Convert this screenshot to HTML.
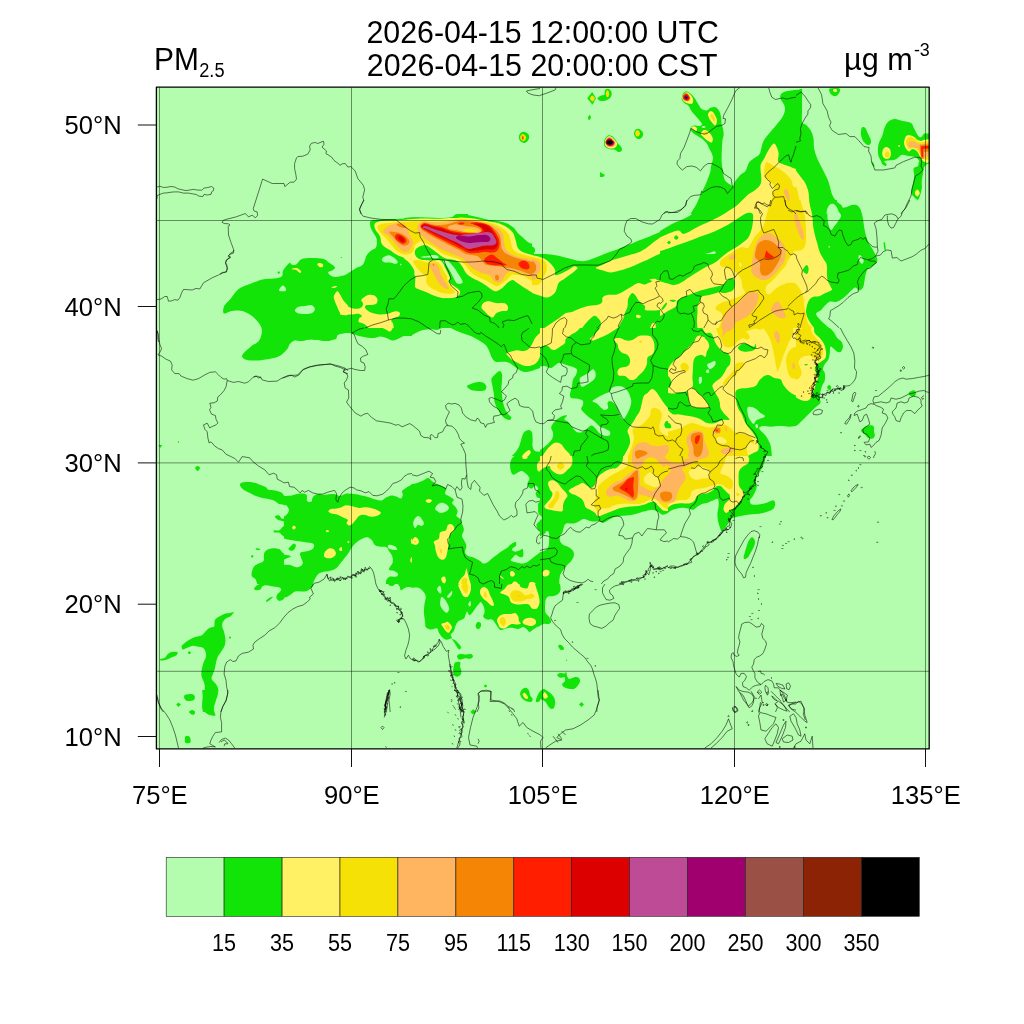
<!DOCTYPE html>
<html lang="en"><head><meta charset="utf-8"><title>PM2.5 2026-04-15 12:00:00 UTC</title>
<style>
html,body{margin:0;padding:0;background:#fff;width:1024px;height:1024px;overflow:hidden}
svg{display:block;position:absolute;left:0;top:0;will-change:transform}
text{font-family:"Liberation Sans",sans-serif;fill:#000}
.t{font-size:30.35px;text-anchor:middle}
.a{font-size:25.6px}
.u{font-size:30.6px}
.p{font-size:29.9px}
.s{font-size:18.2px}
.v{font-size:17.9px}
.c{font-size:21.6px;text-anchor:middle}
.b path{fill:none;stroke:#000;stroke-width:.55;stroke-linejoin:round}
.g line{stroke:#000;stroke-width:.45}
.k line{stroke:#111;stroke-width:1}
</style></head><body>
<svg width="1024" height="1024" viewBox="0 0 1024 1024">
<defs><clipPath id="m"><rect x="156.4" y="87.2" width="772.8" height="661.7"/></clipPath></defs>
<rect x="156.4" y="87.2" width="772.8" height="661.7" fill="#b4fdae"/>
<g clip-path="url(#m)">
<g shape-rendering="auto">
<path fill="#12e408" d="M158.5 444.9L162.2 444.9L160.4 448Z"/>
<path fill="#12e408" d="M177.8 442C177.8 441.8 178.2 441.2 178.5 441.2C178.8 441.2 179.2 441.8 179.2 442C179.2 442.2 178.8 442.8 178.5 442.8C178.2 442.8 177.8 442.2 177.8 442Z"/>
<path fill="#12e408" d="M195.2 467.9C195.2 467 196.7 466 197.5 466C198.3 466 200 467 200 467.9C200 468.7 198.4 471 197.6 471C196.8 471 195.3 468.7 195.2 467.9Z"/>
<path fill="#12e408" d="M240 484.1C240.4 483.3 241.5 482.6 243.5 482.2C245.5 481.9 249.5 481.8 252.2 482.2C255 482.7 257.5 483.9 259.8 484.8C262 485.6 264.5 486.4 266 487.2C267.5 488.1 267 489.2 268.5 489.8C270 490.3 272.7 490 274.8 490.4C276.8 490.8 279.5 491.4 281 492.2C282.5 493.1 283.5 494.9 284 495.4C284.5 495.9 284 495.4 284 495.4L284 504.8C284 504.8 280.7 504.8 279.1 504.1C277.6 503.5 276.5 501.8 274.8 501C273 500.2 270.6 499.6 268.5 499.1C266.4 498.6 264.3 498.4 262.2 497.9C260.2 497.4 258.1 496.8 256 496C253.9 495.2 251.6 493.8 249.8 492.9C247.9 491.9 246.2 491.3 244.8 490.4C243.3 489.4 241.8 488.3 241 487.2C240.2 486.2 239.6 485 240 484.1Z"/>
<path fill="#12e408" d="M274.8 516.6C275 515.9 278 515.1 279.1 515.4C280.3 515.7 280.8 518 281.6 518.5C282.4 519 284 518.5 284 518.5L284 521.6C284 521.6 283.3 521.3 282.2 521C281.2 520.7 279.1 520.5 277.9 519.8C276.6 519 274.5 517.4 274.8 516.6Z"/>
<path fill="#12e408" d="M274.1 530.4C275 530 277.8 530.9 279.1 530.4C280.5 529.9 281.4 528 282.2 527.2C283.1 526.5 284 526 284 526L284 536.6C284 536.6 282.4 535.4 281.6 534.8C280.8 534.1 280.4 532.9 279.1 532.5C277.9 532.1 275 532.9 274.1 532.5C273.3 532.1 273.3 530.7 274.1 530.4Z"/>
<path fill="#12e408" d="M251.6 575.4C251.3 573.4 252.4 569.2 253.5 567.2C254.6 565.3 256.8 564.5 258.5 563.5C260.2 562.5 262.6 562.7 263.5 561C264.4 559.3 263.5 555.4 264.1 553.5C264.8 551.6 265.8 550.6 267.2 549.8C268.7 548.9 270.9 548.4 272.9 548.2C274.9 548.1 277.6 548.5 279.1 549.1C280.7 549.8 281.4 551.5 282.2 552.2C283.1 553 284 553.5 284 553.5L284 584L257.2 584C257.2 584 256.3 580.6 255.4 579.1C254.4 577.7 251.9 577.4 251.6 575.4Z"/>
<path fill="#12e408" d="M256 548.2C256.6 548.1 259.1 548.5 259.8 548.8C260.4 549 260.3 549.8 259.8 550C259.2 550.2 256.9 550 256.2 549.8C255.6 549.5 255.4 548.4 256 548.2Z"/>
<path fill="#12e408" d="M251 556.4C251 556 251.8 555.1 252.2 555.1C252.7 555.1 253.5 556 253.5 556.4C253.5 556.8 252.7 557.6 252.2 557.6C251.8 557.6 251 556.8 251 556.4Z"/>
<path fill="#12e408" d="M254.1 589C254.1 588.3 255.1 586.7 256 585.9C256.9 585 259.8 584 259.8 584L284 584L284 599C284 599 281 601 279.8 600.9C278.5 600.8 277 599.4 276.6 598.4C276.2 597.3 276.5 596 277.2 594.6C278 593.3 280.6 591.4 281 590.2C281.4 589.1 281 588.4 279.8 587.8C278.5 587.1 275.8 586.9 273.5 586.5C271.2 586.1 267.9 585.2 266 585.2C264.1 585.2 263.2 585.8 262.2 586.5C261.3 587.2 261.4 589 260.4 589.6C259.3 590.2 257 590.4 256 590.2C255 590.1 254.1 589.7 254.1 589Z"/>
<path fill="#12e408" d="M266 600.9C266.3 600.2 268 598.7 269.1 598C270.3 597.3 272.7 596.5 272.9 596.8C273.1 597 271.3 598.8 270.4 599.6C269.4 600.5 268 601.5 267.2 601.8C266.5 602 265.7 601.5 266 600.9Z"/>
<path fill="#12e408" d="M181.6 646.5C181.6 645.7 181.7 645.7 182.9 644.6C184 643.6 186.5 641.5 188.5 640.2C190.5 639 192.6 638 194.8 637.1C196.9 636.3 199.8 636.3 201.6 635.2C203.5 634.2 204.6 632.1 206 630.9C207.4 629.6 208.4 628.5 209.8 627.8C211.1 627 213.3 627.8 214.1 626.5C215 625.2 214 621.8 214.8 620.2C215.5 618.7 216.9 618.2 218.5 617.1C220.1 616.1 222.2 614.7 224.1 614C226 613.3 228.1 613.3 229.8 613C231.4 612.7 233.5 611.6 233.8 612.1C234 612.6 232.3 614.8 231 615.9C229.7 616.9 227.4 617.3 226 618.4C224.6 619.4 223.5 620.8 222.9 622.1C222.2 623.5 222 624.8 222.2 626.5C222.5 628.2 223.6 630 224.1 632.1C224.6 634.2 225.3 636.8 225.4 639C225.5 641.2 225.4 643.3 224.8 645.2C224.1 647.2 222.8 649 221.6 650.9C220.5 652.8 218.8 654.5 217.9 656.5C216.9 658.5 216.5 660.7 216 662.8C215.5 664.8 215.3 667.1 214.8 669C214.2 670.9 213.4 672.3 212.9 674C212.4 675.7 211.3 677.5 211.6 679C211.9 680.5 213.7 681.3 214.8 682.8C215.8 684.2 217.4 685.9 217.9 687.8C218.4 689.6 218.2 691.9 217.9 694C217.6 696.1 216.6 698.2 216 700.2C215.4 702.3 214.5 704.5 214.1 706.5C213.7 708.5 213.5 712 213.5 712L202.9 712C202.9 712 202.2 706.6 202.2 704C202.2 701.4 202.5 699 202.9 696.5C203.3 694 204.5 691.3 204.8 689C205 686.7 204.6 684.8 204.1 682.8C203.6 680.7 202 678.6 201.6 676.5C201.2 674.4 201.3 672.5 201.6 670.2C201.9 668 202.8 665 203.5 662.8C204.2 660.5 205.7 658.4 206 656.5C206.3 654.6 205.9 653 205.4 651.5C204.9 650 204.2 648.6 202.9 647.8C201.5 646.9 199 646.8 197.2 646.5C195.5 646.2 193.9 645.7 192.2 645.9C190.6 646.1 188.8 647.1 187.2 647.8C185.7 648.4 183.8 649.8 182.9 649.6C181.9 649.4 181.6 647.3 181.6 646.5Z"/>
<path fill="#12e408" d="M160.4 659C161.1 658.5 163.5 658.6 164.8 657.8C166 656.9 166.7 654.9 167.9 654C169 653.1 170.1 652.4 171.6 652.1C173.2 651.8 176.4 651.6 177.2 652.1C178.1 652.6 177.5 654.4 176.6 655.2C175.8 656.1 173.6 656.5 172.2 657.1C170.9 657.8 169.9 658.5 168.5 659C167.1 659.5 165.5 660 164.1 660.2C162.8 660.5 161 660.7 160.4 660.5C159.8 660.3 159.6 659.5 160.4 659Z"/>
<path fill="#12e408" d="M187.9 652.8C187.9 652.2 188.9 651.2 189.4 651.2C189.9 651.2 190.9 652.2 190.9 652.8C190.9 653.2 189.9 654.2 189.4 654.2C188.9 654.2 187.9 653.2 187.9 652.8Z"/>
<path fill="#12e408" d="M228.9 637.5C228.9 637.1 229.6 636.4 230 636.4C230.4 636.4 231.1 637.1 231.1 637.5C231.1 637.9 230.4 638.6 230 638.6C229.6 638.6 228.9 637.9 228.9 637.5Z"/>
<path fill="#12e408" d="M184.1 696.5C184.3 695.8 184.6 695 186 694.6C187.4 694.2 190.8 693.7 192.2 694C193.7 694.3 194.5 695.5 194.8 696.5C195 697.5 194.8 699.5 193.5 700.2C192.2 701 188.7 701.1 187.2 700.9C185.8 700.7 185.3 699.7 184.8 699C184.2 698.3 183.9 697.2 184.1 696.5Z"/>
<path fill="#12e408" d="M176.2 704.6L178.5 702.4L180.8 704.6L178.5 706.9Z"/>
<path fill="#12e408" d="M189.1 712C189.1 712 191.3 710.2 192.2 710.2C193.2 710.2 194.8 712 194.8 712L189.1 712Z"/>
<path fill="#12e408" d="M202.2 690C202.2 690 202.9 697.1 202.9 700C202.9 702.9 201.9 705.5 202.2 707.5C202.6 709.5 203.5 710.6 204.8 711.9C206 713.1 208 714.4 209.8 715C211.5 715.6 214.6 716.2 215.4 715.6C216.1 715 214.4 713 214.1 711.2C213.8 709.5 213.2 707.3 213.5 705C213.8 702.7 215.2 700 216 697.5C216.8 695 218.5 690 218.5 690L202.2 690Z"/>
<path fill="#12e408" d="M189.1 711.9C189.2 711.1 191.3 710 192.2 710C193.2 710 194.7 711.1 195 711.9C195.3 712.6 194.7 714 194.1 714.4C193.6 714.8 192.5 714.8 191.6 714.4C190.8 714 189 712.6 189.1 711.9Z"/>
<path fill="#12e408" d="M185 737.5C185.2 736.4 185.8 736.1 186.6 736C187.4 735.9 189.1 735.8 189.8 736.9C190.4 738 191.1 741.5 190.4 742.5C189.6 743.5 186.3 743.6 185.4 742.8C184.5 741.9 184.8 738.6 185 737.5Z"/>
<path fill="#12e408" d="M223.1 311.9C223 310.6 223.2 307.7 224.4 305.6C225.5 303.5 227.8 302 230 299.4C232.2 296.8 235.2 292.2 237.5 290C239.8 287.8 241.5 287.3 243.8 286.2C246 285.2 248.1 284.6 251.2 283.5C254.4 282.4 258.8 280.2 262.5 279.4C266.2 278.5 270.5 279 273.8 278.5C277 278 280.3 277.6 281.9 276.2C283.4 274.9 281.9 272.8 283.1 270.6C284.4 268.4 287.9 264.1 289.4 263.1C290.8 262.1 290.7 264.5 291.9 264.8C293 265 294.6 265.3 296.2 264.4C297.9 263.4 299.2 260 301.9 259C304.6 258 308.9 258.1 312.5 258.1C316.1 258.1 321 258.3 323.8 259C326.5 259.7 326.9 261.2 328.8 262.5C330.6 263.8 334 265.6 334.8 266.9C335.5 268.1 334.2 269.1 333.1 270C332 270.9 328.2 271.4 328.1 272.5C328 273.6 330.5 275.8 332.5 276.5C334.5 277.2 337.4 276.8 340 276.5C342.6 276.2 348 275 348 275L348 332.5C348 332.5 343.6 333.1 341.9 333.5C340.1 333.9 338.4 334.1 337.5 335C336.6 335.9 337.1 338 336.2 338.8C335.4 339.5 334.2 339.4 332.5 339.8C330.8 340.1 328.5 341 326.2 341C324 341 321.5 340.3 318.8 340C316 339.7 312.9 339.2 310 339.4C307.1 339.5 303.8 340.9 301.2 341C298.8 341.1 296.9 339.8 295 340.2C293.1 340.7 291.2 342.3 290 343.8C288.8 345.2 289 346.9 287.5 348.8C286 350.6 283.5 353.4 281.2 355C279 356.6 276.9 357.3 273.8 358.1C270.6 359 265.6 359.6 262.5 360C259.4 360.4 257.7 360.7 255 360.6C252.3 360.6 248.4 360.4 246.2 359.8C244.1 359.1 242.7 358 242.2 356.9C241.8 355.8 242.2 354.9 243.8 353.1C245.2 351.4 249 348.1 251.2 346.2C253.5 344.4 255.9 343.7 257.5 342.2C259.1 340.8 259.9 339.5 260.6 337.5C261.4 335.5 262.1 332.3 261.9 330C261.7 327.7 260.7 325.8 259.4 323.8C258 321.7 255.9 319.4 253.8 317.5C251.6 315.6 248.8 313.6 246.2 312.5C243.8 311.4 241.5 310.8 238.8 310.6C236 310.5 232.3 311 230 311.5C227.7 312 226.1 313.4 225 313.5C223.9 313.6 223.2 313.2 223.1 311.9Z"/>
<path fill="#12e408" d="M277.5 272.5C277.5 272.1 278.3 271.2 278.8 271.2C279.2 271.2 280 272.1 280 272.5C280 272.9 279.2 273.8 278.8 273.8C278.3 273.8 277.5 272.9 277.5 272.5Z"/>
<path fill="#12e408" d="M340.6 257.5C340.6 257.3 341 256.9 341.2 256.9C341.5 256.9 341.9 257.3 341.9 257.5C341.9 257.7 341.5 258.1 341.2 258.1C341 258.1 340.6 257.7 340.6 257.5Z"/>
<path fill="#12e408" d="M284 351.8C284 351.8 286.1 348.3 287.1 346.8C288.2 345.2 288.9 343.5 290.2 342.4C291.6 341.3 293.4 340.5 295.2 340.2C297.1 340 299.2 341.2 301.5 341.1C303.8 341 306.3 339.7 309 339.5C311.7 339.3 314.8 339.6 317.8 339.9C320.7 340.1 323.8 341.2 326.5 341.1C329.2 341 332.1 340.3 334 339.2C335.9 338.2 336.1 335.9 337.8 334.9C339.4 333.9 341.7 333.5 344 333.2C346.3 333 349 333.1 351.5 333.6C354 334.1 356.5 335.5 359 336.1C361.5 336.8 364 337.1 366.5 337.4C369 337.7 371.7 338.1 374 338C376.3 337.9 378.2 336.5 380.2 336.5C382.3 336.5 384.4 337.3 386.5 338C388.6 338.7 390.7 340.4 392.8 340.5C394.8 340.6 397.1 339.4 399 338.6C400.9 337.9 401.8 336.5 404 336.1C406.2 335.7 410.7 336.1 412 336.1C413.3 336.1 412 336.1 412 336.1L412 328L284 328L284 351.8Z"/>
<path fill="#12e408" d="M284 496C284 496 288.8 495.8 291.5 495.4C294.2 495 297.8 493.6 300.2 493.5C302.8 493.4 305.4 493.5 306.5 494.8C307.6 496 306.3 499.9 307.1 501C308 502.1 310.6 502.2 311.5 501.6C312.4 501 311.7 498.5 312.8 497.2C313.8 496 315.7 494.5 317.8 494.1C319.8 493.7 322.5 494.8 325.2 494.8C328 494.8 331.5 493.9 334 494.1C336.5 494.3 338.2 496.1 340.2 496C342.3 495.9 344.2 493.8 346.5 493.5C348.8 493.2 351.5 493.8 354 494.1C356.5 494.4 359 494.9 361.5 495.4C364 495.9 366.5 496.5 369 497.2C371.5 498 374.4 499.2 376.5 499.8C378.6 500.3 379.8 500.8 381.5 500.4C383.2 500 384.8 498.1 386.5 497.2C388.2 496.4 389.8 495.5 391.5 495.4C393.2 495.3 394.9 496.1 396.5 496.6C398.1 497.1 399.8 498.8 400.9 498.5C401.9 498.2 402.5 496 402.8 494.8C403 493.5 401.6 492.1 402.1 491C402.6 489.9 404.5 488.8 405.9 487.9C407.2 486.9 409.2 486 410.2 485.4C411.3 484.8 412 484.1 412 484.1L412 584L284 584L284 496Z"/>
<path fill="#12e408" d="M284 584L314 584C314 584 312.6 586.6 311.5 587.8C310.4 588.9 308.8 590.2 307.1 590.9C305.5 591.5 303.5 591.4 301.5 591.5C299.5 591.6 296.9 591.1 295.2 591.5C293.6 591.9 292.8 593.2 291.5 594C290.2 594.8 289 595.9 287.8 596.5C286.5 597.1 284 597.8 284 597.8L284 584Z"/>
<path fill="#12e408" d="M388.4 584C388.4 584 388.3 584.9 389 585.2C389.7 585.6 391.7 586.1 392.8 585.9C393.8 585.7 395.2 584 395.2 584L388.4 584Z"/>
<path fill="#12e408" d="M397.8 584C397.8 584 399.1 585.5 399.6 586.5C400.1 587.5 400.1 589.9 400.9 590.2C401.6 590.6 402.9 588.9 404 588.4C405.1 587.9 406.4 587.2 407.8 587.1C409.1 587 412 587.8 412 587.8L412 584L397.8 584Z"/>
<path fill="#12e408" d="M340 276.2C340 276.2 343.3 275.7 345 275C346.7 274.3 348.1 273 350 271.9C351.9 270.7 354.2 269.3 356.2 268.1C358.3 267 361 266.4 362.5 265C364 263.6 364.3 261.7 365 260C365.7 258.3 365.8 256.6 366.9 255C367.9 253.4 369.8 251.8 371.2 250.6C372.7 249.5 374.7 249.5 375.6 248.1C376.6 246.8 376.8 244.3 376.9 242.5C377 240.7 376.9 239.2 376.2 237.5C375.6 235.8 374.1 234.2 373.1 232.5C372.2 230.8 371.1 229.2 370.6 227.5C370.1 225.8 369.8 223.6 370 222.5C370.2 221.4 370.6 221.1 371.9 220.6C373.1 220.2 374.5 220 377.5 219.8C380.5 219.5 385.8 219.2 390 219C394.2 218.8 398.3 219 402.5 218.8C406.7 218.5 410.8 217.7 415 217.5C419.2 217.3 423.3 217.4 427.5 217.5C431.7 217.6 435.8 218.2 440 218.1C444.2 218 449.8 217.5 452.5 216.9C455.2 216.2 453.7 214.9 456.2 214.4C458.8 213.9 466 214.1 468 214C470 213.9 468 214 468 214L468 328L340 328L340 276.2Z"/>
<path fill="#12e408" d="M341 257.5C341 257.3 341.3 257 341.5 257C341.7 257 342 257.3 342 257.5C342 257.7 341.7 258 341.5 258C341.3 258 341 257.7 341 257.5Z"/>
<path fill="#12e408" d="M470.5 712L473 709.5L476 712L473 714.5Z"/>
<path fill="#12e408" d="M404 218.1C404 218.1 409.8 217.2 414 217.2C418.2 217.2 424.4 217.9 429 218.1C433.6 218.4 437.8 218.9 441.5 218.8C445.2 218.6 449.2 218.2 451.5 217.5C453.8 216.8 453.8 215.3 455.2 214.8C456.7 214.2 458 213.9 460.2 214C462.5 214.1 465.9 214.7 469 215.2C472.1 215.8 475.7 216.7 479 217.5C482.3 218.3 485.7 219.4 489 220C492.3 220.6 495.9 220.6 499 221.2C502.1 221.9 505.2 222.6 507.8 223.8C510.2 224.9 512.3 226.6 514 228.1C515.7 229.7 516.3 231.6 517.8 233.1C519.2 234.7 521.1 236 522.8 237.5C524.4 239 526.2 240.8 527.8 241.9C529.3 242.9 531.3 243.4 532 243.8C532.7 244.1 532 243.8 532 243.8L532 328L404 328L404 218.1Z"/>
<path fill="#12e408" d="M518.9 137.2C518.8 135.9 519.6 134.1 520.5 133.2C521.4 132.4 523.2 131.7 524.5 131.9C525.8 132 527.5 133.2 528.2 134.1C529 135.1 529.4 136.4 529.2 137.5C529.1 138.6 528.4 140.1 527.6 141C526.8 141.9 525.6 142.9 524.5 143C523.4 143.1 521.7 142.6 520.8 141.6C519.8 140.7 518.9 138.6 518.9 137.2Z"/>
<path fill="#12e408" d="M412 334.9C412 334.9 415.1 333.2 417 332.4C418.9 331.5 421 330.4 423.2 329.9C425.5 329.4 428.5 329.2 430.8 329.2C433 329.2 435.1 330.1 437 329.9C438.9 329.7 442 328 442 328L412 328L412 334.9Z"/>
<path fill="#12e408" d="M450.8 328C450.8 328 453.9 329.7 455.8 330.5C457.6 331.3 459.7 332.2 462 333C464.3 333.8 467 334.5 469.5 335.5C472 336.5 474.7 338 477 339.2C479.3 340.5 481.6 341.8 483.2 343C484.9 344.2 486 345.3 487 346.8C488 348.2 488.7 349.9 489.5 351.8C490.3 353.6 491 356.3 492 358C493 359.7 494.1 361.1 495.8 361.8C497.4 362.4 499.9 361.6 502 361.8C504.1 361.9 506.4 361.8 508.2 362.4C510.1 363 511.6 364.4 513.2 365.5C514.9 366.6 516.6 368.2 518.2 369.2C519.9 370.3 521.6 371.3 523.2 371.8C524.9 372.2 526.4 372.1 528.2 371.8C530.1 371.4 532.5 370.5 534.5 369.9C536.5 369.2 540 368 540 368L540 328L450.8 328Z"/>
<path fill="#12e408" d="M467 386.5C467 385.4 470.1 384.4 472 383.6C473.9 382.9 476.3 382.1 478.2 382C480.2 381.9 482.5 382.2 483.9 383C485.2 383.8 486.3 385.5 486.4 386.8C486.5 388 485.9 389.8 484.5 390.5C483.1 391.2 480.3 390.9 478.2 390.9C476.2 390.8 473.9 391 472 390.2C470.1 389.5 467 387.6 467 386.5Z"/>
<path fill="#12e408" d="M491.4 379.2C491.7 377.3 493.1 376.2 494.5 374.9C495.9 373.5 498.2 371.2 499.5 371.1C500.8 371 501.6 372.7 502 374.2C502.4 375.8 502.1 378.2 502 380.5C501.9 382.8 501.4 385.5 501.4 388C501.4 390.5 501.7 393 502 395.5C502.3 398 502.7 400.7 503.2 403C503.8 405.3 504.3 407.4 505.1 409.2C506 411.1 507.2 412.9 508.2 414.2C509.3 415.6 511.2 416.4 511.4 417.4C511.6 418.3 510.5 419.7 509.5 419.9C508.5 420.1 506.6 419.6 505.1 418.6C503.7 417.7 502.1 416 500.8 414.2C499.4 412.5 498 410.1 497 408C496 405.9 495 404 494.5 401.8C494 399.5 494.2 396.8 493.9 394.2C493.6 391.8 493 389.2 492.6 386.8C492.2 384.2 491.1 381.2 491.4 379.2Z"/>
<path fill="#12e408" d="M512 456C512 456 514.5 453.5 515.8 451.8C517 450 518.5 448 519.5 445.5C520.5 443 521.2 439 522 436.8C522.8 434.5 523.4 432.9 524.5 431.8C525.6 430.6 527.6 429.8 528.9 429.9C530.1 430 531.4 430.8 532 432.4C532.6 433.9 532.5 436.9 532.6 439.2C532.7 441.6 532.2 444.8 532.6 446.8C533 448.7 533.9 450.3 535.1 451.1C536.4 452 539.2 451.6 540 451.8C540.8 451.9 540 451.8 540 451.8L540 456L512 456Z"/>
<path fill="#12e408" d="M412 484.1C412 484.1 415.1 483.5 417 482.9C418.9 482.2 421.4 481.2 423.2 480.4C425.1 479.5 426.7 477.7 428.2 477.9C429.8 478.1 431.2 480.6 432.6 481.6C434.1 482.7 435 483.2 437 484.1C439 485.1 442.9 486.4 444.5 487.2C446.1 488.1 446.3 488.1 446.4 489.1C446.5 490.2 444.6 492.2 445.1 493.5C445.6 494.8 448 495.6 449.5 496.6C451 497.7 453.5 498.7 453.9 499.8C454.3 500.8 451.7 501.6 452 502.9C452.3 504.1 454.8 505.8 455.8 507.2C456.7 508.7 457.5 510.2 457.6 511.6C457.7 513.1 456 514.8 456.4 516C456.8 517.2 459.2 517.9 460.1 519.1C461.1 520.4 461.4 521.7 462 523.5C462.6 525.3 463.9 527.7 463.9 529.8C463.9 531.8 461.9 534.1 462 536C462.1 537.9 463.8 539.3 464.5 541C465.2 542.7 466.3 544.1 466.4 546C466.5 547.9 464.8 550.6 465.1 552.2C465.4 553.9 466.7 555.1 468.2 556C469.8 556.9 472.5 557 474.5 557.9C476.5 558.7 478.7 560.1 480.1 561C481.6 561.9 482 563.3 483.2 563.5C484.5 563.7 486.2 563.1 487.6 562.2C489.1 561.4 490.4 559.8 492 558.5C493.6 557.2 495.3 556 497 554.8C498.7 553.5 500.3 552.1 502 551C503.7 549.9 505.3 549.1 507 547.9C508.7 546.6 510.5 544.4 512 543.5C513.5 542.6 515.1 541.8 515.8 542.2C516.4 542.7 516.4 544.9 515.8 546C515.1 547.1 512.2 548.2 512 549.1C511.8 550.1 513.2 551.4 514.5 551.6C515.8 551.8 518.1 550.8 519.5 550.4C520.9 550 522 548.2 522.6 549.1C523.2 550.1 523.7 554.6 523.2 556C522.8 557.4 521.4 557.5 520.1 557.2C518.9 557 516.9 554.8 515.8 554.8C514.6 554.8 514.1 556.3 513.2 557.2C512.4 558.2 510.3 559.5 510.8 560.4C511.2 561.2 513.9 561.7 515.8 562.2C517.6 562.8 520.1 563.5 522 563.5C523.9 563.5 525.3 563.1 527 562.2C528.7 561.4 530.3 559.8 532 558.5C533.7 557.2 535.7 555.8 537 554.8C538.3 553.7 540 552.2 540 552.2L540 584L412 584L412 484.1Z"/>
<path fill="#12e408" d="M510.1 463.5C510.3 461.4 511.3 459.8 512 458.5C512.7 457.2 514.5 456 514.5 456L540 456L540 497.9C540 497.9 537.7 498.1 537 497.2C536.3 496.4 535.5 494.3 535.8 492.9C536 491.4 538.4 489.8 538.2 488.5C538.1 487.2 536.2 485.4 535.1 485.4C534.1 485.4 533 488.2 532 488.5C531 488.8 529.6 488.2 528.9 487.2C528.1 486.3 527.5 484.3 527.6 482.9C527.7 481.4 529.7 480 529.5 478.5C529.3 477 527.6 475.4 526.4 474.1C525.1 472.9 523.4 471.3 522 471C520.6 470.7 519.7 471.6 518.2 472.2C516.8 472.9 514.5 475 513.2 474.8C512 474.5 511.3 472.9 510.8 471C510.2 469.1 509.9 465.6 510.1 463.5Z"/>
<path fill="#12e408" d="M538.2 503.5C538.5 501.8 540 502.2 540 502.2L540 514.8C540 514.8 538.5 514.1 538.2 512.2C538 510.4 538 505.2 538.2 503.5Z"/>
<path fill="#12e408" d="M536.4 524.8C536.7 523.3 540 521 540 521L540 531C540 531 538.9 530.8 538.2 529.8C537.6 528.7 536.1 526.2 536.4 524.8Z"/>
<path fill="#12e408" d="M412 587.8C412 587.8 416.4 587.1 418.2 587.8C420.1 588.4 422 590 423.2 591.5C424.5 593 425.5 594.4 425.8 596.5C426 598.6 424.8 601.3 424.5 604C424.2 606.7 423.8 609.8 423.9 612.8C424 615.7 424.8 619.1 425.1 621.5C425.4 623.9 424.8 625.8 425.8 627.1C426.7 628.5 428.9 629.4 430.8 629.6C432.6 629.8 435.6 627.9 437 628.4C438.4 628.9 438 631.3 438.9 632.8C439.7 634.2 440.9 636 442 637.1C443.1 638.3 444.5 639.3 445.8 639.6C447 639.9 448.5 639.3 449.5 639C450.5 638.7 451.8 638.5 452 637.8C452.2 637 450.4 635.8 450.8 634.6C451.1 633.5 453 632.4 453.9 630.9C454.7 629.3 455 626.8 455.8 625.2C456.5 623.7 457.2 622.4 458.2 621.5C459.3 620.6 461 620.2 462 619.6C463 619 463.7 619.1 464.5 617.8C465.3 616.4 466.2 611.9 467 611.5C467.8 611.1 468.5 615.2 469.5 615.2C470.5 615.2 472.2 612.8 473.2 611.5C474.3 610.2 474.8 609 475.8 607.8C476.7 606.5 478 604.9 478.9 604C479.7 603.1 479.9 601.6 480.8 602.1C481.6 602.6 483.2 605.4 483.9 607.1C484.5 608.9 484.6 611.2 484.5 612.8C484.4 614.3 482.8 615.4 483.2 616.5C483.7 617.6 485.5 619.1 487 619.6C488.5 620.1 490.5 618.9 492 619.6C493.5 620.4 494.7 622.6 495.8 624C496.8 625.4 497.4 626.7 498.2 627.8C499.1 628.8 499.5 630.1 500.8 630.2C502 630.4 503.9 628.8 505.8 628.4C507.6 628 509.9 627.6 512 627.8C514.1 627.9 516.4 629.1 518.2 629C520.1 628.9 521.8 627 523.2 627.1C524.7 627.2 526 628.8 527 629.6C528 630.5 528.5 632.1 529.5 632.1C530.5 632.1 532 630.5 533.2 629.6C534.5 628.8 535.9 627.8 537 627.1C538.1 626.5 540 625.9 540 625.9L540 584L412 584L412 587.8Z"/>
<path fill="#12e408" d="M475.8 625.2C476 624.3 476.8 622.5 477.6 622.1C478.4 621.7 479.9 622.1 480.5 622.8C481.1 623.4 481.3 624.8 481 625.9C480.7 626.9 479.6 628.6 478.9 629C478.1 629.4 476.9 628.6 476.4 628C475.9 627.4 475.5 626.2 475.8 625.2Z"/>
<path fill="#12e408" d="M452 639C452.1 638.6 454 639.4 455.1 640.2C456.3 641.1 457.9 642.9 458.9 644C459.9 645.1 460.9 646.2 461 647.1C461.1 648.1 460.2 649.6 459.5 649.6C458.8 649.6 457.8 648.3 457 647.1C456.2 646 455.3 644.1 454.5 642.8C453.7 641.4 451.9 639.4 452 639Z"/>
<path fill="#12e408" d="M457 656.2C457.1 655.3 458.7 654.3 460.1 654C461.6 653.7 464 654.6 465.8 654.6C467.5 654.6 469.5 653.7 470.8 654C472 654.3 473.1 655.5 473 656.2C472.9 657 471.5 658.4 470.1 658.8C468.7 659.1 466.3 658.2 464.5 658.4C462.7 658.5 460.8 660 459.5 659.6C458.2 659.3 456.9 657.2 457 656.2Z"/>
<path fill="#12e408" d="M453.2 670.2C453.2 668.7 453.5 666.6 453.9 665.2C454.3 663.9 454.7 662.6 455.8 662.1C456.8 661.6 459.4 661.4 460.1 662.1C460.9 662.9 459.9 664.9 460.1 666.5C460.3 668.1 461.4 670 461.4 671.5C461.4 673 461 674.4 460.1 675.2C459.3 676.1 457.4 676.9 456.4 676.8C455.3 676.6 454.4 675.7 453.9 674.6C453.4 673.5 453.2 671.8 453.2 670.2Z"/>
<path fill="#12e408" d="M484 685.9C484 685.4 485 684.4 485.5 684.4C486 684.4 487 685.4 487 685.9C487 686.4 486 687.4 485.5 687.4C485 687.4 484 686.4 484 685.9Z"/>
<path fill="#12e408" d="M520.1 694C520 692.4 521.1 690.7 522 689.6C522.9 688.6 524.6 687.6 525.8 687.8C526.9 687.9 528.1 689 528.9 690.2C529.6 691.5 529.5 693.8 530.1 695.2C530.8 696.7 532.4 697.9 532.6 699C532.8 700.1 532.3 701.3 531.4 701.8C530.4 702.2 528.5 702 527 701.5C525.5 701 523.8 700.2 522.6 699C521.5 697.8 520.2 695.6 520.1 694Z"/>
<path fill="#12e408" d="M535.8 701.5C535.6 700.4 536.9 696.9 537.6 695.2C538.3 693.6 540 691.5 540 691.5L540 700.9C540 700.9 539 701.6 538.2 701.8C537.5 701.9 535.9 702.6 535.8 701.5Z"/>
<path fill="#12e408" d="M471.4 712C471.4 712 472.4 709.6 473.2 709.6C474.1 709.6 476.4 712 476.4 712L471.4 712Z"/>
<path fill="#12e408" d="M532 246.2C532 246.2 534 247.3 534.5 248.1C535 249 535.2 250.3 535.1 251.2C535 252.2 533.1 253.3 533.9 253.8C534.6 254.2 536.7 253.9 539.5 254C542.3 254.1 546.8 253.9 550.8 254.4C554.7 254.9 559.5 256 563.2 256.9C567 257.7 570.5 258.7 573.2 259.4C576 260.1 577.2 260.8 579.5 261C581.8 261.2 584.1 261.3 587 260.6C589.9 259.9 593.7 258.1 597 256.9C600.3 255.6 603.7 254.4 607 253.1C610.3 251.9 613.7 250.6 617 249.4C620.3 248.1 623.7 247 627 245.6C630.3 244.3 633.7 242.6 637 241.2C640.3 239.9 643.2 239.1 647 237.5C650.8 235.9 657.8 232.8 660 231.9C662.2 230.9 660 231.9 660 231.9L660 328L532 328L532 246.2Z"/>
<path fill="#12e408" d="M587.2 98.2L592.2 92L596 98.2L592.5 104.8Z"/>
<path fill="#12e408" d="M597.5 98.2C597.7 97.4 600.1 96 601.2 95.4C602.4 94.8 603.8 95.6 604.4 94.8C605 93.9 604.4 91.4 605 90.4C605.6 89.4 607.1 88.5 608.1 88.8C609.2 89 610.7 90.5 611.2 91.6C611.8 92.7 611.9 94.1 611.5 95.4C611.1 96.6 609.8 98.2 608.8 99.1C607.7 100 606.5 100.5 605 100.8C603.5 101 601.2 101.2 600 100.8C598.8 100.3 597.3 99.1 597.5 98.2Z"/>
<path fill="#12e408" d="M588.1 117.2C588.3 116.5 589.2 115 589.6 115C590.1 115 590.9 116.5 590.9 117.2C590.9 118 590.2 119.4 589.8 119.8C589.3 120.1 588.6 119.9 588.4 119.5C588.1 119.1 587.9 118 588.1 117.2Z"/>
<path fill="#12e408" d="M604 143.5C604 142.1 604.3 139.9 605 138.5C605.7 137.1 607 135.8 608.1 135.4C609.3 135 610.7 135.4 611.9 136C613 136.6 614.1 138 615 139.1C615.9 140.3 616.7 141.8 617.5 142.9C618.3 143.9 619.3 144.4 620 145.4C620.7 146.3 621.7 147.5 621.9 148.5C622.1 149.5 621.9 150.7 621.2 151.2C620.6 151.8 619.2 152.1 618.1 151.9C617.1 151.6 616.1 150.1 615 149.8C613.9 149.4 612.5 149.7 611.2 149.5C610 149.3 608.6 149 607.5 148.5C606.4 148 605.3 147.5 604.8 146.6C604.2 145.8 604 144.9 604 143.5Z"/>
<path fill="#12e408" d="M634 133.5C634 132.2 634.8 130.5 635.6 129.8C636.4 129 637.7 128.7 638.8 128.9C639.8 129.1 641.1 130.1 641.9 131C642.6 131.9 643.1 133 643.1 134.1C643.1 135.2 642.6 136.7 641.9 137.5C641.1 138.3 639.8 139.2 638.8 139.1C637.7 139.1 636.4 138.2 635.6 137.2C634.8 136.3 634 134.8 634 133.5Z"/>
<path fill="#12e408" d="M600 172L605 175L603.1 177L600 177Z"/>
<path fill="#12e408" d="M540 328L668 328L668 456L540 456L540 328Z"/>
<path fill="#12e408" d="M540 456L668 456L668 584L540 584L540 456Z"/>
<path fill="#12e408" d="M540 584L560 584C560 584 560.8 587.4 560.6 589C560.4 590.6 559.9 592.2 558.8 593.4C557.6 594.5 555.5 595.4 553.8 595.9C552 596.4 549.5 595.8 548.1 596.5C546.8 597.2 546.1 598.6 545.6 600.2C545.1 601.9 545 604.4 545 606.5C545 608.6 545 611.1 545.6 612.8C546.2 614.4 547.8 615 548.8 616.5C549.7 618 551.2 620.2 551.2 621.5C551.2 622.8 550 623.6 548.8 624C547.5 624.4 545.2 623.4 543.8 623.8C542.3 624.1 540 625.9 540 625.9L540 584Z"/>
<path fill="#12e408" d="M558.1 645.5C558.3 644.8 560.3 644.5 561.2 644.9C562.2 645.2 563.4 646.9 563.8 647.8C564.1 648.6 563.8 649.8 563.1 650C562.5 650.2 560.8 650 560 649.2C559.2 648.5 557.9 646.2 558.1 645.5Z"/>
<path fill="#12e408" d="M565.9 660.2C565.9 660 566.3 659.6 566.5 659.6C566.7 659.6 567.1 660 567.1 660.2C567.1 660.5 566.7 660.9 566.5 660.9C566.3 660.9 565.9 660.5 565.9 660.2Z"/>
<path fill="#12e408" d="M557.2 675.2C557.1 674.5 558.8 673.3 560 673C561.2 672.7 563.3 673.5 564.4 673.4C565.4 673.2 565.8 671.6 566.2 672.1C566.7 672.6 566.7 675.4 567.2 676.5C567.8 677.6 568.1 678.9 569.4 679C570.7 679.1 573.4 677.3 575 677.1C576.6 676.9 577.9 677 578.8 677.8C579.6 678.5 580.2 680.1 580 681.5C579.8 682.9 578.5 684.6 577.5 685.9C576.5 687.1 575.2 688.5 573.8 689C572.3 689.5 570.4 689.1 568.8 688.8C567.1 688.4 564.8 687.9 563.8 687.1C562.7 686.3 562 685 562.2 684C562.5 683 564.6 682 565 680.9C565.4 679.7 565.1 677.6 564.4 677.1C563.6 676.6 561.8 678.1 560.6 677.8C559.4 677.4 557.4 676 557.2 675.2Z"/>
<path fill="#12e408" d="M540 691.5C540 691.5 542.4 689 543.8 689C545.1 689 546.7 690.5 548.1 691.5C549.6 692.5 551.4 693.8 552.5 695.2C553.6 696.7 554.7 698.3 555 700.2C555.3 702.2 554.9 705.7 554.4 707.1C553.9 708.6 552.8 709 551.9 709C550.9 709 549.8 708.3 548.8 707.1C547.7 706 546.8 703.4 545.6 702.1C544.5 700.9 542.8 700 541.9 699.6C540.9 699.2 540 699.6 540 699.6L540 691.5Z"/>
<path fill="#12e408" d="M579 704.6L581.5 702.1L584 704.6L581.5 707.1Z"/>
<path fill="#12e408" d="M660 231.2C660 231.2 662.9 229.4 665 228.1C667.1 226.9 669.8 225.1 672.5 223.8C675.2 222.4 678.5 221.2 681.2 220C684 218.8 686.5 217.7 688.8 216.2C691 214.8 693.5 213.1 695 211.2C696.5 209.4 696.8 206.9 697.5 205C698.2 203.1 699.4 200 699.4 200L788 200L788 328L660 328L660 231.2Z"/>
<path fill="#12e408" d="M681.8 97.9C682 96.8 682.3 94.6 683 93.5C683.7 92.4 684.9 91.2 686.1 91.2C687.4 91.2 689 92.3 690.5 93.5C692 94.7 693.5 96.6 694.9 98.5C696.2 100.4 697.5 103 698.6 104.8C699.8 106.5 700.4 108.2 701.8 109.1C703.1 110.1 705.2 110.6 706.8 110.4C708.3 110.1 709.7 108 711.1 107.5C712.6 107 714.1 106.7 715.5 107.2C716.9 107.8 718.3 109.3 719.2 111C720.2 112.7 720.8 115.2 721.1 117.2C721.5 119.3 721.2 121.6 721.5 123.5C721.8 125.4 722.6 126.6 723 128.5C723.4 130.4 723.7 132.7 723.6 134.8C723.5 136.8 722.7 138.3 722.4 141C722.1 143.7 721.9 147.2 721.8 151C721.6 154.8 721.5 160.2 721.8 163.5C722 166.8 722.6 168.5 723 171C723.4 173.5 723.6 176.6 724.2 178.5C724.9 180.4 725.7 181.2 726.8 182.2C727.8 183.3 729.5 184.1 730.5 184.8C731.5 185.4 732.3 186.4 733 186C733.7 185.6 733.2 184.1 734.5 182.2C735.8 180.4 738.7 176.6 740.5 174.8C742.3 172.9 744 173.1 745.5 171C747 168.9 747.6 164.5 749.2 162.2C750.9 160 753.7 158.7 755.5 157.2C757.3 155.8 758.6 156 759.9 153.5C761.1 151 761.6 145.4 763 142.2C764.4 139.1 765.9 137.5 768 134.8C770.1 132 773 129.1 775.5 126C778 122.9 781.4 119.1 783 116C784.6 112.9 785.3 110.2 784.9 107.2C784.5 104.3 781.1 100.7 780.5 98.5C779.9 96.3 780.3 95.3 781.1 94.1C782 93 783 92.4 785.5 91.6C788 90.9 794.2 90.1 796 89.8C797.8 89.4 796 89.8 796 89.8L796 214L690.5 214C690.5 214 692 211.5 693 209.8C694 208 695.5 206 696.8 203.5C698 201 699.5 197 700.5 194.8C701.5 192.5 702.2 191.4 703 189.8C703.8 188.1 704.7 186.6 705.5 184.8C706.3 182.9 707.2 180.8 708 178.5C708.8 176.2 710 173.1 710.5 171C711 168.9 710.7 168.1 711.1 166C711.5 163.9 712.9 160.6 713 158.5C713.1 156.4 712.4 155.2 711.8 153.5C711.1 151.8 710.1 150.2 709.2 148.5C708.4 146.8 708 145.2 706.8 143.5C705.5 141.8 703.4 139.9 701.8 138.5C700.1 137.1 698.3 136.4 696.8 135.4C695.2 134.4 693.4 133.5 692.4 132.5C691.3 131.5 690.6 130.2 690.5 129.1C690.4 128.1 691 126.9 691.8 126.2C692.5 125.6 693.8 125.4 694.9 125.4C695.9 125.3 697 125.9 698 126C699 126.1 700.1 126.1 700.8 125.8C701.4 125.4 702.1 124.9 702 124.1C701.9 123.3 700.9 122.2 699.9 121C698.9 119.8 697.5 118.2 696.1 116.6C694.8 115.1 693 113.4 691.8 111.6C690.5 109.9 689.9 107.5 688.6 106C687.4 104.5 685.4 103.9 684.2 102.9C683.1 101.8 682.2 100.6 681.8 99.8C681.3 98.9 681.5 98.9 681.8 97.9Z"/>
<path fill="#12e408" d="M668 328L796 328L796 456L668 456L668 328Z"/>
<path fill="#12e408" d="M668 512.9C668 512.9 670.9 510.6 673 509.8C675.1 508.9 678 508.1 680.5 507.9C683 507.7 685.9 508.2 688 508.5C690.1 508.8 691.5 510 693 509.8C694.5 509.5 695.3 508.2 696.8 507.2C698.2 506.3 700.1 504.9 701.8 504.1C703.4 503.4 704.9 503.5 706.8 502.9C708.6 502.2 711.1 501 713 500.4C714.9 499.8 717.1 498.2 718 499.1C718.9 500.1 718.7 503.6 718.6 506C718.5 508.4 717.5 511 717.4 513.5C717.3 516 717.6 518.7 718 521C718.4 523.3 719.2 525.6 719.9 527.2C720.5 528.9 720.8 531 721.8 531C722.7 531 724.2 528.7 725.5 527.2C726.8 525.8 728.2 523.7 729.2 522.2C730.3 520.8 730.7 519.3 731.8 518.5C732.8 517.7 734 517.7 735.5 517.2C737 516.8 738.4 516.4 740.5 516C742.6 515.6 745.5 515.1 748 514.8C750.5 514.4 753 514.4 755.5 514.1C758 513.8 760.7 513.4 763 512.9C765.3 512.4 767.5 511.7 769.2 511C771 510.3 772.6 509.6 773.6 508.5C774.6 507.4 775.2 505.5 775.2 504.1C775.2 502.8 774.8 500.7 773.6 500.4C772.4 500.1 770 501.6 768 502.2C766 502.9 763.8 503.7 761.8 504.1C759.7 504.5 757.3 504.8 755.5 504.8C753.7 504.8 752.1 504.9 751.1 504.1C750.2 503.4 749.6 501.7 749.9 500.4C750.2 499 752.1 497.6 753 496C753.9 494.4 754.9 492.7 755.5 491C756.1 489.3 756.8 487.7 756.8 486C756.8 484.3 755.4 482.7 755.5 481C755.6 479.3 756.5 477.7 757.4 476C758.2 474.3 759.6 472.7 760.5 471C761.4 469.3 762.3 467.7 763 466C763.7 464.3 764.5 462.7 764.9 461C765.3 459.3 765.5 456 765.5 456L668 456L668 512.9Z"/>
<path fill="#12e408" d="M743.6 557.2C743.6 556.1 744.4 554.1 744.9 552.2C745.4 550.4 746.1 547.9 746.8 546C747.4 544.1 747.8 542.5 748.6 541C749.5 539.5 750.8 537.6 751.8 537.2C752.7 536.9 753.7 538.1 754.2 539.1C754.8 540.2 755.1 541.9 754.9 543.5C754.7 545.1 753.7 546.9 753 548.5C752.3 550.1 751.3 551.4 750.5 552.9C749.7 554.3 748.9 556.2 748 557.2C747.1 558.3 745.6 559.1 744.9 559.1C744.1 559.1 743.6 558.4 743.6 557.2Z"/>
<path fill="#12e408" d="M836.8 200C836.8 200 837.2 202.5 838 203.8C838.8 205 840.3 207 841.8 207.5C843.2 208 844.9 207.3 846.8 206.9C848.6 206.5 851.1 205.1 853 205C854.9 204.9 856.6 205.2 858 206.2C859.4 207.3 860.3 209.2 861.1 211.2C862 213.3 862.5 216 863 218.8C863.5 221.5 863.7 224.6 864.2 227.5C864.8 230.4 865.3 233.5 866.1 236.2C867 239 868.1 241.5 869.2 243.8C870.4 246 872 248.1 873 250C874 251.9 874.8 253.3 875.5 255C876.2 256.7 877.4 258.5 877.4 260C877.4 261.5 876.2 262.7 875.5 263.8C874.8 264.8 874.2 265.4 873 266.2C871.8 267.1 869.2 267.3 868 268.8C866.8 270.2 866.1 272.7 865.5 275C864.9 277.3 864.7 280.4 864.2 282.5C863.8 284.6 863.8 286.1 863 287.5C862.2 288.9 860.5 290.6 859.2 290.6C858 290.6 856.8 287.6 855.5 287.5C854.2 287.4 853.2 288.8 851.8 290C850.3 291.2 848.6 293.3 846.8 295C844.9 296.7 842.4 298.9 840.5 300C838.6 301.1 837.4 301.6 835.5 301.9C833.6 302.2 831.1 301.1 829.2 301.9C827.4 302.6 825.7 304.8 824.2 306.2C822.8 307.7 821.9 309.4 820.5 310.6C819.1 311.9 816.3 312.4 816.1 313.8C815.9 315.1 817.9 317.1 819.2 318.8C820.6 320.4 822.6 322.2 824.2 323.8C825.9 325.3 829.2 328 829.2 328L788 328L788 200L836.8 200Z"/>
<path fill="#12e408" d="M883.6 243.1C883.7 241.9 884.5 241.5 884.9 242.5C885.2 243.5 885.8 248.1 885.8 249.4C885.7 250.6 884.9 251 884.5 250C884.1 249 883.6 244.4 883.6 243.1Z"/>
<path fill="#12e408" d="M796 89.8C796 89.8 797.6 89.9 798.5 89.8C799.4 89.6 801 88.3 801.6 88.8C802.2 89.2 802.2 90.2 802.2 92.2C802.3 94.3 802 97.9 802 101C802 104.1 802 107.5 802 111C802 114.5 801.6 120 802.2 122.2C802.9 124.5 804.5 123.3 806 124.8C807.5 126.2 809.8 128.7 811 131C812.2 133.3 813 135.6 813.5 138.5C814 141.4 813.5 145.2 814.1 148.5C814.8 151.8 815.9 155.2 817.2 158.5C818.6 161.8 820.6 165.2 822.2 168.5C823.9 171.8 826 175.6 827.2 178.5C828.5 181.4 828.9 183.3 829.8 186C830.6 188.7 831.2 192.2 832.2 194.8C833.3 197.2 834.5 199.3 836 201C837.5 202.7 839.9 203.6 841 204.8C842.1 205.9 842.2 207 842.9 207.9C843.5 208.7 843.8 210 844.8 209.8C845.7 209.5 847 207.5 848.5 206.6C850 205.8 851.9 204.9 853.5 204.8C855.1 204.6 856.7 205.2 857.9 206C859 206.8 859.9 208.4 860.4 209.8C860.9 211.1 861 214 861 214L796 214L796 89.8Z"/>
<path fill="#12e408" d="M829.1 89.8C829.2 88.9 829.3 88.5 831 88.2C832.7 88 837.7 87.7 839.1 88.2C840.6 88.8 840.1 90.4 839.8 91.6C839.4 92.8 838.3 94.6 837.2 95.4C836.2 96.1 834.6 96.3 833.5 96C832.4 95.7 831.1 94.5 830.4 93.5C829.6 92.5 829 90.6 829.1 89.8Z"/>
<path fill="#12e408" d="M861 131C861.2 129.5 861.5 127.8 862.2 127.2C863 126.7 864.4 126.8 865.4 127.9C866.3 128.9 867 131.5 867.9 133.5C868.8 135.5 870.3 138 870.8 139.8C871.2 141.5 871 143.3 870.4 144.1C869.8 145 868.4 145.2 867.2 144.8C866.1 144.3 864.5 143.1 863.5 141.6C862.5 140.2 861.7 137.8 861.2 136C860.8 134.2 860.8 132.5 861 131Z"/>
<path fill="#12e408" d="M877.9 148.5C878 146.2 878.4 144.3 879.1 142.2C879.9 140.2 881.3 138.5 882.2 136C883.2 133.5 883.7 129.6 884.8 127.2C885.8 124.9 886.8 123 888.5 121.6C890.2 120.3 892.5 119.2 894.8 119.1C897 119 899.5 120.4 902.2 121C905 121.6 909 121.6 911 122.9C913 124.1 913 126.4 914.1 128.5C915.3 130.6 916.7 133.9 917.9 135.4C919 136.8 920.1 137.4 921 137.2C921.9 137.1 922.5 135.4 923 134.8C923.5 134.1 924 133.5 924 133.5L931 133.5L931 164.1L927.2 163.8C927.2 163.8 922.5 162.9 921 162.2C919.5 161.6 919.3 160.6 918.5 159.8C917.7 158.9 917.7 157.9 916 157.2C914.3 156.6 910.8 156.4 908.5 156C906.2 155.6 903.9 154.5 902.2 154.8C900.6 155 899.8 156.4 898.5 157.2C897.2 158.1 896.4 159.2 894.8 159.8C893.1 160.3 890.3 160.1 888.5 160.4C886.7 160.6 884.4 160.6 884.1 161.2C883.8 161.9 886.4 163.3 886.6 164.1C886.8 164.9 886.1 166 885.4 166C884.6 166 883 165 882.2 164.1C881.5 163.3 881.6 162.4 881 161C880.4 159.6 879 158.1 878.5 156C878 153.9 877.8 150.8 877.9 148.5Z"/>
<path fill="#12e408" d="M928.5 162.2L924 167.2C924 167.2 923.4 171.2 923 173.5C922.6 175.8 922 178.5 921.8 181C921.5 183.5 922.1 186 921.8 188.5C921.4 191 920.5 194.1 919.9 196C919.2 197.9 918.9 199.5 918 199.8C917.1 200 915.4 198.5 914.2 197.2C913.1 196 911.3 194.5 911.1 192.2C910.9 190 912.5 186.2 913 183.5C913.5 180.8 914.1 178.5 914.2 176C914.4 173.5 913 170.2 913.6 168.5C914.2 166.8 917 167.2 918 166C919 164.8 918 161.6 919.8 161C921.5 160.4 928.5 162.2 928.5 162.2Z"/>
<path fill="#12e408" d="M871.6 162.9C871.6 162.1 872.4 161.5 872.9 162C873.4 162.5 874.4 165.2 874.5 166C874.6 166.8 873.7 167.1 873.2 166.6C872.8 166.1 871.7 163.6 871.6 162.9Z"/>
<path fill="#12e408" d="M814.1 328L829.8 328C829.8 328 832.2 330.1 833.5 331.8C834.8 333.4 835.9 336.3 837.2 338C838.6 339.7 840.7 340.3 841.6 341.8C842.6 343.2 843 345.1 842.9 346.8C842.8 348.4 841.9 350.9 841 351.8C840.1 352.6 838.5 352.3 837.2 351.8C836 351.2 834.6 349.5 833.5 348.6C832.4 347.8 831 346 830.4 346.8C829.8 347.5 830.1 350.9 829.8 353C829.4 355.1 829.3 357.4 828.5 359.2C827.7 361.1 825.7 362.6 824.8 364.2C823.8 365.9 822.9 367.8 822.9 369.2C822.9 370.7 824.4 371.1 824.8 373C825.1 374.9 825.2 378.4 824.8 380.5C824.3 382.6 823 383.6 822.2 385.5C821.5 387.4 820.8 389.7 820.4 391.8C820 393.8 819.8 396.1 819.8 398C819.8 399.9 821.2 401.3 820.4 403C819.5 404.7 816.5 406.3 814.8 408C813 409.7 811.4 411.3 809.8 413C808.1 414.7 806.4 416.3 804.8 418C803.1 419.7 801.2 421.6 799.8 423C798.3 424.4 796.6 425.6 796 426.1C795.4 426.6 796 426.1 796 426.1L796 328L814.1 328Z"/>
<path fill="#12e408" d="M827.2 386.8C827.5 386 828.5 384.9 829.1 384.9C829.8 384.9 831 385.9 831.2 386.8C831.5 387.6 830.9 389.5 830.4 389.9C829.8 390.3 828.4 389.8 827.9 389.2C827.4 388.7 827 387.5 827.2 386.8Z"/>
<path fill="#12e408" d="M908.5 393.6C908.4 392.7 910.1 391.7 911 391.1C911.9 390.6 913.3 389.9 914.1 390.2C915 390.6 915.9 392 916 393C916.1 394 915.5 395.5 914.8 396.1C914 396.7 912.7 396.9 911.6 396.5C910.6 396.1 908.6 394.5 908.5 393.6Z"/>
<path fill="#12e408" d="M861 430.5C861.2 429.6 862.9 428.2 864.1 427.4C865.4 426.5 866.9 425.7 868.5 425.5C870.1 425.3 872.6 425.1 873.5 426.1C874.4 427.2 873.9 430.2 874.1 431.8C874.3 433.3 875 434.4 874.8 435.5C874.5 436.6 873.9 438.2 872.9 438.6C871.8 439 869.8 438.6 868.5 438C867.2 437.4 866.3 435.7 865.4 434.9C864.4 434 863.6 433.7 862.9 433C862.1 432.3 860.8 431.4 861 430.5Z"/>
<path fill="#b4fdae" d="M282.5 285.6C283.6 285.3 285.1 287.2 285.6 288.1C286.1 289 286.4 290.5 285.6 291C284.9 291.5 282.4 291.4 281.2 291.2C280.1 291.1 278.8 291.2 279 290.2C279.2 289.3 281.4 286 282.5 285.6Z"/>
<path fill="#b4fdae" d="M295 310C295.3 309.1 296.5 307.5 298.1 306.9C299.8 306.2 302.8 306.3 305 306C307.2 305.7 309.6 304.6 311.2 305C312.9 305.4 314.4 307.3 314.8 308.5C315.1 309.7 314.3 311.3 313.1 312.2C311.9 313.2 309.7 313.8 307.5 314C305.3 314.2 301.9 314 300 313.8C298.1 313.5 297.1 312.9 296.2 312.2C295.4 311.6 294.7 310.9 295 310Z"/>
<path fill="#b4fdae" d="M284 505.4C284 505.4 285.7 504.6 286.5 505.4C287.3 506.1 288.9 508.3 289 509.8C289.1 511.2 288 513 287.1 514.1C286.3 515.3 284 516.6 284 516.6L284 505.4Z"/>
<path fill="#b4fdae" d="M284 538.5C284 538.5 286.9 539.3 289 539.8C291.1 540.2 293.8 540.6 296.5 541C299.2 541.4 302.5 541.8 305.2 542.2C308 542.7 311.3 542.8 312.8 543.5C314.2 544.2 314.2 545.6 314 546.6C313.8 547.7 313 548.9 311.5 549.8C310 550.6 307.1 551.1 305.2 551.6C303.4 552.1 301 551.9 300.2 552.9C299.5 553.8 300.5 555.7 300.9 557.2C301.3 558.8 302.6 560.9 302.8 562.2C302.9 563.6 302.5 564.5 301.5 565.4C300.5 566.2 298.2 567.2 296.5 567.2C294.8 567.2 293.2 565.8 291.5 565.4C289.8 565 287.8 564.9 286.5 564.8C285.2 564.6 284 564.8 284 564.8L284 538.5Z"/>
<path fill="#b4fdae" d="M351.5 547.9C352.5 546.4 353.6 545 355.2 543.5C356.9 542 359.5 540.2 361.5 539.1C363.5 538.1 365.5 537.1 367.1 537.2C368.8 537.4 370.2 538.5 371.5 539.8C372.8 541 373.4 543.6 374.6 544.8C375.9 545.9 377 546.2 379 546.6C381 547 384.8 546.5 386.5 547.2C388.2 548 388.1 549.5 389 551C389.9 552.5 391.5 554.1 392.1 556C392.8 557.9 393.1 560.5 392.8 562.2C392.4 564 390.9 565.4 390.2 566.6C389.6 567.9 388.4 569 389 569.8C389.6 570.5 392.5 570.4 394 571C395.5 571.6 397.3 572.6 397.8 573.5C398.2 574.4 397.8 576.1 396.5 576.6C395.2 577.1 391.9 576.1 390.2 576.6C388.6 577.1 387.2 578.5 386.5 579.8C385.8 581 385.9 584 385.9 584L312.8 584C312.8 584 314.2 580.2 315.2 578.5C316.3 576.8 317.3 574.6 319 573.5C320.7 572.4 323.2 572.1 325.2 571.6C327.3 571.1 329.6 571 331.5 570.4C333.4 569.8 335 569 336.5 567.9C338 566.7 338.8 565.3 340.2 563.5C341.7 561.7 343.8 559.1 345.2 557.2C346.7 555.4 348 553.8 349 552.2C350 550.7 350.5 549.3 351.5 547.9Z"/>
<path fill="#b4fdae" d="M387.8 546C388 545.4 389 544.6 390.2 544.8C391.5 544.9 394.1 545.8 395.2 546.6C396.4 547.5 397.5 549.2 397.1 549.8C396.7 550.3 394.1 550 392.8 549.8C391.4 549.5 389.8 549.1 389 548.5C388.2 547.9 387.5 546.6 387.8 546Z"/>
<path fill="#b4fdae" d="M381.9 260C381.8 259.1 382.5 257.7 383.8 256.9C385 256.1 387.6 255 389.4 255.2C391.1 255.5 393 257 394.4 258.1C395.8 259.2 397.5 260.9 397.8 261.9C398 262.8 396.9 263.6 395.6 263.8C394.3 263.9 391.9 262.8 390 262.5C388.1 262.2 385.7 262.7 384.4 262.2C383 261.8 382 260.9 381.9 260Z"/>
<path fill="#b4fdae" d="M399.8 264.6C399.8 264.3 400.3 263.8 400.6 263.8C400.9 263.8 401.5 264.3 401.5 264.6C401.5 264.9 400.9 265.5 400.6 265.5C400.3 265.5 399.8 264.9 399.8 264.6Z"/>
<path fill="#b4fdae" d="M421.9 256.5C422.7 256.2 425.3 256.1 427.5 255.9C429.7 255.6 433.1 254.8 435 255C436.9 255.2 438.5 256.3 438.8 256.9C439 257.4 437.7 258.1 436.2 258.2C434.8 258.4 432.3 257.6 430 257.5C427.7 257.4 423.9 257.8 422.5 257.6C421.1 257.5 421 256.8 421.9 256.5Z"/>
<path fill="#b4fdae" d="M443.8 260C444.5 259.8 446.7 260 448.4 261.2C450.1 262.5 452.2 265.2 454 267.5C455.8 269.8 457.6 272.7 459 275C460.4 277.3 462.1 279.8 462.5 281.2C462.9 282.7 462.4 283.1 461.5 283.5C460.6 283.9 458.4 284.3 457.1 283.5C455.9 282.7 455 280.6 454 278.8C453 276.9 452 274.6 450.9 272.5C449.7 270.4 448.3 267.9 447.1 266.2C446 264.6 444.6 263.5 444 262.5C443.4 261.5 443 260.2 443.8 260Z"/>
<path fill="#b4fdae" d="M435.1 508.5C435.3 507.4 436.9 505.1 438.2 504.1C439.6 503.2 441.7 502.7 443.2 502.9C444.8 503.1 446.7 504.4 447.6 505.4C448.6 506.3 449.2 507.5 448.9 508.5C448.6 509.5 447.1 510.9 445.8 511.6C444.4 512.4 442.2 513 440.8 512.9C439.3 512.8 437.9 511.7 437 511C436.1 510.3 434.9 509.6 435.1 508.5Z"/>
<path fill="#b4fdae" d="M413.2 524.1C413.1 522.7 413.7 520.5 414.5 519.1C415.3 517.8 417.1 516.1 418.2 516C419.4 515.9 420.4 517.2 421.4 518.5C422.3 519.8 423.9 522.2 423.9 523.5C423.9 524.8 422.3 525.8 421.4 526C420.4 526.2 419.3 524.4 418.2 524.8C417.2 525.1 416 528 415.1 527.9C414.3 527.8 413.4 525.6 413.2 524.1Z"/>
<path fill="#b4fdae" d="M437 589C437 587.8 439.4 585.5 440.1 585.9C440.9 586.3 441.4 590.2 441.4 591.5C441.4 592.8 440.9 593.8 440.1 593.4C439.4 593 437 590.2 437 589Z"/>
<path fill="#b4fdae" d="M447 596.5C447.1 595.8 448.7 594.3 449.5 593.4C450.3 592.4 451.6 590.7 452 590.9C452.4 591.1 452.3 593.5 451.8 594.6C451.2 595.8 449.7 597.4 448.9 597.8C448.1 598.1 446.9 597.2 447 596.5Z"/>
<path fill="#b4fdae" d="M440.1 604C440.1 602.2 440.6 598 441.4 597.1C442.1 596.3 443.5 597.9 444.5 599C445.5 600.1 446.8 602.3 447.6 604C448.4 605.7 449.4 607.5 449.2 609C449.1 610.5 447.9 612.4 447 612.8C446.1 613.1 444.8 611.7 443.9 610.9C442.9 610 442 608.9 441.4 607.8C440.8 606.6 440.1 605.8 440.1 604Z"/>
<path fill="#b4fdae" d="M468.2 604.6C468.3 603.7 469.7 600.9 470.1 600.9C470.6 600.9 471.1 603.7 471 604.6C470.9 605.6 470.2 606.5 469.8 606.5C469.3 606.5 468.2 605.6 468.2 604.6Z"/>
<path fill="#b4fdae" d="M540 366.8C540 366.8 543.1 365.9 545 366.1C546.9 366.3 549 368.5 551.2 368C553.5 367.5 556.2 363.5 558.8 363C561.2 362.5 563.3 363.9 566.2 364.9C569.2 365.8 574.6 367.1 576.2 368.6C577.9 370.2 576.8 372.5 576.2 374.2C575.7 376 573.9 377.2 573.1 379.2C572.4 381.3 572.4 384.2 571.9 386.8C571.4 389.2 570.1 392.4 570 394.2C569.9 396.1 570.2 397.3 571.2 398C572.3 398.7 574.4 398.2 576.2 398.6C578.1 399 581.4 399.6 582.5 400.5C583.6 401.4 583.3 402.8 583.1 404.2C582.9 405.7 580.8 407.6 581.2 409.2C581.7 410.9 584.2 412.8 585.6 414.2C587.1 415.7 588.4 416.8 590 418C591.6 419.2 593.3 420.3 595 421.8C596.7 423.2 598.1 425.5 600 426.8C601.9 428 604.6 428.4 606.2 429.2C607.9 430.1 609.5 430.7 610 431.8C610.5 432.8 610.4 434.9 609.4 435.5C608.3 436.1 605.5 436 603.8 435.5C602 435 600.2 433.6 598.8 432.4C597.3 431.1 596.2 429.1 595 428C593.8 426.9 592.7 425.3 591.2 425.5C589.8 425.7 587.9 428.1 586.2 429.2C584.6 430.4 582.9 432 581.2 432.4C579.6 432.8 577.8 432.7 576.2 431.8C574.7 430.8 573.2 428.4 571.9 426.8C570.5 425.1 569.4 423 568.1 421.8C566.9 420.5 564.6 420.3 564.4 419.2C564.2 418.2 567.2 416 566.9 415.5C566.6 415 564.3 415.4 562.5 416.1C560.7 416.9 557.9 418.5 556.2 419.9C554.6 421.2 553.3 422.9 552.5 424.2C551.7 425.6 551.1 426.5 551.2 428C551.4 429.5 552.9 431.3 553.1 433C553.3 434.7 553.2 436.3 552.5 438C551.8 439.7 550.2 441.4 548.8 443C547.3 444.6 545.2 446.2 543.8 447.4C542.3 448.5 540 449.9 540 449.9L540 366.8Z"/>
<path fill="#b4fdae" d="M580 378C580.6 376.8 582.3 376.4 583.8 375.5C585.2 374.6 587.2 373.4 588.8 372.4C590.3 371.3 592 369.1 593.1 369.2C594.3 369.4 595.3 371.5 595.6 373C595.9 374.5 595.7 376.5 595 378C594.3 379.5 592.7 380.6 591.2 381.8C589.8 382.9 587.8 384 586.2 384.9C584.7 385.7 582.9 387.1 581.9 386.8C580.8 386.4 580.3 384.5 580 383C579.7 381.5 579.4 379.2 580 378Z"/>
<path fill="#b4fdae" d="M592.5 401.1C592.6 400.1 595.6 398.5 597.5 397.4C599.4 396.2 601.8 395.2 603.8 394.2C605.7 393.3 608 392.8 609.4 391.8C610.7 390.7 610.5 388.9 611.9 388C613.2 387.1 615.5 386.2 617.5 386.1C619.5 386 622 386.4 623.8 387.4C625.5 388.3 627 390 628.1 391.8C629.3 393.5 630.1 396.1 630.6 398C631.1 399.9 631.5 401.1 631.2 403C631 404.9 630.2 407.2 629.4 409.2C628.5 411.3 627.3 413.8 626.2 415.5C625.2 417.2 624.2 419.5 623.1 419.2C622.1 419 620.9 416.1 620 414.2C619.1 412.4 618.5 409.9 617.5 408C616.5 406.1 615 404.1 613.8 403C612.5 401.9 611 401.1 610 401.1C609 401.1 607.8 401.9 607.5 403C607.2 404.1 608.6 406.9 608.1 408C607.6 409.1 605.7 410.1 604.4 409.9C603 409.7 601.2 407.8 600 406.8C598.8 405.7 598.1 404.6 596.9 403.6C595.6 402.7 592.4 402.2 592.5 401.1Z"/>
<path fill="#b4fdae" d="M668 512.9C668 512.9 664.2 515 662.5 514.8C660.8 514.5 659.2 512.5 657.5 511.6C655.8 510.8 654.4 509.9 652.5 509.8C650.6 509.6 648.5 510.5 646.2 511C644 511.5 641 512.2 638.8 512.9C636.5 513.5 634.6 514.3 632.5 514.8C630.4 515.2 628.3 515.2 626.2 515.4C624.2 515.6 622.1 515.7 620 516C617.9 516.3 615.4 516.7 613.8 517.2C612.1 517.8 611.2 518.4 610 519.1C608.8 519.9 607.5 521 606.2 521.6C605 522.2 603.8 523.1 602.5 522.9C601.2 522.7 600 520.6 598.8 520.4C597.5 520.2 596.5 521.5 595 521.6C593.5 521.7 591.9 521.4 590 521C588.1 520.6 585.6 519 583.8 519.1C581.9 519.2 580.4 520.9 578.8 521.6C577.1 522.4 575.8 523.2 573.8 523.5C571.7 523.8 567.9 522.9 566.2 523.5C564.6 524.1 564.4 525.8 563.8 527.2C563.1 528.7 563.1 530.8 562.5 532.2C561.9 533.7 560.4 534.5 560 536C559.6 537.5 559.5 539.5 560 541C560.5 542.5 561.7 543.7 563.1 544.8C564.6 545.8 567.1 546.2 568.8 547.2C570.4 548.3 572.3 549.5 573.1 551C574 552.5 574.1 554.3 573.8 556C573.4 557.7 572.3 559.5 571.2 561C570.2 562.5 568.6 563.5 567.5 564.8C566.4 566 565.5 566.9 564.4 568.5C563.2 570.1 561.5 572.2 560.6 574.1C559.8 576 559.6 578.1 559.4 579.8C559.2 581.4 559.4 584 559.4 584L668 584L668 512.9Z"/>
<path fill="#b4fdae" d="M540 515.4C540 515.4 540.9 515.4 541.2 516C541.6 516.6 542.1 518.5 541.9 519.1C541.7 519.8 540 519.8 540 519.8L540 515.4Z"/>
<path fill="#b4fdae" d="M540 536C540 536 542.6 535.6 543.8 534.8C544.9 533.9 546 531.2 546.9 531C547.8 530.8 548.6 531.4 549 533.5C549.4 535.6 549.2 541 549 543.5C548.8 546 548.4 547.2 547.5 548.5C546.6 549.8 545 550.4 543.8 551C542.5 551.6 540 552.2 540 552.2L540 536Z"/>
<path fill="#b4fdae" d="M701.5 127C701.5 126.7 702.9 126 703.6 126C704.3 126 705.8 126.7 705.8 127C705.8 127.3 704.3 128 703.6 128C702.9 128 701.5 127.3 701.5 127Z"/>
<path fill="#b4fdae" d="M827.4 216.2C827.3 213.5 827.5 210.7 828 208.8C828.5 206.8 829.5 205 830.5 204.4C831.5 203.8 833.1 204.1 834.2 205C835.4 205.9 836.2 208.2 837.4 210C838.5 211.8 841 213.8 841.1 215.6C841.2 217.5 839.1 219.5 838 221.2C836.9 223 835.4 224.8 834.2 226.2C833.1 227.7 832.1 230.2 831.1 230C830.2 229.8 829.2 227.3 828.6 225C828 222.7 827.5 219 827.4 216.2Z"/>
<path fill="#b4fdae" d="M828.5 246.9C828.5 246.6 829 246.1 829.2 246.1C829.5 246.1 830 246.6 830 246.9C830 247.1 829.5 247.6 829.2 247.6C829 247.6 828.5 247.1 828.5 246.9Z"/>
<path fill="#b4fdae" d="M858.6 256.2C858.7 255.3 859.1 254.6 859.9 255C860.6 255.4 862.4 257.6 863 258.8C863.6 259.9 863.8 261 863.6 261.9C863.4 262.7 862.5 264 861.8 263.8C861 263.5 859.8 261.9 859.2 260.6C858.7 259.4 858.5 257.2 858.6 256.2Z"/>
<path fill="#b4fdae" d="M826.6 214C826.6 214 826.7 210.7 827.2 209.1C827.8 207.6 828.7 205.6 829.8 204.8C830.8 203.9 832.2 203.6 833.5 204.1C834.8 204.6 836.3 206.2 837.2 207.9C838.2 209.5 839.1 214 839.1 214L826.6 214Z"/>
<path fill="#12e408" d="M288.4 549.1C288.5 548.2 290.6 546.3 291.5 545.4C292.4 544.4 293.3 543.5 294 543.5C294.7 543.5 295.9 544.3 295.9 545.4C295.9 546.4 294.8 548.9 294 549.8C293.2 550.6 291.8 550.9 290.9 550.8C289.9 550.6 288.3 550 288.4 549.1Z"/>
<path fill="#12e408" d="M284 554.8C284 554.8 287.9 555.1 289 555.4C290.1 555.7 291.3 556.1 290.9 556.6C290.5 557.1 287.6 558 286.5 558.5C285.4 559 284 559.8 284 559.8L284 554.8Z"/>
<path fill="#fff064" d="M292.2 268.5C293 268.3 295.4 267.7 296.9 268.1C298.3 268.6 300.5 270.4 301 271.2C301.5 272.1 300.8 273.3 300 273.1C299.2 272.9 297.5 270.6 296.2 270C295 269.4 293.2 269.6 292.5 269.4C291.8 269.1 291.5 268.7 292.2 268.5Z"/>
<path fill="#fff064" d="M317.2 264C317.4 263.3 319 262.8 320 262.9C321 262.9 322.7 263.7 323.1 264.4C323.5 265 323.1 266.5 322.5 266.9C321.9 267.3 320.2 267.4 319.4 266.9C318.5 266.4 317.1 264.7 317.2 264Z"/>
<path fill="#fff064" d="M331.9 286.9C332.6 286.6 336.2 285.9 336.9 286C337.5 286.1 336.4 287.2 335.6 287.5C334.9 287.8 333.1 288 332.5 287.9C331.9 287.8 331.1 287.2 331.9 286.9Z"/>
<path fill="#fff064" d="M337.2 291.2C338.2 291 339 292.9 340 294.4C341 295.8 341.8 298.1 343.1 300C344.5 301.9 348 305.6 348 305.6L348 315C348 315 343 315.6 341.2 314.4C339.5 313.1 338.6 309.9 337.5 307.5C336.4 305.1 335 302 334.4 300C333.8 298 333.5 297.1 334 295.6C334.5 294.2 336.2 291.5 337.2 291.2Z"/>
<path fill="#fff064" d="M382.8 328L392.8 328C392.8 328 391.3 331.2 390.2 331.5C389.2 331.8 387.8 330.5 386.5 329.9C385.2 329.3 382.8 328 382.8 328Z"/>
<path fill="#fff064" d="M328.4 511.6C328.3 510.9 329.5 509.6 330.9 509.1C332.2 508.6 334.7 508.8 336.5 508.5C338.3 508.2 340 507.8 341.5 507.2C343 506.7 343.6 505.6 345.2 505.4C346.9 505.2 349.2 505.6 351.5 506C353.8 506.4 356.5 507.7 359 507.9C361.5 508.1 364.2 507.1 366.5 507.2C368.8 507.4 370.9 508 372.8 508.5C374.6 509 376.4 509.6 377.8 510.4C379.1 511.1 381.1 511.9 380.9 512.9C380.7 513.8 378.3 515.4 376.5 516C374.7 516.6 372.3 516.8 370.2 516.6C368.2 516.4 365.9 514.9 364 514.8C362.1 514.6 360.4 515.2 359 516C357.6 516.8 357 518.4 355.9 519.8C354.7 521.1 353.3 523.2 352.1 524.1C351 525.1 349.9 525.6 349 525.4C348.1 525.2 346.7 523.8 346.5 522.9C346.3 521.9 348.4 520.7 347.8 519.8C347.1 518.8 344.4 518.1 342.8 517.2C341.1 516.4 339.6 515.4 337.8 514.8C335.9 514.1 333.1 514 331.5 513.5C329.9 513 328.5 512.4 328.4 511.6Z"/>
<path fill="#fff064" d="M324 556C323.8 555 324.4 552.9 325.2 551.6C326.1 550.4 327.6 548.9 329 548.5C330.4 548.1 332.2 548.4 333.4 549.1C334.5 549.9 335.7 551.7 335.9 552.9C336.1 554 335.4 555.2 334.6 556C333.9 556.8 332.9 557.6 331.5 557.9C330.1 558.2 327.8 558.2 326.5 557.9C325.2 557.6 324.2 557 324 556Z"/>
<path fill="#fff064" d="M292.1 527.9C292.1 527.2 293.1 525.4 293.8 525.4C294.4 525.3 295.8 526.8 295.9 527.5C295.9 528.2 294.6 529.4 294 529.5C293.4 529.6 292.2 528.6 292.1 527.9Z"/>
<path fill="#fff064" d="M325.9 531C326 530.6 327.2 529.9 327.8 530C328.3 530.1 329.2 531.2 329 531.6C328.8 532 327.3 532.4 326.8 532.2C326.2 532.1 325.7 531.4 325.9 531Z"/>
<path fill="#fff064" d="M339 549.1C339.2 548.5 341 546.8 341.5 547C342 547.2 342.3 549.7 342.1 550.4C341.9 551 340.8 551.2 340.2 551C339.7 550.8 338.8 549.8 339 549.1Z"/>
<path fill="#fff064" d="M347.1 541.6C347.1 541.2 348.7 540.7 349 541C349.3 541.3 349.3 543.1 349 543.2C348.7 543.4 347.1 542 347.1 541.6Z"/>
<path fill="#fff064" d="M410.9 539.8C411 538.9 412 538.5 412 538.5L412 543.5C412 543.5 411.4 544.1 411.2 543.5C411.1 542.9 410.8 540.6 410.9 539.8Z"/>
<path fill="#fff064" d="M410.2 559.8C410.4 558.9 411.2 557.7 411.5 557.2C411.8 556.8 412 557.2 412 557.2L412 562.2C412 562.2 411.2 562.7 410.9 562.2C410.6 561.8 410.1 560.6 410.2 559.8Z"/>
<path fill="#fff064" d="M374.4 225C374.7 223.6 374.9 222.6 377.5 221.9C380.1 221.1 385.8 220.9 390 220.6C394.2 220.3 398.3 220.3 402.5 220C406.7 219.7 410.8 219 415 218.8C419.2 218.5 423.3 218.5 427.5 218.5C431.7 218.5 435.8 218.8 440 218.8C444.2 218.7 447.8 218.1 452.5 218.1C457.2 218.1 468 218.8 468 218.8L468 262.5C468 262.5 465.5 262.5 463.8 261.9C462 261.2 459.8 259.9 457.5 258.8C455.2 257.6 452.5 256.2 450 255C447.5 253.8 444.6 252.5 442.5 251.2C440.4 250 439.2 248.5 437.5 247.5C435.8 246.5 434.4 245.5 432.5 245C430.6 244.5 428.3 244.2 426.2 244.4C424.2 244.6 421.8 245.4 420 246.2C418.2 247.1 416.6 248.1 415.6 249.4C414.7 250.6 414.3 252.4 414.4 253.8C414.5 255.1 415.1 256.5 416.2 257.5C417.4 258.5 419.4 259.4 421.2 260C423.1 260.6 425.6 261.1 427.5 261.2C429.4 261.4 430.6 260.8 432.5 260.6C434.4 260.4 437.1 259.7 438.8 260C440.4 260.3 441.5 261.2 442.5 262.5C443.5 263.8 444.2 265.8 445 267.5C445.8 269.2 446.7 270.8 447.5 272.5C448.3 274.2 449.8 276 450 277.5C450.2 279 448.3 280 448.8 281.2C449.2 282.5 451.2 284 452.5 285C453.8 286 455 286.5 456.2 287.5C457.5 288.5 459.6 290 460 291.2C460.4 292.5 459.6 294.1 458.8 295C457.9 295.9 457.1 296.4 455 296.9C452.9 297.4 448.8 298 446.2 298.1C443.8 298.2 442.3 298 440 297.5C437.7 297 435 296 432.5 295C430 294 427.5 292.3 425 291.2C422.5 290.2 419.2 289.6 417.5 288.8C415.8 287.9 415.3 287.7 415 286.2C414.7 284.8 415.4 282.3 415.6 280C415.8 277.7 416.4 274.4 416.2 272.5C416.1 270.6 415.8 270.2 415 268.8C414.2 267.3 412.7 265.4 411.2 263.8C409.8 262.1 408.1 260 406.2 258.8C404.4 257.5 401.9 257.1 400 256.2C398.1 255.4 396.7 254.8 395 253.8C393.3 252.7 391.9 251.2 390 250C388.1 248.8 385.2 247.5 383.8 246.2C382.3 245 381.9 244.2 381.2 242.5C380.6 240.8 380.9 238.3 380 236.2C379.1 234.2 376.6 231.9 375.6 230C374.7 228.1 374.1 226.4 374.4 225Z"/>
<path fill="#fff064" d="M340 295C340 295 341 297.3 341.9 298.8C342.7 300.2 343.6 302.3 345 303.8C346.4 305.2 348.1 306.7 350 307.5C351.9 308.3 354.4 308.8 356.2 308.8C358.1 308.8 360.1 308.3 361.2 307.5C362.4 306.7 363.1 305 363.1 303.8C363.1 302.5 361 301.1 361.2 300C361.5 298.9 363 297.8 364.4 296.9C365.7 296 367.7 295 369.4 294.8C371 294.5 373 294.9 374.4 295.6C375.7 296.4 377.2 298 377.5 299.4C377.8 300.7 377.2 302.8 376.2 303.8C375.3 304.7 373.4 304.8 371.9 305C370.3 305.2 368 304.7 366.9 305C365.7 305.3 365 306 365 306.9C365 307.7 365.6 309 366.9 310C368.1 311 370.3 312.4 372.5 313.1C374.7 313.9 377.5 314.3 380 314.4C382.5 314.5 385.4 314.2 387.5 313.8C389.6 313.3 390.9 312.3 392.5 311.9C394.1 311.5 395.6 311 396.9 311.2C398.1 311.5 399.7 312.3 400 313.1C400.3 314 399.8 315.4 398.8 316.2C397.7 317.1 395 317.4 393.8 318.1C392.5 318.9 391.4 319.7 391.2 320.6C391.1 321.6 392.7 322.5 393.1 323.8C393.5 325 393.8 328 393.8 328L368.8 328C368.8 328 365.4 324.8 363.8 323.8C362.1 322.7 359.5 322.8 358.8 321.9C358 320.9 358.9 319.1 359.4 318.1C359.9 317.2 362 317 361.9 316.2C361.8 315.5 360.3 314.1 358.8 313.8C357.2 313.4 354.6 314.3 352.5 314.4C350.4 314.5 348.3 314.4 346.2 314.4C344.2 314.4 340 314.4 340 314.4L340 295Z"/>
<path fill="#fff064" d="M420.2 218.8C420.2 218.8 425.5 219.5 429 219.8C432.5 220 437.3 220.2 441.5 220C445.7 219.8 450.9 218.9 454 218.5C457.1 218.1 457.8 217.6 460.2 217.5C462.8 217.4 465.9 217.8 469 218.1C472.1 218.4 475.7 218.8 479 219.4C482.3 219.9 485.9 220.9 489 221.5C492.1 222.1 494.8 222.2 497.8 223.1C500.7 224 504 225.3 506.5 226.9C509 228.4 511.3 230.5 512.8 232.5C514.2 234.5 514.5 236.5 515.2 238.8C516 241 516.4 244.4 517.1 246.2C517.9 248.1 518.5 249 519.6 250C520.8 251 521.9 251.7 524 252.5C526.1 253.3 530.7 254.6 532 255C533.3 255.4 532 255 532 255L532 292.5C532 292.5 526.6 289.2 524 287.5C521.4 285.8 518.4 283.8 516.5 282.5C514.6 281.2 514.2 280 512.8 280C511.3 280 509.4 281.2 507.8 282.5C506.1 283.8 504.6 286 502.8 287.5C500.9 289 498.4 290.9 496.5 291.2C494.6 291.6 493.4 290.4 491.5 289.4C489.6 288.3 487.3 286.4 485.2 285C483.2 283.6 481.3 282.5 479 281.2C476.7 280 473.6 278.8 471.5 277.5C469.4 276.2 468 275.4 466.5 273.8C465 272.1 464 269.4 462.8 267.5C461.5 265.6 460.5 263.8 459 262.5C457.5 261.2 456.1 260.6 454 260C451.9 259.4 448.6 259.4 446.5 258.8C444.4 258.1 443.2 257.3 441.5 256.2C439.8 255.2 438.2 253.8 436.5 252.5C434.8 251.2 433.2 249.9 431.5 248.8C429.8 247.6 428.4 246.2 426.5 245.6C424.6 245 420.2 245 420.2 245L420.2 218.8Z"/>
<path fill="#fff064" d="M404 250C404 250 409.6 250.3 411.5 250C413.4 249.7 414.7 247.7 415.2 248.1C415.8 248.5 414.4 251 414.6 252.5C414.8 254 415.4 255.7 416.5 256.9C417.6 258.1 419.3 259.2 421.5 259.8C423.7 260.3 429.6 260.2 429.6 260.2L429.6 275C429.6 275 418.5 277.3 415.9 276.5C413.3 275.7 415.1 272.3 414 270C412.9 267.7 410.7 264.4 409 262.5C407.3 260.6 404 258.5 404 258.5L404 250Z"/>
<path fill="#fff064" d="M415.9 276.2C416.7 275.2 418.4 275.3 420.2 275C422.1 274.7 425.7 275.2 427.1 274.4C428.6 273.5 428.7 272 429 270C429.3 268 428.7 264.1 429 262.5C429.3 260.9 429.8 261 430.9 260.6C431.9 260.2 433.7 259.9 435.2 260C436.8 260.1 438.8 260.2 440.2 261.2C441.7 262.3 442.9 264.4 444 266.2C445.1 268.1 446.2 270.4 447.1 272.5C448.1 274.6 449.4 277.3 449.6 278.8C449.8 280.2 447.9 280 448.4 281.2C448.9 282.5 451.4 284.8 452.8 286.2C454.1 287.7 455.4 288.9 456.5 290C457.6 291.1 459.4 292.1 459.6 293.1C459.8 294.2 458.7 295.5 457.8 296.2C456.8 297 455.9 297.2 454 297.5C452.1 297.8 449 298.3 446.5 298.1C444 297.9 441.5 297 439 296.2C436.5 295.5 434 294.6 431.5 293.8C429 292.9 426.3 292.1 424 291.2C421.7 290.4 419.2 289.6 417.8 288.8C416.3 287.9 415.6 287.5 415.2 286.2C414.9 285 415.4 282.9 415.5 281.2C415.6 279.6 415.1 277.3 415.9 276.2Z"/>
<path fill="#fff064" d="M481.5 306.2C481.8 305.2 482.8 303.3 484 302.5C485.2 301.7 486.9 301.1 489 301.2C491.1 301.4 494 302.8 496.5 303.1C499 303.4 502.1 302.6 504 303.1C505.9 303.6 507.2 305 507.8 306.2C508.3 307.5 508.2 309.8 507.1 310.6C506.1 311.5 503.3 310.8 501.5 311.2C499.7 311.7 498 312.1 496.5 313.1C495 314.2 494 317.1 492.8 317.5C491.5 317.9 490.2 316.6 489 315.6C487.8 314.7 486.4 313 485.2 311.9C484.1 310.7 482.8 309.7 482.1 308.8C481.5 307.8 481.2 307.3 481.5 306.2Z"/>
<path fill="#fff064" d="M522 456C522 456 523.4 454 524.5 453C525.6 452 527.8 450 528.9 449.9C529.9 449.8 530.9 451.4 530.8 452.4C530.6 453.4 528.2 456 528.2 456L522 456Z"/>
<path fill="#fff064" d="M506.4 353.6C506.6 352.7 509 352.3 510.8 351.8C512.5 351.2 514.9 350.4 517 350.2C519.1 350.1 521.4 351.3 523.2 351.1C525.1 351 526.8 350.4 528.2 349.2C529.7 348.1 530.9 346.1 532 344.2C533.1 342.4 533.8 339.9 535.1 338C536.5 336.1 539.2 333.8 540 333C540.8 332.2 540 333 540 333L540 356.1C540 356.1 539.2 359.1 538.2 360.5C537.3 361.9 536 363.4 534.5 364.2C533 365.1 531.4 365.7 529.5 365.9C527.6 366.1 525.1 366 523.2 365.5C521.4 365 519.9 363.8 518.2 363C516.6 362.2 514.7 361.4 513.2 360.5C511.8 359.6 510.6 358.5 509.5 357.4C508.4 356.2 506.2 354.6 506.4 353.6Z"/>
<path fill="#fff064" d="M522 456L527.6 456C527.6 456 527.7 458 527 458.5C526.3 459 524.1 459.2 523.2 458.8C522.4 458.3 522 456 522 456Z"/>
<path fill="#fff064" d="M537 464.8C537.2 463.3 538.4 462.2 538.9 461.6C539.4 461 540 461 540 461L540 471.6C540 471.6 538.1 471.5 537.6 470.4C537.1 469.2 536.8 466.2 537 464.8Z"/>
<path fill="#fff064" d="M433.9 541.6C434.5 540.4 437.8 540.1 438.9 538.5C439.9 536.9 439 533.6 440.1 532.2C441.3 530.9 444.5 531.5 445.8 530.4C447 529.2 446.8 526.4 447.6 525.4C448.5 524.3 449.7 523.9 450.8 524.1C451.8 524.3 453.4 525.6 453.9 526.6C454.4 527.7 454.4 529.2 453.9 530.4C453.4 531.5 451.6 532.1 450.8 533.5C449.9 534.9 449.3 536.4 448.9 538.5C448.5 540.6 448.6 543.5 448.2 546C447.9 548.5 447.5 551.4 447 553.5C446.5 555.6 446 557.5 445.1 558.5C444.3 559.5 443.1 560 442 559.8C440.9 559.5 439.3 558.7 438.2 557.2C437.2 555.8 436.3 552.9 435.8 551C435.2 549.1 435.4 547.6 435.1 546C434.8 544.4 433.2 542.9 433.9 541.6Z"/>
<path fill="#fff064" d="M425.8 500.4C426.1 499.8 427.8 498.9 428.9 498.9C429.9 498.9 431.9 499.7 432 500.4C432.1 501 430.4 502.6 429.5 502.9C428.6 503.2 427.4 502.7 426.8 502.2C426.1 501.8 425.4 500.9 425.8 500.4Z"/>
<path fill="#fff064" d="M412 541C412.3 539.9 413.6 537.7 414.5 537.2C415.4 536.8 416.9 537.7 417.6 538.5C418.4 539.3 419.1 541.2 418.9 542.2C418.7 543.3 417.4 544.4 416.4 544.8C415.3 545.1 413.4 544.8 412.6 544.1C411.9 543.5 411.7 542.1 412 541Z"/>
<path fill="#fff064" d="M441.4 577.9C441.8 577 443.7 576.2 444.5 576.6C445.3 577 446 579.2 446 580.4C446 581.5 444.9 583.3 444.2 583.5C443.6 583.7 442.5 582.6 442 581.6C441.5 580.7 441 578.7 441.4 577.9Z"/>
<path fill="#fff064" d="M458.2 584C458.2 584 459.1 581.3 460.1 579.8C461.2 578.2 463.5 576.6 464.5 574.8C465.5 572.9 465.9 568.8 466.4 568.5C466.9 568.2 467.2 571.3 467.6 572.9C468 574.4 468.4 576 468.9 577.9C469.4 579.7 470.8 584 470.8 584L458.2 584Z"/>
<path fill="#fff064" d="M510.1 572.2C510.4 571.4 511.8 570.7 512.6 571C513.5 571.3 515 573.2 515.1 574.1C515.2 575.1 514 576.3 513.2 576.6C512.5 576.9 511.3 576.7 510.8 576C510.2 575.3 509.8 573.1 510.1 572.2Z"/>
<path fill="#fff064" d="M512 584C512 584 513 581.9 513.9 581.6C514.7 581.3 516.3 581.9 517 582.2C517.7 582.6 518.2 584 518.2 584L512 584Z"/>
<path fill="#fff064" d="M528.9 584C528.9 584 529.3 582.5 530.1 582.2C531 582 532.9 582 533.9 582.2C534.8 582.5 535.8 584 535.8 584L528.9 584Z"/>
<path fill="#fff064" d="M500.1 575.4C500.5 575.5 502.6 577.2 503.2 577.9C503.9 578.5 504.3 579.2 503.9 579.1C503.5 579 501.4 577.9 500.8 577.2C500.1 576.6 499.7 575.3 500.1 575.4Z"/>
<path fill="#fff064" d="M522.6 694.6C522.5 693.7 523.8 692.6 524.5 692.8C525.2 692.9 526.4 694.3 527 695.2C527.6 696.2 528.3 697.9 528 698.4C527.7 698.9 526 699 525.1 698.4C524.2 697.8 522.7 695.6 522.6 694.6Z"/>
<path fill="#fff064" d="M458.2 585.2C458.1 584 460.1 584 460.1 584L470.8 584C470.8 584 471.2 587.3 471 589C470.8 590.7 470.2 592.6 469.5 594C468.8 595.4 468 596.8 467 597.1C466 597.4 464.3 596.8 463.2 595.9C462.2 594.9 461.6 593.3 460.8 591.5C459.9 589.7 458.4 586.5 458.2 585.2Z"/>
<path fill="#fff064" d="M480.1 593.4C479.7 591.8 480 590 480.8 589C481.5 588 483.2 586.9 484.5 587.1C485.8 587.3 487.3 588.9 488.2 590.2C489.2 591.6 489.4 593.6 490.1 595.2C490.9 596.9 492 598.6 492.6 600.2C493.2 601.9 494.2 604.4 493.9 605.2C493.6 606.1 491.9 605.9 490.8 605.2C489.6 604.6 488.2 602.6 487 601.5C485.8 600.4 484.4 599.7 483.2 598.4C482.1 597 480.5 594.9 480.1 593.4Z"/>
<path fill="#fff064" d="M500.1 592.8C500.1 591.8 503.2 590.2 504.5 589C505.8 587.8 506.4 586.1 507.6 585.2C508.9 584.4 512 584 512 584L519.5 584C519.5 584 519.5 586.4 520.8 587.1C522 587.9 525.6 588.9 527 588.4C528.4 587.9 528.9 584 528.9 584L535.1 584C535.1 584 536.4 588.2 537 590.2C537.6 592.3 538.5 594.4 538.9 596.5C539.3 598.6 539.8 600.8 539.5 602.8C539.2 604.7 538.2 607.4 537 608.4C535.8 609.3 533.4 609 532 608.4C530.6 607.8 530.1 605.4 528.9 604.6C527.6 603.9 526.1 604 524.5 604C522.9 604 521.2 604.6 519.5 604.6C517.8 604.6 516 604.4 514.5 604C513 603.6 511.7 603.3 510.8 602.1C509.8 601 509.9 598.4 508.9 597.1C507.8 595.9 506 595.4 504.5 594.6C503 593.9 500.1 593.7 500.1 592.8Z"/>
<path fill="#fff064" d="M497 620.2C497.2 618.9 498.2 616.9 499.5 615.9C500.8 614.8 502.6 614.3 504.5 614C506.4 613.7 509 614.2 510.8 614C512.5 613.8 513.9 612.6 515.1 613C516.4 613.4 517.6 615.2 518.2 616.5C518.9 617.8 518.5 619.7 518.9 620.9C519.3 622 521.1 622.8 520.8 623.4C520.4 624 518.5 624.5 517 624.6C515.5 624.7 513.5 623.8 512 624C510.5 624.2 509.5 625.1 508.2 625.9C507 626.6 505.9 628.1 504.5 628.4C503.1 628.7 501.2 628.5 500.1 627.8C499.1 627 498.8 625.2 498.2 624C497.7 622.8 496.8 621.6 497 620.2Z"/>
<path fill="#fff064" d="M522.6 621.5C522.9 620.6 524.4 619 525.8 618.4C527.1 617.8 529.2 617.5 530.8 617.8C532.3 618 534.3 618.7 535.1 619.6C536 620.6 536.3 622.3 535.8 623.4C535.2 624.4 533.5 625.6 532 625.9C530.5 626.2 528.4 625.6 527 625.2C525.6 624.9 524.6 624.6 523.9 624C523.1 623.4 522.3 622.4 522.6 621.5Z"/>
<path fill="#fff064" d="M441.4 624C441.8 623.4 444 623.1 445.1 622.8C446.3 622.4 447.1 621.4 448.2 622.1C449.4 622.9 451.7 625.7 452 627.1C452.3 628.6 450.8 629.9 450.1 630.9C449.5 631.8 449.1 632.9 448.2 632.8C447.4 632.6 446.1 631.3 445.1 630.2C444.2 629.2 443.2 627.5 442.6 626.5C442 625.5 441 624.6 441.4 624Z"/>
<path fill="#fff064" d="M532 255C532 255 537.2 256.1 539.5 256.9C541.8 257.6 543.9 258.2 545.8 259.4C547.6 260.5 549.2 262 550.8 263.8C552.3 265.5 554.4 268.1 555.1 270C555.9 271.9 554.2 274.4 555.1 275C556.1 275.6 558.6 274.6 560.8 273.8C562.9 272.9 566 271.2 568.2 270C570.5 268.8 572.9 266.6 574.5 266.2C576.1 265.9 577.6 267.3 577.6 268.1C577.6 269 575.9 270.1 574.5 271.2C573.1 272.4 571.2 273.8 569.5 275C567.8 276.2 566.3 277.5 564.5 278.8C562.7 280 560.1 281 558.9 282.5C557.6 284 557.6 285.8 557 287.5C556.4 289.2 556.2 291 555.1 292.5C554.1 294 552.3 295.4 550.8 296.2C549.2 297.1 547.6 297.6 545.8 297.5C543.9 297.4 541.8 296.4 539.5 295.6C537.2 294.9 532 293.1 532 293.1L532 255Z"/>
<path fill="#fff064" d="M595.8 268.1C595.5 267.2 599.7 266.1 602 265C604.3 263.9 606.6 262.4 609.5 261.2C612.4 260.1 616.2 259.2 619.5 258.1C622.8 257.1 626.2 256 629.5 255C632.8 254 636.6 253.1 639.5 251.9C642.4 250.6 644.7 249.1 647 247.5C649.3 245.9 651.1 244.2 653.2 242.5C655.4 240.8 658.9 238.3 660 237.5C661.1 236.7 660 237.5 660 237.5L660 253.8C660 253.8 656.7 255.2 654.5 256.2C652.3 257.3 649.7 258.8 647 260C644.3 261.2 641.2 262.5 638.2 263.8C635.3 265 632.6 266.4 629.5 267.5C626.4 268.6 622.6 269.8 619.5 270.6C616.4 271.5 613.5 272.5 610.8 272.5C608 272.5 605.8 271.4 603.2 270.6C600.8 269.9 596 269.1 595.8 268.1Z"/>
<path fill="#fff064" d="M544.5 328C544.5 328 548.5 325.3 550.8 323.8C553 322.2 555.8 320.5 558.2 318.8C560.8 317 563.5 314.3 565.8 313.1C568 312 569.7 312.6 572 311.9C574.3 311.1 577 309.7 579.5 308.8C582 307.8 584.1 306.9 587 306.2C589.9 305.6 594.5 305.6 597 305C599.5 304.4 601.1 303.8 602 302.5C602.9 301.2 601.8 298.8 602.6 297.5C603.5 296.2 604.6 295.5 607 295C609.4 294.5 613.9 295.2 617 294.4C620.1 293.5 623.2 291.4 625.8 290C628.2 288.6 629.9 287.4 632 286.2C634.1 285.1 636.2 283.4 638.2 283.1C640.3 282.8 642.6 284.5 644.5 284.4C646.4 284.3 648.2 283 649.5 282.5C650.8 282 652 281.7 652 281.2C652 280.8 649 280 649.5 279.6C650 279.2 653.9 278.7 655.1 278.8C656.4 278.8 656.2 279.7 657 280C657.8 280.3 660 280.6 660 280.6L660 310C660 310 654.5 310.6 652 310.6C649.5 310.6 646.3 310.7 645.1 310C644 309.3 645.6 307.3 645.1 306.2C644.6 305.2 643.1 304.8 642 303.8C640.9 302.7 639.4 301.5 638.2 300C637.1 298.5 636.2 296.1 635.1 295C634.1 293.9 633.1 292.5 632 293.1C630.9 293.8 629 296.6 628.2 298.8C627.5 300.9 628.1 304 627.6 306.2C627.1 308.5 625.9 310.4 625.1 312.5C624.4 314.6 624.2 316.7 623.2 318.8C622.3 320.8 620.3 323.5 619.5 325C618.7 326.5 618.2 328 618.2 328L544.5 328Z"/>
<path fill="#fff064" d="M636 315.6C636.2 315.1 637.4 314.6 638.2 314.8C639.1 314.9 640.8 315.7 641 316.2C641.2 316.8 640.2 317.9 639.5 318.1C638.8 318.4 637.3 318.2 636.8 317.8C636.2 317.3 635.8 316.1 636 315.6Z"/>
<path fill="#fff064" d="M650.1 328C650.1 328 651.2 324.6 652 323.8C652.8 322.9 654.5 322.4 655.1 323.1C655.8 323.8 655.8 328 655.8 328L650.1 328Z"/>
<path fill="#fff064" d="M604.8 142.9C604.8 141.6 605.3 139.6 606 138.5C606.7 137.4 607.7 136.5 608.8 136.2C609.8 136 611.2 136.6 612.2 137.2C613.3 137.9 614.2 139.3 615 140.4C615.8 141.4 617.1 142.4 617.2 143.5C617.4 144.6 616.5 146.4 615.6 147.2C614.7 148.1 613.1 148.4 611.9 148.5C610.6 148.6 609.2 148.3 608.1 147.9C607.1 147.5 606.2 146.8 605.6 146C605.1 145.2 604.7 144.1 604.8 142.9Z"/>
<path fill="#fff064" d="M540 328L580 328C580 328 577.9 330.5 576.2 331.8C574.6 333 571.8 334.2 570 335.5C568.2 336.8 566.5 338 565.6 339.2C564.8 340.5 565.9 341.8 565 343C564.1 344.2 561.7 345.6 560 346.8C558.3 347.9 556.5 349.5 555 349.9C553.5 350.3 552.3 349.8 551.2 349.2C550.2 348.7 549.8 347.4 548.8 346.8C547.7 346.1 546.5 345.4 545 345.5C543.5 345.6 540 347.4 540 347.4L540 328Z"/>
<path fill="#fff064" d="M590 338.6C590.4 337.8 592.1 337.3 593.8 335.5C595.4 333.7 600 328 600 328L617.5 328C617.5 328 612.5 331.5 610 333C607.5 334.5 605 335.6 602.5 336.8C600 337.9 596.9 339.3 595 339.9C593.1 340.5 592.1 340.5 591.2 340.2C590.4 340 589.6 339.4 590 338.6Z"/>
<path fill="#fff064" d="M613.8 339.2C614.2 338.2 617.9 337.8 620 338C622.1 338.2 624.2 340.2 626.2 340.5C628.3 340.8 630.4 340.6 632.5 339.9C634.6 339.1 636.9 336.9 638.8 336.1C640.6 335.4 641.9 335.5 643.8 335.5C645.6 335.5 648.3 335.1 650 336.1C651.7 337.2 653 339.6 653.8 341.8C654.5 343.9 654.6 347.2 654.4 349.2C654.2 351.3 653.6 352.9 652.5 354.2C651.4 355.6 648.4 355.7 647.5 357.4C646.6 359 647.5 362.1 646.9 364.2C646.2 366.4 645.1 368.6 643.8 370.5C642.4 372.4 640.2 374 638.8 375.5C637.3 377 636.5 378.5 635 379.2C633.5 380 631.7 380.4 630 379.9C628.3 379.4 626.9 376.9 625 376.1C623.1 375.4 620 376.2 618.8 375.5C617.5 374.8 617.3 373 617.5 371.8C617.7 370.5 618.5 368.8 620 368C621.5 367.2 624.7 367.4 626.2 366.8C627.8 366.1 628.8 365.5 629.4 364.2C630 363 630.3 360.8 630 359.2C629.7 357.7 628.8 355.9 627.5 354.9C626.2 353.8 624 353.9 622.5 353C621 352.1 619.6 350.7 618.8 349.2C617.9 347.8 618.3 345.9 617.5 344.2C616.7 342.6 613.3 340.3 613.8 339.2Z"/>
<path fill="#fff064" d="M668 408C668 408 665.3 405.1 663.8 403C662.2 400.9 660.2 397.6 658.8 395.5C657.3 393.4 656.2 391.5 655 390.5C653.8 389.5 652.5 388.8 651.2 389.2C650 389.7 648.8 391.9 647.5 393C646.2 394.1 644.7 394.5 643.8 396.1C642.8 397.8 642.5 400.6 641.9 403C641.2 405.4 640.9 408.2 640 410.5C639.1 412.8 637.5 414.7 636.2 416.8C635 418.8 633.8 421.1 632.5 423C631.2 424.9 629.6 426.5 628.8 428C627.9 429.5 627.4 430.3 627.5 431.8C627.6 433.2 629 434.9 629.4 436.8C629.8 438.6 630.3 440.9 630 443C629.7 445.1 628.5 447.1 627.5 449.2C626.5 451.4 623.8 456 623.8 456L668 456L668 408Z"/>
<path fill="#fff064" d="M542.5 456C542.5 456 544.8 452.4 546.2 450.5C547.7 448.6 549.6 446.2 551.2 444.9C552.9 443.5 554.6 442.5 556.2 442.4C557.9 442.3 559.8 443.1 561.2 444.2C562.7 445.4 563.8 447.8 565 449.2C566.2 450.7 567.8 451.9 568.8 453C569.7 454.1 570.6 456 570.6 456L542.5 456Z"/>
<path fill="#fff064" d="M540 456L571.9 456C571.9 456 572.6 459.3 572.5 461C572.4 462.7 572.1 464.5 571.2 466C570.4 467.5 569 468.4 567.5 469.8C566 471.1 564.4 473.5 562.5 474.1C560.6 474.8 558.1 474.2 556.2 473.5C554.4 472.8 552.4 471 551.2 469.8C550.1 468.5 550.4 466.4 549.4 466C548.3 465.6 546.4 466.6 545 467.2C543.6 467.9 542.1 469.1 541.2 469.8C540.4 470.4 540 471 540 471L540 456Z"/>
<path fill="#fff064" d="M544.4 506C544.7 505 546.5 503.5 547.5 502.2C548.5 501 549.8 500 550.6 498.5C551.5 497 552.6 495 552.5 493.5C552.4 492 550.7 491.3 550 489.8C549.3 488.2 548.2 485.6 548.1 484.1C548 482.7 548.4 481.6 549.4 481C550.3 480.4 552.3 480 553.8 480.4C555.2 480.8 556.8 482.1 558.1 483.5C559.5 484.9 560.6 487 561.9 488.5C563.1 490 564.7 491 565.6 492.2C566.6 493.5 567.6 494.8 567.5 496C567.4 497.2 565.7 498.3 565 499.8C564.3 501.2 563.5 502.9 563.1 504.8C562.7 506.6 563.6 510 562.5 511C561.4 512 558.3 511.2 556.2 511C554.2 510.8 551.8 510.2 550 509.8C548.2 509.3 546.6 509.1 545.6 508.5C544.7 507.9 544.1 507 544.4 506Z"/>
<path fill="#fff064" d="M568.8 490.4C569.2 489.3 571.9 488.3 573.8 487.2C575.6 486.2 578.4 484.9 580 484.1C581.6 483.4 581.9 482.6 583.1 482.9C584.4 483.2 586.1 485.2 587.5 486C588.9 486.8 590 488.1 591.2 487.9C592.5 487.7 594.2 486 595 484.8C595.8 483.5 595.6 481.8 596.2 480.4C596.9 478.9 597.5 477.4 598.8 476C600 474.6 601.9 473.4 603.8 472.2C605.6 471.1 607.9 469.9 610 469.1C612.1 468.4 614.6 468.6 616.2 467.9C617.9 467.1 619 465.9 620 464.8C621 463.6 622 462.5 622.5 461C623 459.5 623.1 456 623.1 456L668 456L668 511C668 511 664.7 511.1 663.1 510.4C661.6 509.6 660.1 508 658.8 506.6C657.4 505.3 656.5 503 655 502.2C653.5 501.5 651.9 501.8 650 502.2C648.1 502.7 645.8 504.1 643.8 504.8C641.7 505.4 639.6 505.7 637.5 506C635.4 506.3 633.3 506.4 631.2 506.6C629.2 506.8 627.1 506.9 625 507.2C622.9 507.6 620.8 507.9 618.8 508.5C616.7 509.1 614.6 510.2 612.5 511C610.4 511.8 608.1 512.8 606.2 513.5C604.4 514.2 602.7 515 601.2 515.4C599.8 515.8 598.5 516.4 597.5 516C596.5 515.6 596.2 513.9 595 512.9C593.8 511.8 591.6 510.7 590 509.8C588.4 508.8 586.7 508.5 585.6 507.2C584.6 506 584.5 503.7 583.8 502.2C583 500.8 582.5 499.6 581.2 498.5C580 497.4 577.9 496.2 576.2 495.4C574.6 494.5 572.5 494.3 571.2 493.5C570 492.7 568.3 491.4 568.8 490.4Z"/>
<path fill="#fff064" d="M542.5 572.2C543 571.3 544.5 570 545.6 569.8C546.8 569.5 548.9 570.2 549.4 571C549.9 571.8 549.4 573.8 548.8 574.8C548.1 575.7 546.6 576.5 545.6 576.6C544.6 576.7 543.3 576.1 542.8 575.4C542.2 574.6 542 573.2 542.5 572.2Z"/>
<path fill="#fff064" d="M543.1 695.9C543 694.8 543.8 692.3 544.4 692.1C545 691.9 546.3 693.8 546.9 694.6C547.4 695.5 548.1 696.4 547.8 697.1C547.4 697.8 545.8 699 545 698.8C544.2 698.5 543.2 697 543.1 695.9Z"/>
<path fill="#fff064" d="M660 237.5C660 237.5 666.9 234.3 670 233.1C673.1 232 676.7 230.5 678.8 230.6C680.8 230.7 681 233.4 682.5 233.8C684 234.1 685 233.6 687.5 232.5C690 231.4 693.8 228.8 697.5 226.9C701.2 225 706.2 223 710 221.2C713.8 219.5 716.7 218.1 720 216.2C723.3 214.4 727.1 211.9 730 210C732.9 208.1 735.4 206.7 737.5 205C739.6 203.3 742.5 200 742.5 200L788 200L788 328L660 328L660 237.5Z"/>
<path fill="#fff064" d="M682.4 98.5C682.3 97.2 682.9 95.2 683.6 94.1C684.4 93.1 685.6 92.1 686.8 92.2C687.9 92.4 689.5 93.6 690.5 94.8C691.5 95.9 692.7 97.7 693 99.1C693.3 100.6 693.2 102.8 692.4 103.5C691.5 104.2 689.4 103.8 688 103.5C686.6 103.2 685.2 102.5 684.2 101.6C683.3 100.8 682.5 99.8 682.4 98.5Z"/>
<path fill="#fff064" d="M708 114.1C708.2 112.9 709.6 111.2 710.5 111C711.4 110.8 712.6 111.5 713.6 112.9C714.7 114.2 716.3 117.4 716.8 119.1C717.2 120.9 716.8 122.5 716.5 123.5C716.2 124.5 715.7 125.6 714.9 125.4C714.1 125.2 712.7 123.4 711.8 122.2C710.8 121.1 709.9 119.9 709.2 118.5C708.6 117.1 707.8 115.4 708 114.1Z"/>
<path fill="#fff064" d="M691.1 127.9C691.1 127.2 692.7 126.2 693.6 126.2C694.6 126.2 696.3 127 696.8 127.9C697.2 128.7 697 130.9 696.5 131.2C696 131.6 694.5 130.6 693.6 130C692.7 129.4 691.1 128.5 691.1 127.9Z"/>
<path fill="#fff064" d="M700.8 134.1C700.6 133 702 131 703 130.4C704 129.8 705.5 129.8 706.8 130.4C708 131 709.5 132.8 710.5 134.1C711.5 135.5 712.5 137.1 712.8 138.5C713 139.9 712.5 142.1 711.8 142.5C711 142.9 709.4 141.9 708 141C706.6 140.1 704.8 138.4 703.6 137.2C702.4 136.1 700.9 135.3 700.8 134.1Z"/>
<path fill="#fff064" d="M726.8 214C726.8 214 730.7 211.1 733 209.1C735.3 207.2 738 204.6 740.5 202.2C743 199.9 745.5 196.8 748 194.8C750.5 192.7 753.3 191.8 755.5 189.8C757.7 187.7 760.3 186.2 761.1 182.2C762 178.3 760 170 760.5 166C761 162 763 161 764.2 158.5C765.5 156 766.4 153.5 768 151C769.6 148.5 772.2 144.1 773.6 143.5C775.1 142.9 775.9 145.6 776.8 147.2C777.6 148.9 778.4 151.2 778.6 153.5C778.8 155.8 777.6 159.3 778 161C778.4 162.7 779.5 162.7 781.1 163.5C782.8 164.3 785.5 165.1 788 166C790.5 166.9 794.7 168.6 796 169.1C797.3 169.6 796 169.1 796 169.1L796 214L726.8 214Z"/>
<path fill="#fff064" d="M668 328L796 328L796 456L668 456L668 328Z"/>
<path fill="#fff064" d="M668 507.5C668 507.5 670.9 505.2 673 504.5C675.1 503.8 677.8 503.4 680.5 503.2C683.2 503.1 687 503.9 689.2 503.5C691.5 503.1 693 502.1 694.2 501C695.5 499.9 695.5 497.8 696.8 496.6C698 495.5 699.9 494.8 701.8 494.1C703.6 493.5 706 493.6 708 492.9C710 492.1 712.3 490.8 713.6 489.8C715 488.7 715 487.2 716.1 486.6C717.3 486 719.2 485.6 720.5 486C721.8 486.4 722.6 488.1 723.6 489.1C724.7 490.2 725.7 491.2 726.8 492.2C727.8 493.3 729.5 494.1 729.9 495.4C730.3 496.6 730.1 498.3 729.2 499.8C728.4 501.2 725.8 502.5 724.9 504.1C723.9 505.8 723.4 508.3 723.6 509.8C723.8 511.2 725.2 512.7 726.1 512.9C727.1 513.1 728.1 511.7 729.2 511C730.4 510.3 731.9 509.3 733 508.5C734.1 507.7 735 507 736.1 506C737.3 505 738.7 503.7 739.9 502.2C741 500.8 742.3 498.7 743 497.2C743.7 495.8 744.5 494.8 744.2 493.5C744 492.2 742.6 491 741.8 489.8C740.9 488.5 739.8 487.9 739.2 486C738.7 484.1 738.6 481 738.6 478.5C738.6 476 738.5 473 739.2 471C740 469 741.5 467.9 743 466.6C744.5 465.4 747 464.8 748 463.5C749 462.2 749.2 460.4 749.2 459.1C749.2 457.9 748 456 748 456L668 456L668 507.5Z"/>
<path fill="#fff064" d="M808.6 200C808.6 200 809.9 204.8 810.5 207.5C811.1 210.2 812 213.3 812.4 216.2C812.8 219.2 812.6 221.9 813 225C813.4 228.1 814.1 231.9 814.9 235C815.6 238.1 816.5 240.8 817.4 243.8C818.2 246.7 818.7 249.8 819.9 252.5C821 255.2 823.1 257.9 824.2 260C825.4 262.1 826.3 262.5 826.8 265C827.2 267.5 826.8 272.3 827 275C827.2 277.7 827.3 279.2 828 281.2C828.7 283.3 830.5 286 831.1 287.5C831.8 289 832.7 289.1 831.8 290C830.8 290.9 827.6 292.1 825.5 293.1C823.4 294.2 821.3 295.6 819.2 296.2C817.2 296.9 814.7 296.2 813 296.9C811.3 297.5 810.3 298.4 809.2 300C808.2 301.6 807.3 304.2 806.8 306.2C806.2 308.3 805.9 310.4 806.1 312.5C806.3 314.6 807.1 316.7 808 318.8C808.9 320.8 810.7 323.5 811.8 325C812.8 326.5 814.2 328 814.2 328L788 328L788 200L808.6 200Z"/>
<path fill="#fff064" d="M796 170.4C796 170.4 796.4 171.1 797.2 172.2C798.1 173.4 799.8 175.6 801 177.2C802.2 178.9 803.6 180.2 804.8 182.2C805.9 184.3 807.1 187 807.9 189.8C808.6 192.5 808.9 194.5 809.1 198.5C809.4 202.5 809.5 214 809.5 214L796 214L796 170.4Z"/>
<path fill="#fff064" d="M832.9 90.4C832.8 89.8 834.3 88.8 835 88.8C835.7 88.8 837.2 89.8 837.2 90.4C837.3 91 836.1 92.2 835.4 92.2C834.6 92.2 832.9 91 832.9 90.4Z"/>
<path fill="#fff064" d="M914.8 192.9C914.8 191.7 916.4 189.4 917.2 189.4C918.1 189.4 919.8 191.7 919.8 192.9C919.8 194 918.1 196.4 917.2 196.4C916.4 196.4 914.8 194 914.8 192.9Z"/>
<path fill="#fff064" d="M882.2 152.9C882.4 151.5 882.8 149.5 883.5 148.5C884.2 147.5 885.6 146.9 886.6 147C887.7 147.1 889 147.9 889.8 149.1C890.5 150.3 891.1 152.6 891 154.1C890.9 155.6 890.1 157.5 889.1 158.2C888.2 159 886.4 159 885.4 158.8C884.3 158.5 883.4 157.6 882.9 156.6C882.4 155.6 882.1 154.2 882.2 152.9Z"/>
<path fill="#fff064" d="M898.1 146C898.1 145.7 898.8 145 899.1 145C899.5 145 900.1 145.7 900.1 146C900.1 146.3 899.5 147 899.1 147C898.8 147 898.1 146.3 898.1 146Z"/>
<path fill="#fff064" d="M904.1 142.2C904.3 140.9 904.6 138.5 905.4 137.2C906.1 136 907.1 135.1 908.5 135C909.9 134.9 912 135.8 913.5 136.6C915 137.4 916 139 917.2 139.8C918.5 140.5 919.9 141 921 141C922.1 141 924 139.8 924 139.8L931 139.1L931 161.6L926.8 162.9C926.8 162.9 924.2 162.1 923 161C921.8 159.9 920.8 157.7 919.8 156C918.7 154.3 917.9 152.1 916.6 151C915.4 149.9 913.5 149 912.2 149.1C911 149.2 910.2 151.7 909.1 151.6C908.1 151.5 906.8 149.5 906 148.5C905.2 147.5 904.8 146.4 904.5 145.4C904.2 144.3 904 143.6 904.1 142.2Z"/>
<path fill="#fff064" d="M796 328L814.1 328C814.1 328 813.8 331.3 814.8 333C815.7 334.7 818.2 336.1 819.8 338C821.3 339.9 823.1 342 824.1 344.2C825.2 346.5 825.8 349.5 826 351.8C826.2 354 826.2 356.3 825.4 358C824.5 359.7 822.4 360.7 821 361.8C819.6 362.8 818.3 363.2 817.2 364.2C816.2 365.3 815 366.5 814.8 368C814.5 369.5 815.5 371.3 816 373C816.5 374.7 817.9 376.3 817.9 378C817.9 379.7 816.5 381.3 816 383C815.5 384.7 815.4 386.1 814.8 388C814.1 389.9 813.1 392.4 812.2 394.2C811.4 396.1 810.8 398.1 809.8 399.2C808.7 400.4 807.5 401 806 401.1C804.5 401.2 802.7 400.5 801 399.9C799.3 399.2 796 397.4 796 397.4L796 328Z"/>
<path fill="#12e408" d="M582 328C582 328 585.1 323.8 587 321.9C588.9 319.9 591.6 317.1 593.2 316.2C594.9 315.4 595.8 315.9 597 316.9C598.2 317.8 600.2 320 600.8 321.9C601.3 323.7 600.1 328 600.1 328L582 328Z"/>
<path fill="#12e408" d="M664.4 424.2C664.5 423.1 665.6 421.6 666.2 421.1C666.9 420.6 668 421.1 668 421.1L668 428C668 428 666.2 428.6 665.6 428C665 427.4 664.3 425.4 664.4 424.2Z"/>
<path fill="#12e408" d="M674 237.5C674 236.8 675.5 235.2 676.2 235.2C677 235.2 678.5 236.8 678.5 237.5C678.5 238.2 677 239.8 676.2 239.8C675.5 239.8 674 238.2 674 237.5Z"/>
<path fill="#12e408" d="M667.2 242.5C667.2 241.9 668.4 240.8 669 240.8C669.6 240.8 670.8 241.9 670.8 242.5C670.8 243.1 669.6 244.2 669 244.2C668.4 244.2 667.2 243.1 667.2 242.5Z"/>
<path fill="#12e408" d="M660 251.2C660 251.2 664.8 249.7 667.5 248.8C670.2 247.8 673.3 246.7 676.2 245.6C679.2 244.6 681.9 243.6 685 242.5C688.1 241.4 691.7 240 695 238.8C698.3 237.5 701.7 236.2 705 235C708.3 233.8 711.7 232.7 715 231.2C718.3 229.8 722.1 227.8 725 226.2C727.9 224.7 730 223.4 732.5 221.9C735 220.3 737.5 218.3 740 216.9C742.5 215.4 745.4 213.6 747.5 213.1C749.6 212.6 751.6 212.8 752.5 213.8C753.4 214.7 753.1 216.9 753.1 218.8C753.1 220.6 752.9 222.7 752.5 225C752.1 227.3 751.5 230.2 750.6 232.5C749.8 234.8 749.1 236.9 747.5 238.8C745.9 240.6 743.3 242.2 741.2 243.8C739.2 245.3 737.3 246.7 735 248.1C732.7 249.6 729.8 250.9 727.5 252.5C725.2 254.1 723.3 255.8 721.2 257.5C719.2 259.2 716.9 261.2 715 262.5C713.1 263.8 711.7 264.2 710 265C708.3 265.8 707.1 266.4 705 267.5C702.9 268.6 700.2 270.2 697.5 271.9C694.8 273.5 691.5 275.7 688.8 277.5C686 279.3 683.8 281.2 681.2 282.5C678.8 283.8 676.2 284.9 673.8 285C671.2 285.1 668.5 283.8 666.2 283.1C664 282.5 660 281.2 660 281.2L660 251.2Z"/>
<path fill="#12e408" d="M660 316.2C660 316.2 664.8 312.9 667.5 311.2C670.2 309.6 674.7 307.9 676.2 306.2C677.8 304.6 676 302.6 676.9 301.2C677.7 299.9 679.3 299.2 681.2 298.1C683.2 297.1 686.5 295.9 688.8 295C691 294.1 692.7 293.3 695 292.5C697.3 291.7 699.6 290.8 702.5 290C705.4 289.2 709.2 288.3 712.5 287.5C715.8 286.7 720.2 286 722.5 285C724.8 284 725 282.3 726.2 281.2C727.5 280.2 728.6 279.1 730 278.8C731.4 278.4 733.6 278.1 734.4 279.4C735.2 280.6 735.1 284.4 734.8 286.2C734.4 288.1 733.7 289.6 732.5 290.6C731.3 291.7 729.2 292.1 727.5 292.5C725.8 292.9 723.8 293.2 722.5 293.1C721.2 293 721.5 291.8 720 291.9C718.5 292 716 293.1 713.8 293.8C711.5 294.4 708.3 295.1 706.2 295.6C704.2 296.1 702.3 295.9 701.2 296.9C700.2 297.8 700.6 299.7 700 301.2C699.4 302.8 697.9 304.4 697.5 306.2C697.1 308.1 697.6 310.2 697.5 312.5C697.4 314.8 696.9 317.4 696.9 320C696.9 322.6 697.5 328 697.5 328L660 328L660 316.2Z"/>
<path fill="#12e408" d="M661.2 309C661.5 308.2 663.4 305.5 664.4 304.4C665.3 303.3 666.6 302.3 666.9 302.5C667.2 302.7 666.9 304.5 666.2 305.6C665.6 306.8 664 308.8 663.1 309.4C662.3 309.9 661 309.8 661.2 309Z"/>
<path fill="#12e408" d="M669.4 300.6C669.3 300.3 671.4 299.8 672.5 299.8C673.6 299.8 676.1 300.3 676.2 300.6C676.4 301 674.3 301.9 673.1 301.9C672 301.9 669.5 301 669.4 300.6Z"/>
<path fill="#12e408" d="M668 328L702.4 328C702.4 328 704.4 331.8 705.5 333C706.6 334.2 709.4 334.8 709.2 335.5C709.1 336.2 706.4 337.4 704.9 337.4C703.3 337.4 701.3 335.5 699.9 335.5C698.4 335.5 697.1 336.3 696.1 337.4C695.2 338.4 695.4 340.2 694.2 341.8C693.1 343.3 691.1 344.9 689.2 346.8C687.4 348.6 684.9 351.1 683 353C681.1 354.9 679.7 356.5 678 358C676.3 359.5 674.5 360.3 673 361.8C671.5 363.2 670.1 365.4 669.2 366.8C668.4 368.1 668 369.9 668 369.9L668 328Z"/>
<path fill="#12e408" d="M705.5 334.2C706.4 333.4 709.1 332.5 710.5 333C711.9 333.5 712.9 335.9 713.6 337.4C714.4 338.8 714.1 340.2 714.9 341.8C715.6 343.3 716.6 345.1 718 346.8C719.4 348.4 721.3 350.6 723 351.8C724.7 352.9 726.8 352.6 728 353.6C729.2 354.7 730.2 356.2 730.5 358C730.8 359.8 730.5 362.6 729.9 364.2C729.2 365.9 727.7 366.5 726.8 368C725.8 369.5 725.3 371.3 724.2 373C723.2 374.7 722 376.5 720.5 378C719 379.5 716.9 380.5 715.5 381.8C714.1 383 712.7 384.2 712.4 385.5C712.1 386.8 713 387.8 713.6 389.2C714.2 390.7 715.3 392.7 716.1 394.2C717 395.8 718 397.2 718.6 398.6C719.2 400.1 719.6 401.4 719.9 403C720.2 404.6 719.9 406.3 720.5 408C721.1 409.7 722.5 411.5 723.6 413C724.8 414.5 726.4 415.6 727.4 416.8C728.3 417.9 730 419.4 729.2 419.9C728.5 420.4 724.6 419.7 723 419.9C721.4 420.1 721.1 420.6 719.9 421.1C718.6 421.6 717.1 422.6 715.5 423C713.9 423.4 712.2 423.7 710.5 423.6C708.8 423.5 707.2 423.1 705.5 422.4C703.8 421.6 702.6 420.2 700.5 419.2C698.4 418.3 695.5 417.4 693 416.8C690.5 416.1 688 415.9 685.5 415.5C683 415.1 680.1 414.5 678 414.2C675.9 414 674.7 415 673 414.2C671.3 413.5 668 409.9 668 409.9L668 393C668 393 671.1 393.7 673 393.6C674.9 393.5 677.3 392.7 679.2 392.4C681.2 392.1 683.2 392.3 684.9 391.8C686.5 391.2 687.9 390.3 689.2 389.2C690.6 388.2 692.5 387.4 693 385.5C693.5 383.6 692.4 380.7 692.4 378C692.4 375.3 692.8 372.2 693 369.2C693.2 366.3 693 362.7 693.6 360.5C694.2 358.3 695.4 357.1 696.8 356.1C698.1 355.2 700.3 354.8 701.8 354.9C703.2 355 704.7 357.3 705.5 356.8C706.3 356.2 706.1 353.4 706.8 351.8C707.4 350.1 709 348.4 709.2 346.8C709.5 345.1 708.7 343.2 708 341.8C707.3 340.3 705.3 339.2 704.9 338C704.5 336.8 704.6 335.1 705.5 334.2Z"/>
<path fill="#12e408" d="M668 376.1C668 376.1 669.3 376.9 669.9 378C670.5 379.1 671.5 381.5 671.5 383C671.5 384.5 670.5 385.9 669.9 386.8C669.3 387.6 668 388 668 388L668 376.1Z"/>
<path fill="#12e408" d="M668 422.4C668 422.4 670 423.4 670.5 424.2C671 425.1 671.5 426.6 671.1 427.4C670.7 428.1 668 428.6 668 428.6L668 422.4Z"/>
<path fill="#12e408" d="M738 348C737.9 347 739.2 345.6 740.5 344.9C741.8 344.1 743.8 343.5 745.5 343.6C747.2 343.7 749 345 750.5 345.5C752 346 753.4 347.1 754.2 346.8C755.1 346.4 755.2 343.5 755.5 343.6C755.8 343.7 756.5 346.2 756.1 347.4C755.7 348.5 754.6 349.8 753 350.5C751.4 351.2 748.7 351.6 746.8 351.8C744.8 351.9 742.6 351.8 741.1 351.1C739.7 350.5 738.1 349 738 348Z"/>
<path fill="#12e408" d="M735.5 391.8C736.2 389.8 738.4 389.2 740.5 388.6C742.6 388 745.5 388.4 748 388C750.5 387.6 753.6 387.4 755.5 386.1C757.4 384.9 757.8 382.2 759.2 380.5C760.7 378.8 762.6 377 764.2 376.1C765.9 375.2 767.6 374.9 769.2 375.2C770.9 375.6 772.4 377.3 774.2 378C776.1 378.7 779 378.2 780.5 379.2C782 380.3 782 382.6 783 384.2C784 385.9 785.4 387.8 786.8 389.2C788.1 390.7 789.6 392 791.1 393C792.7 394 796 395.5 796 395.5L796 456L748 456C748 456 751.3 453.9 753 453C754.7 452.1 757.1 451.8 758 450.5C758.9 449.2 758.8 447.4 758.6 445.5C758.4 443.6 757.7 441.3 756.8 439.2C755.8 437.2 754.5 435.1 753 433C751.5 430.9 749.5 428.8 748 426.8C746.5 424.7 745.3 422.6 744.2 420.5C743.2 418.4 742.8 416.3 741.8 414.2C740.7 412.2 738.9 410.3 738 408C737.1 405.7 736.5 403.2 736.1 400.5C735.7 397.8 734.8 393.7 735.5 391.8Z"/>
<path fill="#12e408" d="M803 269.4C803.4 268.1 805.8 265.1 806.8 265C807.7 264.9 808.5 267.3 808.6 268.8C808.7 270.2 808.1 273.1 807.4 273.8C806.6 274.4 805 273.2 804.2 272.5C803.5 271.8 802.6 270.6 803 269.4Z"/>
<path fill="#12e408" d="M804.2 364.2C804.5 364 807.5 363.8 807.9 364C808.2 364.2 806.9 365.5 806.2 365.5C805.6 365.5 804 364.5 804.2 364.2Z"/>
<path fill="#fff064" d="M687.4 390.5C687.9 389.1 689.9 388.2 691.1 388C692.4 387.8 693.7 388.4 694.9 389.2C696 390.1 696.9 391.9 698 393C699.1 394.1 700.5 394.9 701.8 396.1C703 397.4 704.4 399 705.5 400.5C706.6 402 708 403.7 708.6 404.9C709.2 406 710 406.9 709.2 407.4C708.5 407.9 706.3 407.9 704.2 408C702.2 408.1 698.9 408.1 696.8 407.8C694.6 407.4 692.4 407.1 691.1 406.1C689.9 405.1 689.8 403.4 689.2 401.8C688.7 400.1 688.3 398 688 396.1C687.7 394.2 686.9 391.9 687.4 390.5Z"/>
<path fill="#b4fdae" d="M705 253.8C705 253.5 708.4 253.2 710 252.8C711.6 252.3 713.4 251.1 714.4 251.2C715.3 251.4 716.4 253 715.6 253.5C714.9 254 711.8 254.1 710 254.1C708.2 254.2 705 254 705 253.8Z"/>
<path fill="#b4fdae" d="M707.4 364.2C707.9 363.5 709.9 362.9 711.1 362.4C712.4 361.9 714.1 360.8 714.9 361.1C715.6 361.4 715.8 363.2 715.5 364.2C715.2 365.3 713.9 366.6 713 367.4C712.1 368.2 710.8 369.1 709.9 369C709 368.9 708.2 367.5 707.8 366.8C707.3 366 706.8 365 707.4 364.2Z"/>
<path fill="#b4fdae" d="M706.1 370.5C706.5 369.9 708.1 368.9 708.6 369.2C709.1 369.6 709.4 371.8 709 372.4C708.6 373 707 373.1 706.5 372.8C706 372.4 705.8 371.1 706.1 370.5Z"/>
<path fill="#b4fdae" d="M699 377.4C699.4 376.4 701 376.5 701.5 377C702 377.5 702.1 379.4 702 380.5C701.9 381.6 701.2 383.2 700.8 383.6C700.2 384 699.3 384 699 383C698.7 382 698.6 378.4 699 377.4Z"/>
<path fill="#b4fdae" d="M747.4 408C747.8 406.5 749.1 406.6 750.5 406.8C751.9 406.9 753.9 407.7 755.5 408.6C757.1 409.6 758.3 411.1 759.9 412.4C761.4 413.6 764.8 415.1 764.9 416.1C765 417.2 762 417.9 760.5 418.6C759 419.4 757.3 419.6 756.1 420.5C755 421.4 754.6 424 753.6 424C752.7 424 751.4 421.9 750.5 420.5C749.6 419.1 748.5 417.6 748 415.5C747.5 413.4 747 409.5 747.4 408Z"/>
<path fill="#b4fdae" d="M755.5 424.9C755.7 424.2 757 423.8 757.4 424.2C757.8 424.7 758.2 426.8 758 427.4C757.8 428 756.5 428.4 756.1 428C755.7 427.6 755.3 425.5 755.5 424.9Z"/>
<path fill="#b4fdae" d="M759.2 428C759.5 427.1 761.1 426.3 763 426.1C764.9 425.9 767.6 426.8 770.5 426.8C773.4 426.8 777.4 426.1 780.5 426.1C783.6 426.1 786.7 426.8 789.2 426.8C791.8 426.8 796 426.1 796 426.1L796 456L771.8 456C771.8 456 771.5 450.4 771.1 448C770.7 445.6 770.2 443.8 769.2 441.8C768.3 439.7 766.8 437.2 765.5 435.5C764.2 433.8 762.8 433 761.8 431.8C760.7 430.5 759 428.9 759.2 428Z"/>
<path fill="#f5e105" d="M377.5 226.9C377.6 225.7 378.3 225 380 224.4C381.7 223.8 384.8 223.5 387.5 223.1C390.2 222.8 392.7 222.5 396.2 222.2C399.8 222 404.8 221.7 408.8 221.5C412.8 221.3 420.2 221.2 420.2 221.2L420.2 241.2C420.2 241.2 416.1 243.5 415 245C413.9 246.5 414.6 248.5 413.8 250C412.9 251.5 411.7 253 410 253.8C408.3 254.5 405.8 254.8 403.8 254.4C401.7 254 399.4 252.6 397.5 251.2C395.6 249.9 394.2 248.1 392.5 246.2C390.8 244.4 389.1 241.8 387.5 240C385.9 238.2 384.5 237.1 383.1 235.6C381.8 234.2 380.3 232.7 379.4 231.2C378.4 229.8 377.4 228 377.5 226.9Z"/>
<path fill="#f5e105" d="M413.1 261.2C413.5 260.4 415.5 259.9 417.5 260C419.5 260.1 423.1 261.5 425 261.9C426.9 262.3 427.5 262.6 428.8 262.5C430 262.4 431 261.4 432.5 261.2C434 261.1 436 261 437.5 261.9C439 262.7 440.2 264.7 441.2 266.2C442.3 267.8 442.8 269.6 443.8 271.2C444.7 272.9 446.2 274.6 446.9 276.2C447.5 277.9 447 279.6 447.5 281.2C448 282.9 449.2 285 450 286.2C450.8 287.5 451.7 287.7 452.5 288.8C453.3 289.8 455.4 291.7 455 292.5C454.6 293.3 452.1 293.6 450 293.8C447.9 293.9 445 293.8 442.5 293.1C440 292.5 437.3 291.1 435 290C432.7 288.9 430.2 287.7 428.8 286.2C427.3 284.8 426.7 282.9 426.2 281.2C425.8 279.6 426.9 277.5 426.2 276.2C425.6 275 423.8 274.8 422.5 273.8C421.2 272.7 420 271.5 418.8 270C417.5 268.5 415.9 266.5 415 265C414.1 263.5 412.7 262.1 413.1 261.2Z"/>
<path fill="#f5e105" d="M420.2 220.6C420.2 220.6 425.5 221.1 429 221.2C432.5 221.4 437.3 221.5 441.5 221.2C445.7 221 450.9 220.2 454 219.8C457.1 219.3 457.8 218.8 460.2 218.8C462.8 218.7 465.9 219.1 469 219.4C472.1 219.7 475.7 220.1 479 220.6C482.3 221.2 486.1 222 489 222.8C491.9 223.5 494 223.9 496.5 225C499 226.1 501.9 227.7 504 229.4C506.1 231 507.9 232.8 509 235C510.1 237.2 510.2 240.2 510.9 242.5C511.5 244.8 511.8 247.1 512.8 248.8C513.7 250.4 514.8 251.6 516.5 252.5C518.2 253.4 520.2 253.6 522.8 254.4C525.3 255.1 530.5 256.5 532 256.9C533.5 257.3 532 256.9 532 256.9L532 281.2C532 281.2 526.6 277.3 524 276.2C521.4 275.2 518.6 275.2 516.5 275C514.4 274.8 513.2 274.2 511.5 275C509.8 275.8 508.2 278.5 506.5 280C504.8 281.5 503.2 282.7 501.5 283.8C499.8 284.8 498.2 286.2 496.5 286.2C494.8 286.2 493.4 284.8 491.5 283.8C489.6 282.7 487.3 281 485.2 280C483.2 279 481.1 278.5 479 277.5C476.9 276.5 474.4 275 472.8 273.8C471.1 272.5 470.2 271.5 469 270C467.8 268.5 466.7 266.7 465.2 265C463.8 263.3 462.1 261.2 460.2 260C458.4 258.8 456.3 258.3 454 257.5C451.7 256.7 448.8 255.9 446.5 255C444.2 254.1 442.1 253 440.2 251.9C438.4 250.7 437.1 249.4 435.2 248.1C433.4 246.9 431.1 245.4 429 244.4C426.9 243.3 424.2 242.4 422.8 241.9C421.3 241.4 420.2 241.2 420.2 241.2L420.2 220.6Z"/>
<path fill="#f5e105" d="M520.1 137.2C520.3 136.3 521.7 134.3 522.6 134.1C523.5 133.9 524.9 135.3 525.5 136C526.1 136.7 526.3 137.7 526 138.5C525.7 139.3 524.6 140.8 523.9 141C523.1 141.2 522 140.6 521.4 140C520.8 139.4 519.9 138.2 520.1 137.2Z"/>
<path fill="#f5e105" d="M440.1 549.8C440.3 549.2 441.4 548.6 441.8 549.1C442.1 549.6 442.2 552.3 442 552.9C441.8 553.4 440.8 553 440.5 552.5C440.2 552 439.9 550.3 440.1 549.8Z"/>
<path fill="#f5e105" d="M414 541.6C414 541.2 414.8 540.5 415.1 540.5C415.5 540.5 416.2 541.2 416.2 541.6C416.2 542 415.5 542.8 415.1 542.8C414.8 542.8 414 542 414 541.6Z"/>
<path fill="#f5e105" d="M461.4 584C461.4 584 461.1 580 462 579.1C462.9 578.2 466.2 577.7 467 578.5C467.8 579.3 467 584 467 584L461.4 584Z"/>
<path fill="#f5e105" d="M461.4 586.5C461.3 585.2 463.2 584 463.2 584L467.6 584C467.6 584 468.5 587.4 468.2 589C468 590.6 467.1 593 466.4 593.4C465.6 593.8 464.7 592.6 463.9 591.5C463 590.4 461.5 587.8 461.4 586.5Z"/>
<path fill="#f5e105" d="M483.9 594C484 593.1 484.6 591.4 485.1 591.5C485.6 591.6 486.5 593.6 486.8 594.6C487 595.7 486.8 597.3 486.4 597.8C486 598.2 484.9 597.8 484.5 597.1C484.1 596.5 483.8 594.9 483.9 594Z"/>
<path fill="#f5e105" d="M510.1 595.2C510.2 594.1 511.1 592.3 512 591.5C512.9 590.7 514.3 590.2 515.8 590.2C517.2 590.2 519.2 590.7 520.8 591.5C522.3 592.3 523.8 594.7 525.1 595.2C526.5 595.8 527.7 594.9 528.9 594.6C530 594.3 531.1 593.1 532 593.4C532.9 593.7 534.5 595.7 534.5 596.5C534.5 597.3 533.2 598 532 598.4C530.8 598.8 528.5 598.6 527 599C525.5 599.4 524.7 600.5 523.2 600.9C521.8 601.3 519.8 601.5 518.2 601.5C516.7 601.5 515 601.4 513.9 600.9C512.7 600.4 512 599.3 511.4 598.4C510.8 597.4 510 596.4 510.1 595.2Z"/>
<path fill="#f5e105" d="M499.5 620.9C499.7 619.7 501.1 617.5 502 617.1C502.9 616.7 504.5 617.5 505.1 618.4C505.8 619.2 506.2 620.9 506 622.1C505.8 623.4 504.7 625.6 503.9 625.9C503 626.2 501.7 624.8 501 624C500.3 623.2 499.3 622 499.5 620.9Z"/>
<path fill="#f5e105" d="M444.8 625.9C445.1 625.2 446.7 624.4 447.6 624.6C448.5 624.9 450 626.5 450.1 627.5C450.2 628.5 449 630.4 448.2 630.5C447.5 630.6 446.3 629.1 445.8 628.4C445.2 627.6 444.4 626.5 444.8 625.9Z"/>
<path fill="#f5e105" d="M532 256.9C532 256.9 536.2 257.4 538.2 258.1C540.3 258.9 543.1 259.9 544.5 261.2C545.9 262.6 546.5 264.4 546.8 266.2C547 268.1 546.3 270.6 545.8 272.5C545.2 274.4 544.1 275.8 543.2 277.5C542.4 279.2 541.8 281.2 540.8 282.5C539.7 283.8 538.5 284.6 537 285C535.5 285.4 532 285 532 285L532 256.9Z"/>
<path fill="#f5e105" d="M590 98.2C590 97.2 591.5 95.4 592.2 95.4C593 95.4 594.7 97.2 594.8 98.2C594.8 99.3 593.3 101.6 592.5 101.6C591.7 101.6 590 99.3 590 98.2Z"/>
<path fill="#f5e105" d="M605.9 93.8C605.8 92.8 606.2 91.6 606.6 91C607 90.4 607.7 90 608.1 90.4C608.5 90.8 609.1 92.5 609.1 93.5C609.2 94.5 608.9 96 608.5 96.6C608.1 97.2 607.3 97.5 606.9 97C606.4 96.5 605.9 94.8 605.9 93.8Z"/>
<path fill="#f5e105" d="M635.2 133.2C635.2 132.3 635.9 130.8 636.5 130.4C637.1 130 638.2 130.2 638.8 130.8C639.3 131.3 640 132.6 640 133.5C640 134.4 639.3 135.5 638.8 136C638.2 136.5 637.1 136.7 636.5 136.2C635.9 135.8 635.2 134.2 635.2 133.2Z"/>
<path fill="#f5e105" d="M639.1 341.8C639.1 341.2 640.1 340.2 640.6 340.2C641.1 340.2 642.1 341.2 642.1 341.8C642.1 342.2 641.1 343.2 640.6 343.2C640.1 343.2 639.1 342.2 639.1 341.8Z"/>
<path fill="#f5e105" d="M651.2 409.2C652.1 408 653.5 407.8 655 408C656.5 408.2 658.9 409.2 660 410.5C661.1 411.8 661.9 413.4 661.9 415.5C661.9 417.6 660.4 420.9 660 423C659.6 425.1 659.1 426.3 659.4 428C659.7 429.7 660.7 431.8 661.9 433C663 434.2 665.2 434.9 666.2 435.5C667.3 436.1 668 436.8 668 436.8L668 456L628.1 456C628.1 456 629.2 453.9 630 451.8C630.8 449.6 632.5 445.5 633.1 443C633.8 440.5 633.9 438.8 633.8 436.8C633.6 434.7 632.3 432 632.5 430.5C632.7 429 633.3 429 635 428C636.7 427 640.6 425.5 642.5 424.2C644.4 423 645 422 646.2 420.5C647.5 419 649.2 417.4 650 415.5C650.8 413.6 650.4 410.5 651.2 409.2Z"/>
<path fill="#f5e105" d="M556.9 466C556.9 464.8 559.4 462.2 560.6 462.2C561.9 462.2 564.4 464.8 564.4 466C564.4 467.2 561.9 469.8 560.6 469.8C559.4 469.8 556.9 467.2 556.9 466Z"/>
<path fill="#f5e105" d="M548.1 506C548.3 505 550.2 503.1 551.2 501.6C552.3 500.2 553.6 498.8 554.4 497.2C555.1 495.7 555.1 493.3 555.6 492.2C556.1 491.2 556.9 490.8 557.5 491C558.1 491.2 559.2 492.2 559.4 493.5C559.6 494.8 559.4 496.9 558.8 498.5C558.1 500.1 556.6 501.4 555.6 502.9C554.7 504.3 554.1 506.4 553.1 507.2C552.2 508.1 550.8 508.1 550 507.9C549.2 507.7 547.9 507 548.1 506Z"/>
<path fill="#f5e105" d="M593.8 504.8C593.8 503.1 594.9 500.4 595.6 498.5C596.4 496.6 597.7 495.4 598.1 493.5C598.5 491.6 597.6 489 598.1 487.2C598.6 485.5 599.9 484.2 601.2 482.9C602.6 481.5 604.4 480.5 606.2 479.1C608.1 477.8 610.4 476 612.5 474.8C614.6 473.5 616.9 472.7 618.8 471.6C620.6 470.6 622.3 469.6 623.8 468.5C625.2 467.4 626.8 466.8 627.5 464.8C628.2 462.7 628.1 456 628.1 456L668 456L668 509.1C668 509.1 665.1 508.1 663.8 507.2C662.4 506.4 661.2 505.4 660 504.1C658.8 502.9 657.7 500.6 656.2 499.8C654.8 498.9 653.1 498.7 651.2 499.1C649.4 499.5 647.1 501.4 645 502.2C642.9 503.1 640.8 503.8 638.8 504.1C636.7 504.4 634.6 504.2 632.5 504.1C630.4 504 628.3 503.5 626.2 503.5C624.2 503.5 622.1 503.8 620 504.1C617.9 504.4 615.6 504.8 613.8 505.4C611.9 506 610.6 507.4 608.8 507.9C606.9 508.4 604.4 508 602.5 508.5C600.6 509 598.6 511 597.5 511C596.4 511 596.2 509.5 595.6 508.5C595 507.5 593.8 506.4 593.8 504.8Z"/>
<path fill="#f5e105" d="M771.2 200C771.2 200 769.6 204.8 768.8 207.5C767.9 210.2 767.1 213.3 766.2 216.2C765.4 219.2 765 222.3 763.8 225C762.5 227.7 760.2 230.6 758.8 232.5C757.3 234.4 756.5 234.2 755 236.2C753.5 238.3 751.2 243 750 245C748.8 247 748.8 247.8 747.5 248.1C746.2 248.4 744.4 246.7 742.5 246.9C740.6 247.1 738.3 248.2 736.2 249.4C734.2 250.5 732.3 252.2 730 253.8C727.7 255.3 724.2 257.3 722.5 258.8C720.8 260.2 720.2 261.2 720 262.5C719.8 263.8 720.2 265.4 721.2 266.2C722.3 267.1 724.4 266.9 726.2 267.5C728.1 268.1 730.6 269 732.5 270C734.4 271 736 272.1 737.5 273.8C739 275.4 740.4 277.7 741.2 280C742.1 282.3 741.9 285.4 742.5 287.5C743.1 289.6 745.4 291 745 292.5C744.6 294 742.5 295 740 296.2C737.5 297.5 732.9 299 730 300C727.1 301 724.8 301.5 722.5 302.5C720.2 303.5 717.3 305 716.2 306.2C715.2 307.5 715.4 309 716.2 310C717.1 311 720.2 311.2 721.2 312.5C722.3 313.8 722.7 315.4 722.5 317.5C722.3 319.6 720.6 323.2 720 325C719.4 326.8 718.8 328 718.8 328L788 328L788 200L771.2 200Z"/>
<path fill="#f5e105" d="M710.5 115.4C710.6 114.6 711.6 113.5 712.4 114.1C713.1 114.8 714.6 117.9 714.9 119.1C715.2 120.4 714.7 121.7 714.2 121.6C713.8 121.6 712.6 119.8 712 118.8C711.4 117.7 710.4 116.1 710.5 115.4Z"/>
<path fill="#f5e105" d="M702.4 133.8C702.2 133.1 703.9 131.8 704.9 131.6C705.8 131.5 707.8 132.2 708 132.9C708.2 133.5 707.1 135.2 706.1 135.4C705.2 135.5 702.6 134.4 702.4 133.8Z"/>
<path fill="#f5e105" d="M764.2 173.5C764.2 171.6 764.5 167.9 764.9 166C765.3 164.1 765.2 162.2 766.8 162.2C768.3 162.2 772 164.8 774.2 166C776.5 167.2 778.2 168.1 780.5 169.8C782.8 171.4 786.1 174.1 788 176C789.9 177.9 790.9 179.3 791.8 181C792.6 182.7 792.3 185 793 186C793.7 187 795.5 187 796 187.2C796.5 187.5 796 187.2 796 187.2L796 214L770.5 214C770.5 214 771.4 208 771.8 204.8C772.1 201.5 772 197.9 772.4 194.8C772.8 191.6 774.8 188.3 774.2 186C773.7 183.7 770.8 182.5 769.2 181C767.7 179.5 765.7 178.5 764.9 177.2C764 176 764.2 175.4 764.2 173.5Z"/>
<path fill="#f5e105" d="M716.1 328C716.1 328 717.1 332.2 718 334.2C718.9 336.3 720.7 338.5 721.8 340.5C722.8 342.5 723 345 724.2 346.1C725.5 347.3 727.6 347.5 729.2 347.4C730.9 347.3 732.8 346.5 734.2 345.5C735.7 344.5 736.5 342.4 738 341.1C739.5 339.9 741.5 338.2 743 338C744.5 337.8 745.6 340 746.8 339.9C747.9 339.8 749.7 338.4 749.9 337.4C750.1 336.3 748.6 334.6 748 333.6C747.4 332.7 745.7 332.4 746.1 331.8C746.5 331.1 748.9 330.4 750.5 329.9C752.1 329.4 753.8 328.6 755.5 328.6C757.2 328.6 759.2 330 760.5 329.9C761.8 329.8 763 328 763 328L716.1 328Z"/>
<path fill="#f5e105" d="M763 328C763 328 765.5 330.9 766.8 333C768 335.1 769.5 337.8 770.5 340.5C771.5 343.2 772.3 346.1 773 349.2C773.7 352.4 774.2 355.9 774.9 359.2C775.5 362.6 776.2 367.3 776.8 369.2C777.3 371.2 777.4 372 778 371.1C778.6 370.3 779.7 366.6 780.5 364.2C781.3 361.9 782.2 359 783 356.8C783.8 354.5 784.7 352.6 785.5 350.5C786.3 348.4 787.1 346.3 788 344.2C788.9 342.2 790.3 339.9 791.1 338C792 336.1 792.7 334.7 793 333C793.3 331.3 793 328 793 328L763 328Z"/>
<path fill="#f5e105" d="M796 346.8C796 346.8 793.1 347.6 791.8 348.6C790.4 349.7 788.9 351.2 788 353C787.1 354.8 786.3 357 786.1 359.2C785.9 361.5 786.3 364.2 786.8 366.8C787.2 369.2 787.8 372.4 788.6 374.2C789.5 376.1 790.5 377.2 791.8 378C793 378.8 796 379.2 796 379.2L796 346.8Z"/>
<path fill="#f5e105" d="M680.5 365.5C680.7 364.2 682.5 362.6 683.6 362.4C684.8 362.2 686.5 363.3 687.4 364.2C688.3 365.2 689.1 366.9 689 368C688.9 369.1 687.9 370.8 686.8 371.1C685.6 371.4 683.4 370.8 682.4 369.9C681.3 368.9 680.3 366.8 680.5 365.5Z"/>
<path fill="#f5e105" d="M735.5 364.2C736.3 363.1 737.8 362.6 739.2 362.4C740.7 362.2 743.6 362.3 744.2 363C744.9 363.7 743.8 365.5 743 366.8C742.2 368 740.5 369.2 739.2 370.5C738 371.8 737 373 735.5 374.2C734 375.5 732 376.5 730.5 378C729 379.5 727.8 381.8 726.8 383C725.7 384.2 724.9 385.5 724.2 385.5C723.6 385.5 722.6 384.2 723 383C723.4 381.8 725.5 379.5 726.8 378C728 376.5 729.2 375.7 730.5 374.2C731.8 372.8 733.4 370.9 734.2 369.2C735.1 367.6 734.7 365.4 735.5 364.2Z"/>
<path fill="#f5e105" d="M668 431.8C668 431.8 670.9 431.1 673 430.5C675.1 429.9 678 429 680.5 428C683 427 685.9 425.1 688 424.2C690.1 423.4 690.9 422.8 693 423C695.1 423.2 698 424.8 700.5 425.5C703 426.2 705.7 427.2 708 427.4C710.3 427.6 712.2 427.3 714.2 426.8C716.3 426.2 718.6 424.6 720.5 424.2C722.4 423.9 723.8 424.2 725.5 424.9C727.2 425.5 729 426.9 730.5 428C732 429.1 733 430.9 734.2 431.8C735.5 432.6 736.1 432.6 738 433C739.9 433.4 743.2 433.4 745.5 434.2C747.8 435.1 750.3 436.5 751.8 438C753.2 439.5 754 441.3 754.2 443C754.5 444.7 753.8 446.5 753 448C752.2 449.5 750.1 450.4 749.2 451.8C748.4 453.1 748 456 748 456L668 456L668 431.8Z"/>
<path fill="#f5e105" d="M668 505C668 505 671.1 502.8 673 502C674.9 501.2 677 500.4 679.2 500C681.5 499.6 684.9 500.4 686.8 499.8C688.6 499.1 689.7 497.6 690.5 496.2C691.3 494.9 690.7 492.8 691.8 491.6C692.8 490.4 694.7 489.8 696.8 489.1C698.8 488.5 702 488.4 704.2 487.9C706.5 487.4 708.6 486.5 710.5 486C712.4 485.5 714.2 485.3 715.5 485C716.8 484.7 716.8 484.1 718 484.1C719.2 484.2 721.5 484.8 723 485.4C724.5 486 725.5 487.2 726.8 487.9C728 488.5 729.5 489.4 730.5 489.1C731.5 488.8 732.7 487.4 733 486C733.3 484.6 733 482.5 732.4 481C731.8 479.5 730.6 478.3 729.2 477.2C727.9 476.2 725.7 475.4 724.2 474.8C722.8 474.1 720.9 474.5 720.5 473.5C720.1 472.5 721.1 470.2 721.8 468.5C722.4 466.8 723.6 465.2 724.2 463.5C724.9 461.8 725.1 459.8 725.5 458.5C725.9 457.2 726.8 456 726.8 456L668 456L668 505Z"/>
<path fill="#f5e105" d="M736.1 493.8C736.2 493.2 737.4 492.7 738 492.9C738.6 493 739.5 494.2 739.5 494.8C739.5 495.3 738.3 496.4 737.8 496.2C737.2 496.1 736.1 494.3 736.1 493.8Z"/>
<path fill="#f5e105" d="M800.5 200C800.5 200 801.1 202.9 801.8 205C802.4 207.1 803.6 209.6 804.2 212.5C804.9 215.4 805.2 219.6 805.5 222.5C805.8 225.4 806 226.7 806 230C806 233.3 806.2 239.4 805.8 242.5C805.3 245.6 804.5 247.4 803.5 248.8C802.5 250.1 801.2 250.2 799.8 250.6C798.3 251 796.4 250.1 794.8 251.2C793.1 252.4 791.2 255.2 789.8 257.5C788.3 259.8 786 265 786 265L786 200L800.5 200Z"/>
<path fill="#f5e105" d="M788 283.1C788 283.1 792.8 282.2 794.8 283.1C796.7 284.1 798.5 286.9 799.8 288.8C801 290.6 801.6 292.3 802.2 294C802.9 295.7 803.3 296.7 803.6 298.8C804 300.8 803.9 304 804.2 306.2C804.6 308.5 805.1 310.2 805.5 312.5C805.9 314.8 806.1 317.9 806.8 320C807.4 322.1 808.2 323.7 809.2 325C810.3 326.3 813 328 813 328L788 328L788 283.1Z"/>
<path fill="#f5e105" d="M796 186C796 186 796.7 187.7 797.2 189.8C797.8 191.8 798.5 195.8 799.1 198.5C799.8 201.2 800.5 203.4 801 206C801.5 208.6 802.2 214 802.2 214L796 214L796 186Z"/>
<path fill="#f5e105" d="M885 154.1C885.2 153.3 885.9 151.8 886.6 151.6C887.3 151.4 888.6 152.1 889.1 152.9C889.6 153.6 889.8 155.2 889.5 156C889.2 156.8 887.9 157.4 887.2 157.5C886.6 157.6 885.8 157.2 885.4 156.6C885 156.1 884.8 155 885 154.1Z"/>
<path fill="#f5e105" d="M906 142.2C906 141 906.5 139.4 907.2 138.5C908 137.6 909.2 137 910.4 137C911.5 137 912.9 137.7 914.1 138.5C915.4 139.3 916.7 141 917.9 141.6C919 142.3 920 142.5 921 142.5C922 142.5 924 141.6 924 141.6L931 141L931 159.1L926 159.8C926 159.8 923.4 159 922.2 157.9C921.1 156.7 920.2 154.3 919.1 152.9C918.1 151.4 917.1 150 916 149.1C914.9 148.3 913.4 147.9 912.2 147.9C911.1 147.9 910 149.4 909.1 149.1C908.2 148.8 907.5 147.1 907 146C906.5 144.9 906 143.5 906 142.2Z"/>
<path fill="#f5e105" d="M796 331.8C796 331.8 796 330.5 797.2 329.9C798.5 329.2 803.5 328 803.5 328L811 328C811 328 811.4 331.3 812.2 333C813.1 334.7 814.5 336.1 816 338C817.5 339.9 819.9 342.1 821 344.2C822.1 346.4 822.8 349 822.9 351.1C823 353.2 822.6 355.4 821.6 356.8C820.7 358.1 818.6 359 817.2 359.2C815.9 359.5 814.8 358.6 813.5 358C812.2 357.4 811.2 355.8 809.8 355.5C808.3 355.2 806.3 355.6 804.8 356.1C803.2 356.6 801.4 357.5 800.4 358.6C799.3 359.8 798.5 361.4 798.5 363C798.5 364.6 799.9 366.3 800.4 368C800.9 369.7 801.7 371.4 801.6 373C801.5 374.6 800.7 376.2 799.8 377.4C798.8 378.5 796 379.9 796 379.9L796 331.8Z"/>
<path fill="#fff064" d="M643.8 479.1C643.9 477.7 645.2 475.9 646.2 474.8C647.3 473.6 648.9 472.4 650 472.2C651.1 472.1 652 473.4 653.1 474.1C654.3 474.9 655.9 475.5 656.9 476.6C657.8 477.8 658.3 479.5 658.8 481C659.2 482.5 660 484.3 659.4 485.4C658.8 486.4 656.6 487.2 655 487.2C653.4 487.2 651.6 486 650 485.4C648.4 484.8 646.7 484.5 645.6 483.5C644.6 482.5 643.6 480.6 643.8 479.1Z"/>
<path fill="#fff064" d="M766.2 286.2C767.3 284.2 770.2 282.9 772.5 280.6C774.8 278.3 777.5 275.1 779.8 272.5C782 269.9 784.6 267.3 786 265C787.4 262.7 788 258.8 788 258.8L788 282.8C788 282.8 783.2 284.5 781 285.6C778.8 286.7 776.6 288 774.8 289.4C772.9 290.8 771.4 293.4 770 294C768.6 294.6 766.9 294.4 766.2 293.1C765.6 291.8 765.2 288.3 766.2 286.2Z"/>
<path fill="#fff064" d="M739.4 263.1C739.7 262.6 740.9 262.6 741.2 263.1C741.6 263.6 741.6 265.7 741.2 266.2C740.9 266.8 739.7 266.8 739.4 266.2C739.1 265.7 739.1 263.6 739.4 263.1Z"/>
<path fill="#fff064" d="M716.1 439.2C716.1 438.2 718 437 719.2 436.8C720.5 436.5 722.4 437.2 723.6 438C724.9 438.8 726.6 440.8 726.8 441.8C726.9 442.7 725.5 443.4 724.2 443.6C723 443.8 720.6 443.7 719.2 443C717.9 442.3 716.1 440.3 716.1 439.2Z"/>
<path fill="#fff064" d="M746.8 448C747 446.1 748.2 443.8 749.2 443C750.3 442.2 752.1 442.2 753 443C753.9 443.8 754.9 446.3 754.9 448C754.9 449.7 754.1 452 753 453C751.9 454 749 455.1 748 454.2C747 453.4 746.5 449.9 746.8 448Z"/>
<path fill="#fff064" d="M688.6 472.2C688.8 470.7 691.2 469.4 693 468.5C694.8 467.6 697.2 466.7 699.2 466.6C701.3 466.5 703.7 467.1 705.5 467.9C707.3 468.6 709.2 469.9 709.9 471C710.5 472.1 709.5 473.6 709.2 474.8C709 475.9 709.7 477.2 708.6 477.9C707.6 478.5 705 478.2 703 478.5C701 478.8 698.6 479.9 696.8 479.8C694.9 479.6 693.1 479.1 691.8 477.9C690.4 476.6 688.4 473.8 688.6 472.2Z"/>
<path fill="#ffb45f" d="M383.1 231.2C383.5 230.2 385.3 228 386.9 226.9C388.4 225.7 390.5 225 392.5 224.4C394.5 223.8 396.7 223.1 398.8 223.1C400.8 223.1 403.4 223.2 405 224.4C406.6 225.5 407.3 228 408.1 230C409 232 409.2 234.4 410 236.2C410.8 238.1 412.8 239.6 413.1 241.2C413.4 242.9 412.5 244.8 411.9 246.2C411.2 247.7 410.4 249.1 409.4 250C408.3 250.9 407 251.9 405.6 251.9C404.3 251.9 402.7 251 401.2 250C399.8 249 398.3 247.3 396.9 245.6C395.4 244 394 241.7 392.5 240C391 238.3 389.5 236.8 388.1 235.6C386.8 234.5 385.2 233.9 384.4 233.1C383.5 232.4 382.7 232.3 383.1 231.2Z"/>
<path fill="#ffb45f" d="M430 263.8C430.5 263 431.9 262.9 433.1 263.1C434.4 263.3 436.5 263.9 437.5 265C438.5 266.1 438.8 268.3 439.4 270C440 271.7 440.5 273.3 441.2 275C442 276.7 442.8 278.3 443.8 280C444.7 281.7 446 283.6 446.9 285C447.7 286.4 448.9 287.5 448.8 288.1C448.6 288.8 447.5 289.2 446.2 288.8C445 288.3 442.7 286.9 441.2 285.6C439.8 284.4 438.5 282.8 437.5 281.2C436.5 279.7 435.8 277.9 435 276.2C434.2 274.6 433.3 272.7 432.5 271.2C431.7 269.8 430.7 268.8 430.2 267.5C429.8 266.2 429.5 264.5 430 263.8Z"/>
<path fill="#ffb45f" d="M417.5 226.9C417.9 225.8 418.5 224 419.6 223.1C420.7 222.2 421.4 221.6 424 221.5C426.6 221.4 431.7 222.4 435.2 222.5C438.8 222.6 442.1 222.6 445.2 222.2C448.4 221.9 451.3 221 454 220.6C456.7 220.2 458.6 220 461.5 220C464.4 220 468.2 220.3 471.5 220.6C474.8 220.9 478.4 221.2 481.5 221.9C484.6 222.5 487.5 223.3 490.2 224.4C493 225.4 495.7 226.6 497.8 228.1C499.8 229.7 501.7 231.6 502.8 233.8C503.8 235.9 503.6 239 504 241.2C504.4 243.5 504.4 245.6 505.2 247.5C506.1 249.4 507.1 251 509 252.5C510.9 254 514 255.3 516.5 256.2C519 257.2 521.4 257.5 524 258.1C526.6 258.8 530.7 259.7 532 260C533.3 260.3 532 260 532 260L532 277.5C532 277.5 526.6 274.7 524 273.8C521.4 272.8 518.8 272.3 516.5 271.9C514.2 271.5 512.1 270.7 510.2 271.2C508.4 271.8 506.5 273.5 505.2 275C504 276.5 503.8 278.8 502.8 280C501.7 281.2 500.5 282.3 499 282.5C497.5 282.7 495.2 282.1 494 281.2C492.8 280.4 492.3 278.5 491.5 277.5C490.7 276.5 490.2 275.6 489 275C487.8 274.4 485.9 274.4 484 273.8C482.1 273.1 479.8 272.3 477.8 271.2C475.7 270.2 473.4 269 471.5 267.5C469.6 266 468 264 466.5 262.5C465 261 464.4 259.9 462.8 258.8C461.1 257.6 458.6 256.6 456.5 255.6C454.4 254.7 452.5 254.1 450.2 253.1C448 252.2 445 251.1 442.8 250C440.5 248.9 438.6 247.6 436.5 246.2C434.4 244.9 432.3 243.2 430.2 241.9C428.2 240.5 425.8 239.6 424 238.1C422.2 236.7 420.7 234.6 419.6 233.1C418.5 231.7 417.9 230.4 417.5 229.4C417.1 228.3 417.1 227.9 417.5 226.9Z"/>
<path fill="#ffb45f" d="M517.5 595.9C517.5 595.5 518.2 594.9 518.5 594.9C518.8 594.9 519.5 595.5 519.5 595.9C519.5 596.2 518.8 596.9 518.5 596.9C518.2 596.9 517.5 596.2 517.5 595.9Z"/>
<path fill="#ffb45f" d="M447.5 627.5C447.5 627.2 448 626.8 448.2 626.8C448.5 626.8 449 627.2 449 627.5C449 627.8 448.5 628.2 448.2 628.2C448 628.2 447.5 627.8 447.5 627.5Z"/>
<path fill="#ffb45f" d="M532 258.8C532 258.8 534.5 259.4 535.8 260C537 260.6 538.7 261.2 539.5 262.5C540.3 263.8 540.9 265.8 540.8 267.5C540.6 269.2 539.6 271.2 538.9 272.5C538.1 273.8 536.9 274 536.4 275C535.9 276 536.5 277.9 535.8 278.8C535 279.6 532 280 532 280L532 258.8Z"/>
<path fill="#ffb45f" d="M605.1 142.5C605.1 141.2 606 139.4 606.6 138.5C607.3 137.6 608.1 137 609.1 137C610.1 137 611.5 137.7 612.5 138.5C613.5 139.3 614.5 141 615 142C615.5 143 615.6 144 615.4 144.8C615.2 145.5 614.6 146.2 613.8 146.6C612.9 147 611.1 147.4 610 147.2C608.9 147.1 607.7 146.8 606.9 146C606.1 145.2 605.2 143.8 605.1 142.5Z"/>
<path fill="#ffb45f" d="M632 458C632.2 455.7 632.2 451.6 633.2 449.2C634.3 446.9 636.2 444.8 638.2 443.6C640.3 442.5 643.5 442.1 645.8 442.4C648 442.7 649.7 444.9 652 445.5C654.3 446.1 657 446.2 659.5 446.1C662 446 665.4 444.6 667 444.9C668.6 445.2 668.8 446.5 668.9 448C669 449.5 668.4 452.1 667.6 453.6C666.9 455.2 664.6 456 664.5 457.4C664.4 458.7 667 460.2 667 461.8C667 463.3 665.8 466.5 664.5 466.8C663.2 467 661.2 464.5 659.5 463C657.8 461.5 656.4 458.9 654.5 458C652.6 457.1 649.9 457 648.2 457.4C646.6 457.8 645.5 459.2 644.5 460.5C643.5 461.8 643 463.7 642 464.9C641 466 639.6 467.1 638.2 467.4C636.9 467.7 634.9 467.5 633.9 466.8C632.9 466 632.6 464.5 632.2 463C631.9 461.5 631.8 460.3 632 458Z"/>
<path fill="#ffb45f" d="M606.4 490.5C607 488.9 609.2 487 610.8 485.5C612.3 484 614.1 482.6 615.8 481.8C617.4 480.9 619.1 481.4 620.8 480.5C622.4 479.6 624.1 477.5 625.8 476.1C627.4 474.8 629.2 473.5 630.8 472.4C632.3 471.2 633.9 470 635.1 469.2C636.4 468.5 637.5 467.4 638.2 468C639 468.6 639.2 470.9 639.5 473C639.8 475.1 640 478 640.1 480.5C640.2 483 640.3 485.5 640.1 488C639.9 490.5 639.6 493.4 638.9 495.5C638.1 497.6 637.3 499.6 635.8 500.5C634.2 501.4 631.6 501.5 629.5 501.1C627.4 500.7 625.3 498.9 623.2 498C621.2 497.1 619.1 495.7 617 495.5C614.9 495.3 612.5 496.9 610.8 496.8C609 496.6 607.5 495.9 606.8 494.9C606 493.8 605.7 492.1 606.4 490.5Z"/>
<path fill="#ffb45f" d="M664.5 457.4C664.9 456.8 666.6 459.6 668.2 460.5C669.9 461.4 672.2 462.7 674.5 463C676.8 463.3 679.9 463.1 682 462.4C684.1 461.6 685.5 458.9 687 458.6C688.5 458.3 689.9 459.7 690.8 460.5C691.6 461.3 692.6 462.7 692 463.6C691.4 464.6 688.7 465.2 687 466.1C685.3 467.1 682.4 468.1 682 469.2C681.6 470.4 683.9 471.5 684.5 473C685.1 474.5 686 476.3 685.8 478C685.5 479.7 684.3 481.3 683.2 483C682.2 484.7 680.5 486.1 679.5 488C678.5 489.9 677.6 492.4 677 494.2C676.4 496.1 676.6 497.9 675.8 499.2C674.9 500.6 673.7 501.8 672 502.4C670.3 503 667.8 503.2 665.8 503C663.7 502.8 661.4 502 659.5 501.1C657.6 500.3 655.6 499.1 654.5 498C653.4 496.9 652.6 495.7 652.6 494.2C652.6 492.8 653.4 490.7 654.5 489.2C655.6 487.8 658.2 487 659.5 485.5C660.8 484 660.8 482.2 662 480.5C663.2 478.8 665.5 477.2 667 475.5C668.5 473.8 670.3 472 670.8 470.5C671.2 469 670.3 467.8 669.5 466.8C668.7 465.7 666.6 465.8 665.8 464.2C664.9 462.7 664.1 458 664.5 457.4Z"/>
<path fill="#ffb45f" d="M638.9 488C639.3 486.6 640.6 485.9 642 486.1C643.4 486.3 645.1 488.3 647 489.2C648.9 490.2 652 490.7 653.2 491.8C654.5 492.8 654.9 494.6 654.5 495.5C654.1 496.4 652.4 497.4 650.8 497.4C649.1 497.4 646.4 496 644.5 495.5C642.6 495 640.4 495.5 639.5 494.2C638.6 493 638.5 489.4 638.9 488Z"/>
<path fill="#ffb45f" d="M686.4 441.8C686.2 439.6 686.7 437.8 687.6 436.1C688.6 434.5 690.2 432.7 692 431.8C693.8 430.8 696.4 430.3 698.2 430.5C700.1 430.7 702.2 431.3 703.2 433C704.3 434.7 703.9 438.2 704.5 440.5C705.1 442.8 706.3 444.5 707 446.8C707.7 449 709.2 452.4 708.9 454.2C708.6 456.1 706.7 457.2 705.1 458C703.6 458.8 701.3 458.6 699.5 459.2C697.7 459.9 696 461.5 694.5 461.8C693 462 691.8 461.5 690.8 460.5C689.7 459.5 688.6 457.4 688.2 455.5C687.9 453.6 689.2 451.5 688.9 449.2C688.6 447 686.6 443.9 686.4 441.8Z"/>
<path fill="#ffb45f" d="M712 431.8C711.9 430.8 713.8 428.8 715.1 428C716.5 427.2 719.2 425.9 720 426.8C720.8 427.6 720.7 431.9 720 433C719.3 434.1 717.1 433.8 715.8 433.6C714.4 433.4 712.1 432.7 712 431.8Z"/>
<path fill="#ffb45f" d="M751.2 270C751.2 267.7 751.9 263.8 752.5 260C753.1 256.2 754 251 755 247.5C756 244 757.3 240.9 758.8 238.8C760.2 236.6 761.9 235.3 763.8 234.4C765.6 233.4 767.9 232.6 770 233.1C772.1 233.6 774.4 236.1 776.2 237.5C778.1 238.9 779.8 239.6 781.2 241.2C782.7 242.9 784.3 245.2 785 247.5C785.7 249.8 785.8 252.5 785.6 255C785.4 257.5 784.7 260.4 783.8 262.5C782.8 264.6 781.5 265.6 780 267.5C778.5 269.4 776.9 271.9 775 273.8C773.1 275.6 770.8 277.7 768.8 278.8C766.7 279.8 764.6 280.2 762.5 280C760.4 279.8 757.9 278.5 756.2 277.5C754.6 276.5 753.3 275 752.5 273.8C751.7 272.5 751.2 272.3 751.2 270Z"/>
<path fill="#ffb45f" d="M728.8 258.1C728.9 257.3 730.8 255.6 731.9 255C732.9 254.4 734.5 253.8 735 254.4C735.5 255 735.6 257.9 735 258.8C734.4 259.6 732.3 259.9 731.2 259.8C730.2 259.6 728.6 258.9 728.8 258.1Z"/>
<path fill="#ffb45f" d="M721.2 328C721.2 328 721.7 322.6 722.5 320C723.3 317.4 724.8 314.6 726.2 312.5C727.7 310.4 729.4 309 731.2 307.5C733.1 306 735.6 305.2 737.5 303.8C739.4 302.3 740.8 300.4 742.5 298.8C744.2 297.1 745.8 294.9 747.5 293.8C749.2 292.6 750.8 292 752.5 291.9C754.2 291.8 756.5 292.2 757.5 293.1C758.5 294.1 759 295.5 758.8 297.5C758.5 299.5 757.3 302.7 756.2 305C755.2 307.3 754 309.4 752.5 311.2C751 313.1 749.4 314.8 747.5 316.2C745.6 317.7 743.3 318.9 741.2 320C739.2 321.1 736.2 321.8 735 323.1C733.8 324.5 733.8 328 733.8 328L721.2 328Z"/>
<path fill="#ffb45f" d="M771.2 308.8C771.6 307.4 772.7 305 773.8 303.8C774.8 302.5 776.5 301.2 777.5 301.2C778.5 301.2 779.2 302.5 780 303.8C780.8 305 781.7 307.1 782.5 308.8C783.3 310.4 784.5 312.3 785 313.8C785.5 315.2 786.5 316.8 785.6 317.5C784.8 318.2 781.8 318.5 780 318.1C778.2 317.7 776.4 316 775 315C773.6 314 772.5 312.9 771.9 311.9C771.2 310.8 770.9 310.1 771.2 308.8Z"/>
<path fill="#ffb45f" d="M784.2 189.8C784.6 189.2 785.4 188.7 786.1 189.1C786.9 189.5 788.1 190.7 788.6 192.2C789.2 193.8 789.6 197 789.5 198.5C789.4 200 788.9 201.4 788.2 201C787.6 200.6 786.2 197.5 785.5 196C784.8 194.5 784.2 193.3 784 192.2C783.8 191.2 783.9 190.3 784.2 189.8Z"/>
<path fill="#ffb45f" d="M774.2 334.2C774.5 332.9 775.9 331.1 776.8 331.1C777.6 331.1 778.7 332.7 779.2 334.2C779.8 335.8 780.1 338.9 779.9 340.5C779.7 342.1 778.7 343.8 778 343.6C777.3 343.4 776.1 340.8 775.5 339.2C774.9 337.7 774 335.6 774.2 334.2Z"/>
<path fill="#ffb45f" d="M792.4 364.2C792.5 363.3 793.2 362.5 793.6 362.8C794 363 794.8 364.4 794.9 365.5C795 366.6 794.6 368.7 794.2 369.2C793.9 369.8 793.1 369.5 792.8 368.6C792.4 367.8 792.2 365.2 792.4 364.2Z"/>
<path fill="#ffb45f" d="M721.8 328C721.8 328 723 331.5 723 333C723 334.5 721.6 336.3 721.8 336.8C721.9 337.2 722.8 336.3 723.6 335.5C724.5 334.7 725.4 332.7 726.8 331.8C728.1 330.8 730.7 330.5 731.8 329.9C732.8 329.2 733 328 733 328L721.8 328Z"/>
<path fill="#ffb45f" d="M720.5 451.8C720.4 450.8 722.4 449.2 723.6 448.6C724.9 448 726.4 448.3 728 448C729.6 447.7 732.1 446.3 733 446.8C733.9 447.2 734.1 449.4 733.6 450.5C733.1 451.6 731.4 453 729.9 453.6C728.3 454.2 725.8 454.6 724.2 454.2C722.7 453.9 720.6 452.7 720.5 451.8Z"/>
<path fill="#ffb45f" d="M725.2 427.4C725.4 426.6 726.2 426.2 726.5 426.8C726.8 427.3 727.1 430 727 430.8C726.9 431.5 726 431.7 725.8 431.1C725.5 430.6 725.1 428.1 725.2 427.4Z"/>
<path fill="#ffb45f" d="M794.2 213.8C794.5 212.3 795.4 211.7 796.1 212.5C796.9 213.3 797.7 216.2 798.6 218.8C799.6 221.2 800.9 224.6 801.8 227.5C802.6 230.4 803.8 234.3 804 236.2C804.2 238.2 803.6 239.2 803 239.4C802.4 239.6 801.4 239.1 800.5 237.5C799.6 235.9 798.3 232.7 797.4 230C796.4 227.3 795.4 224 794.9 221.2C794.4 218.5 794 215.2 794.2 213.8Z"/>
<path fill="#ffb45f" d="M907.9 144.8C908.1 143.9 908.8 142.1 909.8 141.6C910.7 141.1 912.2 141.3 913.5 141.6C914.8 141.9 916 143.1 917.2 143.5C918.5 143.9 919.9 144.1 921 144.1C922.1 144.1 924 143.5 924 143.5L931 143.2L931 156L926 156.6L924 159.1C924 159.1 922.3 159.6 921.6 158.5C921 157.4 920.6 153.9 920 152.2C919.4 150.6 919 149.3 917.9 148.5C916.8 147.7 914.8 147.4 913.5 147.2C912.2 147.1 911.2 147.6 910.4 147.5C909.5 147.4 908.9 147.1 908.5 146.6C908.1 146.2 907.7 145.6 907.9 144.8Z"/>
<path fill="#f58505" d="M389.4 231.9C389.5 231 392.2 231.7 393.8 231.9C395.3 232 397.1 232.2 398.8 232.8C400.4 233.3 402.2 234 403.8 235C405.3 236 407.2 237.5 408.1 238.8C409.1 240 409.7 241.4 409.4 242.5C409.1 243.6 407.5 245.2 406.2 245.6C405 246 403.3 245.6 401.9 245C400.4 244.4 399 243.2 397.5 241.9C396 240.5 394.5 238.5 393.1 236.9C391.8 235.2 389.3 232.7 389.4 231.9Z"/>
<path fill="#f58505" d="M396.9 223.8C397.7 223.5 400.9 223.9 402.5 224.4C404.1 224.9 405.9 226.2 406.2 226.9C406.6 227.5 405.4 228.1 404.4 228.1C403.3 228.1 401.1 227.3 400 226.9C398.9 226.5 398 226.1 397.5 225.6C397 225.1 396 224 396.9 223.8Z"/>
<path fill="#f58505" d="M432.6 265C432.6 264.7 433.2 264.1 433.5 264.1C433.8 264.1 434.4 264.7 434.4 265C434.4 265.3 433.8 265.9 433.5 265.9C433.2 265.9 432.6 265.3 432.6 265Z"/>
<path fill="#f58505" d="M420.2 226.9C420 225.7 420.7 224.5 421.5 223.8C422.3 223 423.4 222.4 425.2 222.5C427.1 222.6 430 224 432.8 224.4C435.5 224.8 438.8 225.1 441.5 225C444.2 224.9 446.5 224.3 449 223.8C451.5 223.2 454.2 222 456.5 221.5C458.8 221 460.2 221 462.8 221C465.2 221 468.4 221.2 471.5 221.5C474.6 221.8 478.6 222.2 481.5 222.8C484.4 223.3 486.7 223.9 489 225C491.3 226.1 493.5 227.7 495.2 229.4C497 231 498.7 233 499.6 235C500.6 237 500.6 239.2 500.9 241.2C501.2 243.3 501 245.7 501.5 247.5C502 249.3 502.5 250.5 504 251.9C505.5 253.2 508.2 254.6 510.2 255.6C512.3 256.7 514.2 257.4 516.5 258.1C518.8 258.9 521.4 259.4 524 260C526.6 260.6 530.7 261.6 532 261.9C533.3 262.2 532 261.9 532 261.9L532 275C532 275 526.6 272.8 524 271.9C521.4 270.9 518.8 270 516.5 269.4C514.2 268.8 512.3 268.4 510.2 268.1C508.2 267.8 505.9 267.8 504 267.5C502.1 267.2 501.1 266.6 499 266.2C496.9 265.9 493.8 265.9 491.5 265.6C489.2 265.3 486.9 265.3 485.2 264.4C483.6 263.4 482.8 261.4 481.5 260C480.2 258.6 479.4 257.1 477.8 256.2C476.1 255.4 473.6 255.4 471.5 255C469.4 254.6 467.3 254.6 465.2 253.8C463.2 252.9 461.3 251.2 459 250C456.7 248.8 454 247.5 451.5 246.2C449 245 446.5 243.8 444 242.5C441.5 241.2 439 240.1 436.5 238.8C434 237.4 431.3 235.7 429 234.4C426.7 233 424.2 231.9 422.8 230.6C421.3 229.4 420.5 228 420.2 226.9Z"/>
<path fill="#f58505" d="M495 276.2C495.2 275.4 496.5 274.6 497.1 274.8C497.8 274.9 498.8 276 499 276.9C499.2 277.8 498.9 279.5 498.4 280C497.9 280.5 496.4 280.6 495.9 280C495.3 279.4 494.8 277.1 495 276.2Z"/>
<path fill="#f58505" d="M521.8 137.2C521.9 136.6 522.4 135.3 522.8 135.4C523.1 135.4 523.8 136.8 523.9 137.5C524 138.2 523.6 139.5 523.2 139.8C522.9 140 522.2 139.5 522 139.1C521.8 138.7 521.6 137.9 521.8 137.2Z"/>
<path fill="#f58505" d="M532 261.2C532 261.2 533.2 261.2 533.9 261.9C534.5 262.5 535.4 263.8 535.8 265C536.1 266.2 536.3 268 536 269.4C535.7 270.7 534.5 272.5 533.9 273.1C533.2 273.8 532 273.1 532 273.1L532 261.2Z"/>
<path fill="#f58505" d="M635.6 456C635.6 456 636.8 457.9 637.5 457.9C638.2 457.9 640 456 640 456L635.6 456Z"/>
<path fill="#f58505" d="M635.1 454.9C634.9 453.6 634.9 452 635.8 451.1C636.6 450.3 638.7 449.9 640.1 449.9C641.6 449.9 643.2 450.6 644.5 451.1C645.8 451.6 647.6 452.3 647.6 453C647.6 453.7 645.8 454.8 644.5 455.5C643.2 456.2 641.4 456.9 640.1 457.4C638.9 457.9 637.8 459 637 458.6C636.2 458.2 635.3 456.1 635.1 454.9Z"/>
<path fill="#f58505" d="M612.6 488C613 487 615.4 485.8 617 484.9C618.6 483.9 620.4 483.3 622 482.4C623.6 481.4 624.9 480.4 626.4 479.2C627.8 478.1 629.4 476.8 630.8 475.5C632.1 474.2 633.4 472.6 634.5 471.8C635.6 470.9 637 469.5 637.6 470.5C638.2 471.5 638.2 475.1 638.2 478C638.3 480.9 638.2 484.9 638 488C637.8 491.1 637.7 494.8 637 496.8C636.3 498.7 635.1 499.8 633.9 499.9C632.6 500 631.1 498.2 629.5 497.4C627.9 496.5 626.3 495.7 624.5 494.9C622.7 494 620.5 493 618.9 492.4C617.2 491.8 615.5 491.9 614.5 491.1C613.5 490.4 612.2 489 612.6 488Z"/>
<path fill="#f58505" d="M660.1 495.5C660.1 494.4 660.2 493 661.4 492.4C662.5 491.7 665.3 491.4 667 491.5C668.7 491.6 670.5 492 671.4 493C672.2 494 672.3 496.1 672 497.4C671.7 498.6 670.6 499.8 669.5 500.5C668.4 501.2 666.5 501.7 665.1 501.5C663.8 501.3 662.2 500.2 661.4 499.2C660.5 498.2 660.1 496.6 660.1 495.5Z"/>
<path fill="#f58505" d="M690.8 439.2C690.5 437.2 691 435.4 692 434.2C693 433.1 695.3 432.5 697 432.4C698.7 432.3 701 432.3 702 433.6C703 435 702.9 437.9 703 440.5C703.1 443.1 703 446.9 702.6 449.2C702.2 451.6 701.7 453.6 700.8 454.9C699.8 456.2 698.1 457.1 697 457C695.9 456.9 694.5 456 693.9 454.2C693.2 452.5 693.8 449.2 693.2 446.8C692.7 444.2 691 441.3 690.8 439.2Z"/>
<path fill="#f58505" d="M713.9 430.5C714.1 429.8 716 428.3 717 428C718 427.7 719.5 427.9 720 428.6C720.5 429.4 720.7 431.8 720 432.4C719.3 433 716.8 432.7 715.8 432.4C714.7 432.1 713.7 431.2 713.9 430.5Z"/>
<path fill="#f58505" d="M755 255C755.1 252.9 756 248.4 756.9 246.2C757.7 244.1 758.4 242.9 760 241.9C761.6 240.8 764.2 240 766.2 240C768.3 240 770.6 240.8 772.5 241.9C774.4 242.9 776.1 244.9 777.5 246.2C778.9 247.6 780 248.5 780.6 250C781.2 251.5 781.6 253.1 781.2 255C780.9 256.9 779.8 259.2 778.8 261.2C777.7 263.3 776.2 265.6 775 267.5C773.8 269.4 772.7 271.1 771.2 272.5C769.8 273.9 767.8 275.2 766.2 275.6C764.7 276 762.9 275.9 761.9 275C760.8 274.1 760.3 272.1 760 270C759.7 267.9 760.6 264.4 760 262.5C759.4 260.6 757.1 260 756.2 258.8C755.4 257.5 754.9 257.1 755 255Z"/>
<path fill="#f58505" d="M682.8 97.9C682.6 96.7 683.2 94.5 684 93.8C684.8 93 686.3 92.8 687.4 93.5C688.4 94.2 690 96.6 690.2 97.9C690.5 99.1 689.5 100.5 688.6 101C687.7 101.5 685.9 101.3 684.9 100.8C683.9 100.2 682.9 99 682.8 97.9Z"/>
<path fill="#f58505" d="M919.8 146.6C919.8 145.2 919.1 145.1 921 144.8C922.9 144.4 931 144.5 931 144.5L931 151.2L924 151.9C924 151.9 924.4 156.8 924 157.9C923.6 158.9 922 159 921.4 158.2C920.8 157.5 920.8 155.4 920.5 153.5C920.2 151.6 919.7 148.1 919.8 146.6Z"/>
<path fill="#ffb45f" d="M447.8 226.9C448.4 226 451.9 224.7 454 224.4C456.1 224.1 458.2 224.7 460.2 225C462.3 225.3 464.2 225.9 466.5 226.2C468.8 226.6 471.9 226.5 474 226.9C476.1 227.3 477.9 228 479 228.8C480.1 229.5 481.1 230.6 480.9 231.2C480.7 231.9 479.3 232.6 477.8 232.8C476.2 232.9 473.8 232.4 471.5 232.2C469.2 232.1 466.5 232.2 464 231.9C461.5 231.5 458.8 230.4 456.5 230C454.2 229.6 451.7 229.9 450.2 229.4C448.8 228.9 447.1 227.7 447.8 226.9Z"/>
<path fill="#f5e105" d="M462.8 230C463.2 229.5 466.9 228.8 469 228.8C471.1 228.7 473.7 229.3 475.2 229.8C476.8 230.2 478.6 230.8 478.4 231.2C478.2 231.7 476 232.1 474 232.2C472 232.4 468.4 232.2 466.5 231.9C464.6 231.5 462.3 230.5 462.8 230Z"/>
<path fill="#ff1e00" d="M395 236.2C395.2 235.4 396.4 234.1 397.5 234C398.6 233.9 400.5 234.8 401.9 235.6C403.2 236.4 404.9 237.7 405.6 238.8C406.4 239.8 406.7 241 406.2 241.9C405.8 242.7 404.3 243.8 403.1 243.8C402 243.8 400.5 242.6 399.4 241.9C398.2 241.1 397 240.3 396.2 239.4C395.5 238.4 394.8 237.1 395 236.2Z"/>
<path fill="#ff1e00" d="M420.9 226.9C420.4 225.8 421.3 225 422.1 224.4C423 223.8 424.1 223.2 425.9 223.4C427.6 223.5 430.1 224.8 432.8 225.4C435.4 226 439 226.2 441.5 226.9C444 227.5 445.7 228.6 447.8 229.4C449.8 230.1 451.5 230.7 454 231.2C456.5 231.8 459.8 232.4 462.8 232.8C465.7 233.1 468.8 233.1 471.5 233.1C474.2 233.1 477.2 233.2 479 232.8C480.8 232.3 481.9 231.5 482.1 230.6C482.3 229.8 481.4 228.4 480.2 227.5C479.1 226.6 476.9 225.7 475.2 225C473.6 224.3 470 223.6 470.2 223.1C470.5 222.7 474.2 222.2 476.5 222.2C478.8 222.3 481.7 222.8 484 223.5C486.3 224.2 488.5 225 490.2 226.2C492 227.5 493.3 229.4 494.6 231.2C496 233.1 497.5 235.6 498.4 237.5C499.2 239.4 499.5 240.8 499.6 242.5C499.7 244.2 499.5 246 499 247.5C498.5 249 497.8 250.4 496.5 251.2C495.2 252.1 493.6 252.4 491.5 252.5C489.4 252.6 486.5 251.8 484 251.9C481.5 252 479 252.9 476.5 253.1C474 253.3 471.3 253.6 469 253.1C466.7 252.6 465 251.1 462.8 250C460.5 248.9 457.8 247.5 455.2 246.2C452.8 245 450.2 243.8 447.8 242.5C445.2 241.2 442.8 240 440.2 238.8C437.8 237.5 435.2 236.4 432.8 235C430.2 233.6 427.2 232 425.2 230.6C423.3 229.3 421.4 227.9 420.9 226.9Z"/>
<path fill="#ff1e00" d="M458.4 223.1C458.8 222.8 460.5 222.5 461.5 222.5C462.5 222.5 464.4 222.9 464.6 223.2C464.8 223.6 463.7 224.3 462.8 224.5C461.8 224.7 459.7 224.6 459 224.4C458.3 224.1 458 223.4 458.4 223.1Z"/>
<path fill="#ff1e00" d="M484.6 258.8C485.6 257.3 489.5 254.6 491.5 254.4C493.5 254.2 494.6 256.1 496.5 257.5C498.4 258.9 501.1 261.2 502.8 262.5C504.4 263.8 507.1 264.5 506.5 265C505.9 265.5 501.5 265.6 499 265.6C496.5 265.6 493.7 265.4 491.5 265C489.3 264.6 487 264.2 485.9 263.1C484.7 262.1 483.7 260.2 484.6 258.8Z"/>
<path fill="#ff1e00" d="M518.4 263.8C518.6 262.5 521.2 260.8 522.8 260.6C524.3 260.4 526.6 261.4 527.8 262.5C528.9 263.6 529.8 266.4 529.6 267.5C529.4 268.6 527.9 269.3 526.5 269.4C525.1 269.5 522.9 269.1 521.5 268.1C520.1 267.2 518.2 265 518.4 263.8Z"/>
<path fill="#ff1e00" d="M522.2 137.9C522.2 137.4 522.6 136.6 522.8 136.6C522.9 136.7 523.2 137.8 523.2 138.2C523.2 138.7 522.9 139.6 522.8 139.5C522.6 139.4 522.2 138.4 522.2 137.9Z"/>
<path fill="#ff1e00" d="M605.5 142.2C605.5 141.3 606.5 139.8 607.2 139.1C608 138.4 608.9 137.9 609.8 138C610.6 138.1 611.7 139.2 612.5 140C613.3 140.8 614.4 141.6 614.5 142.5C614.6 143.4 613.9 144.8 613.1 145.4C612.3 146 610.8 146.3 609.8 146.2C608.7 146.2 607.7 145.7 607 145C606.3 144.3 605.5 143.2 605.5 142.2Z"/>
<path fill="#ff1e00" d="M619.5 488C619.4 486.9 621.9 485.7 623.2 484.2C624.6 482.8 626.2 480.4 627.6 479.2C629.1 478.1 631 477.6 632 477.4C633 477.2 633.7 476.6 633.9 478C634.1 479.4 633.2 482.8 633.2 485.5C633.2 488.2 634 492.3 633.9 494.2C633.8 496.2 633.5 497.4 632.6 497.4C631.8 497.4 630.3 495.3 628.9 494.2C627.4 493.2 625.4 492.2 623.9 491.1C622.3 490.1 619.6 489.1 619.5 488Z"/>
<path fill="#ff1e00" d="M694.8 440.5C694.8 439.5 695.1 437.7 695.8 436.8C696.4 435.8 698.1 434.9 698.9 434.9C699.6 434.9 700.1 435.8 700.1 436.8C700.1 437.7 699.4 439.5 698.9 440.8C698.4 442 697.6 443.6 697 444C696.4 444.4 695.6 443.6 695.2 443C694.9 442.4 694.7 441.5 694.8 440.5Z"/>
<path fill="#ff1e00" d="M716 430.5C716 430.2 716.7 429.5 717 429.5C717.3 429.5 718 430.2 718 430.5C718 430.8 717.3 431.5 717 431.5C716.7 431.5 716 430.8 716 430.5Z"/>
<path fill="#ff1e00" d="M764.4 257.5L766.2 250.6L769.4 253.8L774.4 256.9L771.2 258.5L766.9 258.8Z"/>
<path fill="#ff1e00" d="M683 97.5C682.9 96.6 683.8 95 684.5 94.5C685.2 94 686.5 93.8 687.4 94.2C688.2 94.8 689.4 96.5 689.5 97.5C689.6 98.5 688.8 99.8 688 100.2C687.2 100.7 685.7 100.5 684.9 100C684 99.5 683.1 98.4 683 97.5Z"/>
<path fill="#ff1e00" d="M921 146.2L931 145.8L931 148.5L923.2 148.8L923 157L921.4 157Z"/>
<path fill="#dc0000" d="M398.1 237.5C398.1 236.8 399.2 236.1 400 236.2C400.8 236.4 402.4 237.4 403.1 238.1C403.9 238.9 404.5 239.9 404.4 240.6C404.3 241.3 403.2 242.2 402.5 242.2C401.8 242.2 400.7 241.4 400 240.6C399.3 239.8 398.1 238.2 398.1 237.5Z"/>
<path fill="#dc0000" d="M421.5 226.9C420.9 226.1 422 225.4 422.8 225C423.5 224.6 424.2 224.1 425.9 224.4C427.5 224.6 430.1 225.8 432.8 226.5C435.4 227.2 439 227.8 441.5 228.5C444 229.2 445.7 230.3 447.8 231C449.8 231.7 451.5 232.2 454 232.8C456.5 233.2 459.8 233.8 462.8 234C465.7 234.2 468.6 234.1 471.5 234C474.4 233.9 478.2 234 480.2 233.5C482.3 233 483.7 232.1 484 231.2C484.3 230.4 483.2 229.1 482.1 228.1C481.1 227.2 479.1 226.3 477.8 225.6C476.4 224.9 473.8 224.4 474 224C474.2 223.6 477.1 223.4 479 223.5C480.9 223.6 483.4 224 485.2 224.8C487.1 225.5 488.9 226.8 490.2 228.1C491.6 229.4 492.3 230.8 493.4 232.5C494.4 234.2 495.8 236.4 496.5 238.1C497.2 239.9 497.8 241.6 497.8 243.1C497.8 244.7 497.3 246.5 496.5 247.5C495.7 248.5 494.6 249.1 492.8 249.4C490.9 249.7 487.8 249.2 485.2 249.4C482.8 249.6 480.2 250.4 477.8 250.6C475.2 250.9 472.5 251.4 470.2 251C468 250.6 466.3 249.2 464 248.1C461.7 247 459 245.6 456.5 244.4C454 243.1 451.5 241.8 449 240.6C446.5 239.4 444 238.4 441.5 237.2C439 236.1 436.5 234.8 434 233.5C431.5 232.2 428.6 230.9 426.5 229.8C424.4 228.6 422.1 227.7 421.5 226.9Z"/>
<path fill="#dc0000" d="M625.1 489C625.1 488.6 626 487.8 626.4 487.8C626.8 487.8 627.6 488.6 627.6 489C627.6 489.4 626.8 490.2 626.4 490.2C626 490.2 625.1 489.4 625.1 489Z"/>
<path fill="#be4b96" d="M422.8 227.5C422.2 226.9 423.8 226.2 424.6 226C425.5 225.8 426.2 226 427.8 226.5C429.3 227 431.7 228.2 434 229C436.3 229.8 439 230.5 441.5 231.2C444 232 446.5 232.9 449 233.5C451.5 234.1 454 234.9 456.5 235C459 235.1 461.5 234.6 464 234.4C466.5 234.2 469 234 471.5 233.8C474 233.5 476.5 233.4 479 233.1C481.5 232.8 484.4 231.9 486.5 231.9C488.6 231.9 490.1 232.2 491.5 233.1C492.9 234.1 493.8 236 494.6 237.5C495.5 239 496.6 240.6 496.5 241.9C496.4 243.1 495.2 244.4 494 245C492.8 245.6 491.1 245.4 489 245.6C486.9 245.8 484 245.8 481.5 246.2C479 246.7 476.1 247.7 474 248.1C471.9 248.6 470.7 249.2 469 249C467.3 248.8 465.9 247.9 464 246.9C462.1 245.9 460 244.3 457.8 243.1C455.5 241.9 452.8 240.9 450.2 239.8C447.8 238.6 445.2 237.4 442.8 236.2C440.2 235.1 437.8 233.9 435.2 232.8C432.8 231.6 429.8 230.2 427.8 229.4C425.7 228.5 423.3 228.1 422.8 227.5Z"/>
<path fill="#a0006e" d="M455.9 237.5C455.9 236.7 457.4 235.5 459 235.2C460.6 235 463.2 236.1 465.2 236.2C467.3 236.4 469.2 236.5 471.5 236.2C473.8 236 476.7 235.2 479 235C481.3 234.8 483.5 234.4 485.2 234.8C487 235.1 488.8 236 489.6 236.9C490.5 237.8 490.6 239.2 490.2 240C489.9 240.8 489.2 241.6 487.8 241.9C486.3 242.2 483.6 241.8 481.5 241.9C479.4 242 477.1 242.3 475.2 242.5C473.4 242.7 472.1 243.2 470.2 243.1C468.4 243 465.9 242.4 464 241.9C462.1 241.4 460.4 241 459 240.2C457.6 239.5 455.9 238.3 455.9 237.5Z"/>
<path fill="#a0006e" d="M606 142.2C606 141.5 606.8 140.3 607.5 139.8C608.2 139.2 609.2 138.6 610 138.8C610.8 138.9 611.8 140.1 612.5 140.8C613.2 141.4 614 141.8 614 142.5C614 143.2 613.2 144.2 612.5 144.8C611.8 145.2 610.4 145.5 609.5 145.5C608.6 145.5 607.8 145 607.2 144.5C606.7 144 606 143 606 142.2Z"/>
<path fill="#a0006e" d="M684 97.5C684 96.9 684.7 95.8 685.2 95.5C685.8 95.2 686.8 95.4 687.4 95.8C687.9 96.1 688.6 97.2 688.6 97.9C688.6 98.5 687.9 99.3 687.4 99.5C686.8 99.7 685.8 99.6 685.2 99.2C684.7 98.9 684 98.1 684 97.5Z"/>
<path fill="#000000" d="M606.5 142.2C606.6 141.7 607.4 141 608.1 140.6C608.8 140.3 609.9 140 610.6 140.2C611.4 140.5 612.5 141.4 612.8 142C613 142.6 612.4 143.6 611.9 144C611.3 144.4 610.1 144.5 609.4 144.5C608.6 144.5 607.7 144.1 607.2 143.8C606.8 143.4 606.4 142.8 606.5 142.2Z"/>
<path fill="#000000" d="M685.2 97.5C685.2 97.1 685.9 96.5 686.2 96.5C686.6 96.5 687.2 97.4 687.2 97.8C687.2 98.1 686.6 98.8 686.2 98.8C685.9 98.7 685.2 97.9 685.2 97.5Z"/>
</g>
<g class="b">
<path d="M157 187.1L159.8 186.2L163.5 187.5L167.2 187.2L171 186.5L174.8 187L177.9 188.8L182.2 189.8L186 190.6L189.8 190L193.5 189.4L197.2 190L201.6 190.2L204.1 188.1L207.9 187.5L211.6 186.5L213.8 188.1L213.5 190.6L211.6 191.9L211 194.4L207.2 195L204.1 194.4L202.9 196.5L199.1 196.2L196 194.4L192.2 193.8L188.5 193.1L183.5 193.1L178.5 191.9L174.8 191.9L171 192.2L167.2 192.8L163.5 193.1L159.8 194.4L157.2 195.6L157 198.8"/>
<path d="M284 183.5L272.2 183.5L262.6 179.1L253.2 208.8L254.1 211L257.2 211.9L257.5 215.6L255.4 217.8L252.2 215.2L248.5 216.9L245.4 213.5L236 216.9L226 219.4L222.9 220.6L222 222.2L224.1 223.5L228.5 223.8L230 225L228.2 226.2L228.5 235L231 242.5L233.8 250L233.5 253.1L229.8 254.4L228.2 256.2L230.8 257.2L227.2 259.4L225.4 263.1L227 267.5L226.6 271.9L222.2 272.5L218.5 275L212.2 277.8"/>
<path d="M212.2 277.8L203.5 282.8L199.8 289L196 288.4L192.2 290L183.5 289.4L181.6 292.8L179.8 297.8L177.9 300.2L174.8 299.6L171.6 300.9L168.5 301.2L167.2 296.5L164.8 296.5L161 299L157 299.6"/>
<path d="M157.2 330.9L158.2 334L157.9 339L158.5 342"/>
<path d="M157.2 330.5L158.5 338L159.8 344.2L161.6 348.6L159.8 352.4L157.9 354.9L161.6 356.1L166 359.2L170.4 361.1L172.2 364.9L171.6 369.9L174.8 373.6L179.1 373.6L181 376.1L187.2 378.6L192.9 380.2L198.5 378.6L204.8 374.9L209.8 372.4L215.4 371.8L218.5 374.9L221 377.4L224.1 379.2L226.6 378.6L227.2 380.5L233.5 382.4L238.5 381.5L244.8 383.2L248.5 381.8L252.9 377.4L256 375.9L258.5 378L260.4 376.8L262.2 379.9L268.5 381.5L277.2 381.1L281 378.6L284 377.4"/>
<path d="M227.2 380.5L226 386.8L224.1 390.5L220.4 394.9L217.9 396.8L217.2 401.1L214.1 402.8L209.8 403.2L211 407.4L209.5 409.9L211.6 414.2L215.4 415.5L216 419.2L217.9 423L216 424.9L211.6 426.8L209.8 428L207.2 423.2L203.5 424.9L204.8 429.2L207.2 431.8L207.9 438L209.1 443L211 441.8L214.8 446.1L218.5 448.6L222.2 449.9L226 454.2L229.8 456"/>
<path d="M229.8 456L234.8 458.5L238.5 462.2L242.2 456.6L246 457.2L249.8 457.9L252.9 461.6L258.5 466L264.8 469.8L269.1 474.8L273.5 473.2L276.6 474.8L277.2 479.1L281 481L284 482.9"/>
<path d="M284 617.1L279.8 622.8L274.8 627.8L269.1 630.9L264.8 635.2L259.8 638.4L254.8 642.1L252.9 645.2L253.5 649L248.5 652.1L242.2 653.4L238.5 655.9L236 660.9L232.9 661.5L230.4 659.6L226.6 662.1L224.8 666.5L224.1 674L226 680.2L226.6 686.5L227.9 692.8L226 700.2L222.9 706.5L221 712"/>
<path d="M157 697.1L158.5 702.8L161 709L163.5 712"/>
<path d="M157 695L158.5 702.5L161.6 708.8L166 713.8L169.8 720L172.9 727.5L175.4 735L177.2 742.5L178.5 748.1"/>
<path d="M227.9 690L227.5 695L226 701.2L222.9 706.2L221 711.2L220.4 717.5L221.6 722.5L221.6 731.9L215.4 732.5L212.9 736.2L211 740L209.8 743.8L212.9 745.6L215.4 746.9L211 746.5L206 747.2L202.9 748.2"/>
<path d="M219.1 742.5L221.6 739.4L225.4 738.1L228.5 740L231.6 743.8L234.8 748.1"/>
<path d="M221 741.9L224.1 740L226.6 741.9L227.9 743.8L224.8 743.8L224.1 746.2"/>
<path d="M233.8 250L233.1 251.9L230.6 253.1L228.8 255.6L229.4 258.1L226.2 260L225.6 262.5L226.9 265L227.5 268.8L226.2 271.9L223.1 272.8L220 274.4"/>
<path d="M253.8 376.9L257.5 376.2L261.2 378"/>
<path d="M282.5 378L290 375.6L297.5 375L302.5 370L310 366.9L320 365L330 364L337.5 365.6L345 368.1L343.1 371.9L348 373.8"/>
<path d="M345 368.1L348 370.6"/>
<path d="M284 183.5L284.8 186.6L285.5 186L290.2 182.2L294 182.2L296.5 179.1L295.9 174.8L294.6 168.5L294.6 163.5L296.5 157.9L297.8 156.6L302.8 156.2L307.8 154.1L310.2 149.8L309.6 146L311.5 143.2L315.2 142.5L317.8 143.5L323.4 141.2L324 144.1L322.1 147.2L326.5 151L325.9 153.5L331.5 157L334 160.4L339 164.1L340 165.4L342.1 163.8L345.2 163.5L347.8 167L350.9 166.6L355.2 171L357.8 178.5L363.4 185.4L364.6 189.8L362.8 197.2L363.8 200.4L361.5 204.8L359.6 209.8L361.5 214"/>
<path d="M284 377.4L287.8 375.5L291.5 375.2L294.6 377L299 374.9L303.4 369.2L309 367L316.5 365.2L325.2 364.5L330.9 364L335.2 366.1L340.2 367.4L345.2 369.9L351.5 368.2L354 369.2L360.2 370.5L364.6 370.5L365.2 366.8L364 363L360.9 361.8L360.5 358L363.4 356.1L367.8 354.5L365.9 349.9L362.8 346.8L357.8 343.6L355.9 339.2L354 334.2L352.1 333L359 329.2L364 328"/>
<path d="M345.2 369.9L343.4 371.8L346.5 373.6L347.8 376.1L346.5 379.9L344.2 383L345.2 388L348.4 389.9L348.8 398L346.5 402L349 405.5L352.1 409.2L355.2 413L360.9 416.1L364 414.2L367.5 413.2L371.5 417.4L376.5 420.8L384 422L390.2 423L395.9 425.2L398.4 424.5L402.1 426.8L405.9 425.2L409.6 423.6L412 424.9"/>
<path d="M284 482.9L288.4 482.2L289.6 486.6L294 487.2L297.8 490.4L300.2 492.9L302.1 490.4L304.6 492.2L308.4 490.4L312.8 492.9L317.8 494.1L322.8 494.1L327.8 492.2L332.1 491L334.6 490.4L336.5 493.5L335.9 499.8L337.8 502.2L339 497.9L342.1 492.9L345.9 489.8L350.2 487.2L354 487.9L356.5 489.8L361.5 491L365.2 492.9L369 491.6L372.8 495.4L377.1 495.8L382.8 494.1L386.5 491L390.2 487.2L392.8 483.5L397.1 482.2L401.5 479.8L404 476.6L407.8 474.1L412 473.5"/>
<path d="M313.4 583.5L319 582.2L324 579.1L327.1 574.1L327.8 577.9L329.6 581L332.8 577.9L334.6 581.6L337.8 578.5L340.2 581L342.8 577.2L345.2 579.8L347.8 576L350.9 577.9L352.8 574.1L355.2 576L357.8 571L360.2 574.1L361.5 568.5L364 572.2L365.2 567.2L367.1 570.4L369.6 566.6L371.5 568.5L373.4 572.2L374.6 577.2L375.9 584"/>
<path d="M284 617.1L287.8 612.8L292.8 609L297.8 606.5L302.8 605.2L307.1 602.1L310.2 599L309.6 597.1L313.4 594L312.1 590.9L310.9 588.4L313.4 584"/>
<path d="M375.9 584L377.8 588.4L380.9 592.8L384 596.5L387.8 601.5L390.2 597.1L390.9 602.8L394 602.8L395.9 607.1L398.4 605.9L399 609.6L402.1 612.1L402.8 616.5L399.6 619.6L396.5 620.2L398.4 622.1L400.9 618.4L404 619L406.5 624L408.4 629L409.6 635.2L409 640.2L407.8 645.2L405.9 650.2L404.6 655.9L405.9 659L408.4 655.2L410.2 658.4L412 659.6"/>
<path d="M385.9 712L385.2 704L387.1 696.5L389.6 689.6L390.2 694L389 700.2L389.6 705.9L390.2 712"/>
<path d="M386.8 709L387.8 702.8L388.8 696.5"/>
<path d="M391.6 684L392.1 683.5L392.6 684L392.1 684.5Z"/>
<path d="M394.1 682.8L394.6 682.2L395.1 682.8L394.6 683.2Z"/>
<path d="M405.4 691.5L405.9 691L406.4 691.5L405.9 692Z"/>
<path d="M399.8 707.1L400.2 706.6L400.8 707.1L400.2 707.6Z"/>
<path d="M397.9 672.5L398.4 672L398.9 672.5L398.4 673Z"/>
<path d="M379.8 591.5L380.2 591L380.8 591.5L380.2 592Z"/>
<path d="M383.5 594.6L384 594.1L384.5 594.6L384 595.1Z"/>
<path d="M389.8 605.2L390.2 604.8L390.8 605.2L390.2 605.8Z"/>
<path d="M396.6 612.8L397.1 612.2L397.6 612.8L397.1 613.2Z"/>
<path d="M399.8 614.6L400.2 614.1L400.8 614.6L400.2 615.1Z"/>
<path d="M363.8 200L361.9 203.8L359.4 208.8L360.6 213.1L363.1 216.2L371.2 218.1L381.2 219.4L395 219.8L396.2 220"/>
<path d="M396.2 220L402.5 225L404 226.2"/>
<path d="M404 285.6L400 291.2L396.2 296.2L393.8 298.8L388.8 298.8L388.1 303.8L386.2 308.8L387.5 313.8L388.5 320L381.2 322.5L372.5 325L365 328"/>
<path d="M388.5 320L396.2 318.1L404 318.1"/>
<path d="M389.2 690L388 697.5L385.5 705L386.8 710L384.2 717.5"/>
<path d="M387.5 692.5L386 700L385 707.5"/>
<path d="M381 727.5L382.5 726L384 727.5L382.5 729.5Z"/>
<path d="M455.5 690L459.2 697.5L461.8 705L463.5 712.5L463 722.5L461.8 732.5L459.2 740L456.8 748"/>
<path d="M458 700L460 708.8L461 717.5"/>
<path d="M478 693.8L480.5 691.2L490.5 691.2L491 700L498 701.2L504.2 703.8L508 707.5L513 713.8L516.8 718.8L519.2 726.2L523 722.5L526.8 727.5L533 731.2L540.5 735L543 737.5L540.5 741.2L541 748"/>
<path d="M478 693.8L479.2 701.2L475.5 711.2L473 717.5L470.5 727.5L468.5 737.5L470 745L476.8 746.2L477.5 748"/>
<path d="M478 738.8L479.2 741.2L478 743.8"/>
<path d="M598 690L599.2 700L596.8 708.8L594.2 715L588 720L580.5 725L573 728.8L565.5 730L560.5 733.8L556.8 737.5L561.8 740L555.5 741.2L548 746.2L545.5 748"/>
<path d="M553 736.2L558 742.5"/>
<path d="M558 733.8L561.8 738.8"/>
<path d="M561.8 731.2L565.5 735"/>
<path d="M451.2 699.2L452.2 700.8"/>
<path d="M453.8 706.8L454.8 708.2"/>
<path d="M447.5 711.8L448.5 713.2"/>
<path d="M455 714.2L456 715.8"/>
<path d="M457.5 718L458.5 719.5"/>
<path d="M452.5 724.2L453.5 725.8"/>
<path d="M455 729.2L456 730.8"/>
<path d="M453.8 735.5L454.8 737"/>
<path d="M452 743L453 744.5"/>
<path d="M385.5 746.2L386.5 747.8"/>
<path d="M508.8 710.5L509.8 712"/>
<path d="M511.2 714.2L512.2 715.8"/>
<path d="M527.5 733L528.5 734.5"/>
<path d="M529.5 735.5L530.5 737"/>
<path d="M404 226.2L410.2 230.6L415.2 233.1L419.6 232.5L420.2 236.9L423.4 241.9L426.5 248.8L430.2 255L432.8 260L429 262.5L428.4 270L427.8 274.4L422.8 275.6L415.9 276.5L410.2 280L404 285.6"/>
<path d="M432.8 260L439 259.4L444 260L454 261.2L464 262.2L474 261.9L484 261L494 261.9L501.5 263.8L504 266.9L506.5 269.4L514 271.2L521.5 274.4L529 275.6L532 275"/>
<path d="M444 260L446.5 267.5L449 272.5L450.9 278.8L448.8 281.2L451.5 286.2L455.2 289.4L458 291.9L457.5 296.9L456.5 297.5L462.8 296.2L467.8 293.1L474 291.9L479 291.2L481.5 293.1L482.1 296.9L479 301.2L475.2 305L472.1 308.1L477.8 310L484 315L489.6 317.5L490.2 321.9L494 323.1L497.8 326.2L499 328"/>
<path d="M439.6 328L440.2 321L445.2 320.6L449 323.1L452.8 325L455.9 323.8L457.8 321.9L460.2 324.4L465.2 323.5L469 326.2L470.2 328"/>
<path d="M502.8 328L504 325L502.1 321.9L507.8 320L514 320.6L521.5 317.5L527.8 315.6L530.2 320L532 323.8"/>
<path d="M404 318.1L411.5 318.8L419 321.9L426.5 326.9L428.4 328"/>
<path d="M540 88.5L532 89.8L526.4 91L528.2 93.2L533.2 95L540 95.8"/>
<path d="M428.2 328L433.2 331.1L437 333.6L440.1 334L440.8 329.9"/>
<path d="M470.8 328L474.5 332.4L479.5 334.2L480.8 332.4L485.8 336.1L492 339.9L498.2 344.2L501.4 346.8L503.9 344L505.8 348.6L507 352.4L510.1 354.9L512 358.6L514.5 363L517.6 368L516.4 372.4L513.2 374.9L512.6 378L508.9 380.5L508.2 384.2L505.1 388L501.4 391.8L503.9 393.6L506.4 396.1L504.5 399.9L501.4 401.5L498.2 399.9L494.5 398.6L491.4 397.4L488.9 398.6L489.5 401.8L493.2 406.1L497 408L499.5 410.5L501.4 414.2L503.9 414.9L507 413L510.1 410.5L508.2 406.8L506.8 403.6L510.8 400.5L515.1 398.2L518.2 400.5L519.5 405.5L523.2 407L528.9 407.4L532.6 411.1L533.9 417.4L535.8 421.8L540 423.6"/>
<path d="M528.9 328L527 329.9L522.6 332.4L521.4 335.5L522 340.5L525.8 343.6L530.1 347.4L535.1 347.8L540 346.8"/>
<path d="M501.4 414.2L498.2 415.5L493.9 416.1L493.2 419.2L494.5 422.4L489.5 423.6L487 424.2L485.5 427.4L483.9 423.6L480.8 423L478.9 419.2L477 418.2L475.8 421.1L470.8 419.9L465.8 416.8L462.6 413L461.4 408L458.9 404.9L455.1 403.4L451.4 404L448.2 403.2L445.5 405.5L446.4 409.2L449.5 411.8L447.6 415.5L445.5 420.5L446.4 424.2L448.2 425.2"/>
<path d="M412 424.9L415.8 428L419.5 431.1L420.8 435.5L423.9 437.4L428.9 437.8L430.8 439.6L430.1 435.5L432 434.5L435.1 437.8L437.6 437.4L438 433.6L442.6 431.8L444.5 428L446.4 425.5L452 426.1L455.8 429.9L458.2 434.2L459.5 438.6L462.6 441.8L464.5 443L460.8 444.2L463.2 448.6L465.1 453L465.8 456"/>
<path d="M412 474.8L417 476L423.2 473.5L428.9 471.2L432.6 473.5L430.1 477.2L433.9 477.9L435.8 481.6L432 486L437 484.8L442 486.6L445.8 488.8L447.6 484.5L452 486.6L455.1 489.8L457 486.6L460.1 490.4L462 487.9L461.4 482.9L462 478.5L465.1 479.1L466.8 474.8L466 466L465.5 456"/>
<path d="M466.8 474.8L467 481L468.2 487.2L470.8 489.5L471.4 484.1L474.5 480.4L477 483.5L480.1 487.2L479.5 491L483.9 495.4L487.6 493.5L490.1 498.5L493.2 504.8L497 511L499.5 516L503.9 520L508.2 517.9L511.4 515.4L513.2 517.2L517 515.4L517 511L515.1 506L515.8 502.2L519.5 498.5L522.6 493.5L523.2 489.8L527.6 487.9L528.2 483.5L533.9 483.5L535.1 489.8L538.2 491L540 493.5"/>
<path d="M455.1 489.8L457 497.2L462 499.1L463 506L462.6 512.2L460.8 519.1L461.4 522.9L457 526L454.5 529.8L450.8 532.9L449.5 537.2L447.6 539.1L448.2 543.5L450.1 545.4L448.2 549.1L454.5 547.9L462.6 547.2L463.2 552.2L465.1 557.2L468.2 559.8L472.6 562.2L471.4 567.2L469.5 574.1L474.5 575.4L478.2 577.9L479.5 582.2L483.2 584L487 582.2L491.4 580.4L493.9 582.2L494.5 584"/>
<path d="M499.5 584L499.5 576L501.4 571L505.8 569.8L510.8 566.6L515.8 567.9L518.2 569.8L522 566.6L524.5 567.9L527 566L530.1 567.9L533.2 565.4L537 566L540 564.1"/>
<path d="M540 501L535.8 502.2L532.6 500.4L528.9 501L525.8 504.1L526.4 508.5L527 512.9L531.4 512.2L535.1 511.6L538.2 514.8L535.8 519.8L533.9 524.8L537 528.5L540 531.6"/>
<path d="M540 533.5L537 537.2L536.4 542.2L538.9 544.1L540 542.2"/>
<path d="M412 659.6L413.9 657.8L415.8 660.2L419.5 661.5L422.6 659L423.9 655.9L427 654.6L430.8 652.1L430.1 648.4L432 650.9L435.1 649L438.2 645.9L440.1 642.1L438.9 639L441.4 642.1L443.2 646.5L446.4 651.5L448.9 650.2L448.2 654L448.9 659L450.1 665.2L450.8 671.5L452 676.5L453.9 682.8L455.8 687.8L458.2 691.5L460.1 695.2L462 699.6L462.6 704L460.1 703.4L458.9 707.1L461.4 710.2L462 712"/>
<path d="M477 712L478.9 707.8L478.2 702.8L479.5 696.5L478.2 693.4L481.4 690.9L486.4 690.2L491.4 691.5L490.8 696.5L490.1 701.5L494.5 701.5L499.5 700.9L503.9 702.8L507.6 705.9L510.8 707.8L513.9 709.6L514.5 712"/>
<path d="M494.5 584L494.5 587.1L501.4 588.4L501.8 584"/>
<path d="M450.4 679.6L451.1 680.9"/>
<path d="M451.6 685.9L452.4 687.1"/>
<path d="M456 695.9L456.8 697.1"/>
<path d="M451 700.9L451.8 702.1"/>
<path d="M452.9 705.2L453.6 706.5"/>
<path d="M454.8 708.4L455.5 709.6"/>
<path d="M457.2 703.4L458 704.6"/>
<path d="M458.5 709L459.2 710.2"/>
<path d="M508.5 707.1L509.2 708.4"/>
<path d="M511.6 708.4L512.4 709.6"/>
<path d="M660 219.4L657 221.2L652.6 224L648.2 223.8L642 221.9L635.8 218.5L630.8 218.5L627 220.6L625.1 225.6L624.2 231.2L627 236.2L630.8 238.8L631.8 241.9L629.5 243.8L624.5 246.9L619.5 249.4L615.8 255L610.8 260.6L605.8 262.5L598.2 265.2L585.8 265L573.2 265L564.5 268.1L554.5 273.8L543.2 279.4L537 278.1L536.4 275L532 275"/>
<path d="M660 281.2L655.8 281.9L657 286.2L655.1 288.1L657.6 292.5L659.5 296.2L654.5 298.8L648.2 301.2L643.2 303.8L639.5 302.5L635.8 302.5L632 307.5L629.5 312.5L625.8 313.8L623.2 315.6L621.4 314.4L619.5 315L617 316.9L613.2 318.1L610.1 316.9L608.2 316.2L607 318.8L603.2 321.9L599.5 325.6L597 328"/>
<path d="M621.4 314.4L622 318.8L619.5 323.1L618.2 326.2L619.5 328"/>
<path d="M660 302.5L657.6 303.8L657 306.2L658.9 308.1L660 308.1"/>
<path d="M652 328L655.1 323.1L657 321.2L660 321.9"/>
<path d="M553.2 328L555.8 323.1L560.1 319.4L564.5 317.5L567 320L566.4 323.8L564.8 328"/>
<path d="M556.2 87.5L555 90L547.5 92.9L540 95.4"/>
<path d="M668 211.6L665 212.2L663.8 214"/>
<path d="M552.5 328L552.2 335.5L551.2 343L546.2 345.5L540 348"/>
<path d="M563.8 328L562.5 333.6L566.2 336.8L571.2 338L576.2 342.4L581.2 344.9L586.2 344.2L590 343.6L591.2 339.2L593.8 336.8L595 333L598.8 328"/>
<path d="M576.2 342.4L572.5 345.5L571.2 350.5L571.9 354.9L577.5 358L583.8 361.8L589.4 364.9L589.4 369.2L587.5 374.2L588.1 381.8L582.5 383L578.1 383L576.9 387.4L571.2 388.6L566.9 386.1L562.5 386.8L561.9 390.5L559.4 393.6L563.8 396.1L562.5 401.8L560.6 406.1L561.9 408.6L555 409.9L551.9 413L554.4 415.5L553.8 419.2L547.5 420.5L543.8 423.6L540 423.6"/>
<path d="M571.2 353.6L563.8 354.2L562.5 359.2L560.6 362.4L561.9 365.5L566.9 368L567.2 371.8L565.6 375.5L561.9 376.1L560.6 382.4L557.5 380.5L552.5 377.4L548.1 374.2L546.2 371.8L548.1 368L548.8 365.5L545.6 358L540 353"/>
<path d="M618.8 328L616.2 333.6L613.8 339.2L615.6 345.5L613.8 353L611.9 358L612.5 365.5L613.8 373L613.1 380.5L610.6 386.8L609.4 391.8L611.2 393.6L617.5 391.8L625 389.2L632.5 386.1L633.1 383.6L640 383L648.8 383L651.9 378L653.1 370.5L653.1 365.5L650.6 360.5L653.1 355.5L656.9 349.2L658.1 344.2L656.2 339.2L652.5 334.9L652.5 328"/>
<path d="M653.1 365.5L660 368L668 369.2"/>
<path d="M611.2 393.6L612.5 399.2L616.2 405.5L619.4 411.8L622.5 418L627.5 423.6L632.5 426.8L638.8 427.4L646.2 427.4L651.2 428.6L653.1 426.8L654.4 430.5L655 434.2L658.8 436.1L663.1 435.5L665 439.2L668 441.1"/>
<path d="M619.4 414.2L613.8 415.5L607.5 415.5L600.6 414.9L602.5 416.8L606.2 418.6L608.5 421.8L606.9 424.2L601.2 424.9L600.6 429.2L601.9 435.5L601.2 438L595 434.2L587.5 429.9L582.5 431.1L577.5 429.2L571.9 426.8L568.1 423L561.2 421.8L555 420.5L547.5 420.5"/>
<path d="M587.5 429.9L585.6 433.6L588.1 436.8L583.8 442.4L581.2 445.5L580 450.5L574.4 451.1L573.1 456"/>
<path d="M601.2 438L607.5 441.1L608.8 445.5L608.1 449.9L603.8 451.8L598.8 453L593.8 454.2L591.2 456"/>
<path d="M551.2 456L550 461L546.9 466L546.2 469.1L549.4 472.2L551.9 477.2L556.2 480.4L561.2 482.9L565 484.1L568.8 481L572.5 478.5L576.2 476L580 476.6L583.1 479.1L586.2 482.9L589.4 486.6L591.2 489.1L595 488.5L596.2 482.9L596.9 477.2L593.8 473.5L590 469.8L586.2 466L588.1 462.2L586.9 456"/>
<path d="M596.9 477.2L598.8 472.9L601.2 469.1L606.2 466.6L611.2 466L613.8 462.9L617.5 461.6L621.2 462.9L627.5 464.8L632.5 466.6L637.5 468.5L642.5 466.6L645 469.1L648.8 467.9L651.2 466L653.8 469.8L653.1 473.5L655 476L658.1 477.2L659.4 481L660.6 486L657.5 489.8L655 493.5L653.1 497.9L651.9 500.4L655 503.5L655.6 508.5L658.1 512.9L658.8 517.2L657.5 521L656.9 526L656.2 529.8L660 529.8L664.4 529.8L666.5 532.9L663.1 536L660 539.8L663.8 541.6L668 541"/>
<path d="M658.1 477.2L661.2 473.5L665 471.6L668 471"/>
<path d="M596.2 489.1L596.2 496L599.4 497.9L595 501L591.2 504.8L595 506L599.4 505.4L600.6 509.1L598.1 511L598.1 516L600 518.5L598.8 521L602.5 521.6L607.5 518.5L612.5 516.6L617.5 516L621.2 517.2L623.1 521L623.8 524.8L621.2 529.1L619.4 532.9L618.8 535.4L623.1 536L625 539.1L628.8 538.5L632.5 537.9L634.4 534.1L638.8 532.2L641.9 536L645 531.6L647.5 528.5L651.9 529.1L656.2 529.8"/>
<path d="M598.8 521L595 524.1L591.2 525.4L589.4 527.9L586.2 527.2L583.1 529.8L580 532.2L576.2 531.6L573.1 529.8L570.6 527.2L567.5 529.8L565 533.5L560 536L556.9 538.5L551.9 537.9L547.5 536L543.8 535.4L540 538.5"/>
<path d="M632.5 537.9L631.9 543.5L630 548.5L626.2 553.5L623.8 557.2L623.1 562.2L620 566L615 569.1L613.8 573.5L610 576L607.5 579.1L603.8 581L601.2 584"/>
<path d="M540 550.4L545 549.1L550 548.5L555 547.9L557.5 551L556.2 554.8L552.5 557.2L549.4 558.5L551.2 562.2L556.2 564.1L561.2 564.8L565 566L564.4 569.8L563.1 573.5L565 577.2L570 580.4L576.2 582.2L582.5 582.9L586.2 581L588.1 579.1L590 581L593.1 581.6"/>
<path d="M540 559.8L545 559.1L549.4 558.5"/>
<path d="M620 583.5L627.5 581.6L632.5 579.8L637.5 580.4L641.9 577.9L645 576L646.2 571.6L648.8 574.8L650.6 568.5L650 562.2L651.9 566L653.8 569.8L656.2 568.5L660 569.8L663.8 567.9L668 565.4"/>
<path d="M652.6 572.9L653.1 572.4L653.6 572.9L653.1 573.4Z"/>
<path d="M655.8 571.6L656.2 571.1L656.8 571.6L656.2 572.1Z"/>
<path d="M658.2 573.5L658.8 573L659.2 573.5L658.8 574Z"/>
<path d="M660.1 571.6L660.6 571.1L661.1 571.6L660.6 572.1Z"/>
<path d="M662.6 570.4L663.1 569.9L663.6 570.4L663.1 570.9Z"/>
<path d="M664.5 568.5L665 568L665.5 568.5L665 569Z"/>
<path d="M653.9 577.2L654.4 576.8L654.9 577.2L654.4 577.8Z"/>
<path d="M638.2 581L638.8 580.5L639.2 581L638.8 581.5Z"/>
<path d="M644.5 579.1L645 578.6L645.5 579.1L645 579.6Z"/>
<path d="M580.6 584.6L576.2 586.5L573.8 590.2L570 591.5L566.9 592.8L563.8 591.5L563.1 595.2L562.5 600.2L558.8 602.8L555 605.9L553.1 610.2L551.9 614.6L550.6 617.8L552.5 621.5L556.2 625.9L560.6 629.6L561.9 634L564.4 638.4L568.8 642.8L572.5 647.1L576.9 650.9L580.6 654L584.4 657.1L587.5 661.5L590.6 665.2L592.5 669L593.8 674L595.6 679L596.9 684L597.5 690.2L598.1 696.5L599.4 700.2L598.1 704L596.9 707.8L596.9 712"/>
<path d="M605 584L602.5 587.8L602.5 592.8L604.4 596.5L606.2 599.6L610 600.2L613.8 598.4L612.5 595.2L610 593.4L609.4 590.2L611.9 587.8L615 585.9L620 584.6L623.8 584"/>
<path d="M589.4 614L592.5 610.9L596.2 607.1L600 605.2L605 604L610.6 603L615 602.8L618.8 604.6L619.6 608.4L617.5 611.5L615 615.2L613.1 620.2L609.4 622.8L606.2 625.9L601.9 628.4L597.5 627.1L593.1 625.9L590 623.4L589 618.4Z"/>
<path d="M577 602.5L577.5 602L578 602.5L577.5 603Z"/>
<path d="M595.1 589.6L595.6 589.1L596.1 589.6L595.6 590.1Z"/>
<path d="M572 642.1L572.5 641.6L573 642.1L572.5 642.6Z"/>
<path d="M594.8 665.9L595.2 665.4L595.8 665.9L595.2 666.4Z"/>
<path d="M587 658.4L587.5 657.9L588 658.4L587.5 658.9Z"/>
<path d="M554.5 620.5L555 620L555.5 620.5L555 621Z"/>
<path d="M565.1 590.9L565.6 590.4L566.1 590.9L565.6 591.4Z"/>
<path d="M568.2 593.4L568.8 592.9L569.2 593.4L568.8 593.9Z"/>
<path d="M573.9 588.4L574.4 587.9L574.9 588.4L574.4 588.9Z"/>
<path d="M578.2 587.1L578.8 586.6L579.2 587.1L578.8 587.6Z"/>
<path d="M660 219.4L661.9 215L665.6 211.9L671.2 212.5L677.5 212.5L682.5 208.8L685.6 205L686.9 200"/>
<path d="M660 280L660.6 275L663.8 271.2L667.5 270.6L668.8 275L669.4 278.8L672.5 279.4L676.2 276.9L680 275L683.1 276.2L686.9 273.8L691.2 271.9L693.1 270L694.4 266.2L696.9 265L701.2 263.8L703.8 262.5L707.5 263.8L709.4 268.8L711.9 271.9L712.5 275L710.6 278.1L711.9 281.2L713.8 283.8L718.8 284.4L723.8 285L726.2 281.2L728.1 279.4L731.2 278.8L734.8 277.5"/>
<path d="M723.8 285L721.2 289.4L719.4 292.5L722.5 296.2L727.5 298.8L729.4 301.2L730 305L731.9 306.2"/>
<path d="M734.8 277.5L732.5 271.2L730 268.1L726.2 266.9L724.4 270L725 275L726.2 280"/>
<path d="M734.8 277.5L737.5 273.8L742.5 270L747.5 267.5L752.5 265L758.8 261.2L763.8 258.8L767.5 259.4L772.5 258.8L777.5 256.2L780.6 253.8L781.2 250L778.1 247.5L778.8 242.5L776.9 236.2L773.8 229.4L768.8 231.2L763.8 233.1L761.9 228.8L760.6 222.5L760.6 217.5L762.5 213.8L758.8 208.8L755 206.2L756.9 201.9L760 202.5L763.8 205L767.5 206.9L770 203.8L770.6 200"/>
<path d="M778.1 247.5L783.1 247.5L785.6 250L788 251.2"/>
<path d="M785 200L785.6 205L788 208.8"/>
<path d="M715 324.4L718.8 321.2L721.2 320.6L723.8 316.2L726.2 312.5L730 308.8L732.5 306.2L737.5 302.5L741.2 298.8L745 295L748.8 291.9L753.8 291.2L758.1 290L760 293.1L763.1 295.6L763.8 298.8L761.2 302.5L758.8 306.2L756.2 308.8L753.8 312.5L751.9 314.4L753.1 316.2L756.9 316.9L756.2 319.4L753.8 321.2L755 323.1L751.9 324.4L748.8 325L749.4 327.5L755 323.8L760 320L765 316.9L770 313.8L775 311.2L780 310L785 309.4L788 308.8"/>
<path d="M686.2 291.2L690 289.4L693.1 293.1L696.2 295.6L701.2 296.2L700 300L700.6 302.5L697.5 305L693.1 306.2L694.4 311.2L691.2 313.1L688.1 314.4L684.4 313.1L680 313.8L677.5 311.2L676.9 306.2L678.1 301.2L681.2 298.1L684.4 296.9L686.9 296.2L686.2 291.2"/>
<path d="M700.6 302.5L703.1 303.1L704.4 306.2L702.5 310L703.8 313.1L707.5 315L708.1 320L706.2 323.8L703.8 328"/>
<path d="M708.1 320L712.5 323.8L715.6 324.4L716.9 321.2"/>
<path d="M691.2 313.1L693.1 317.5L694.4 322.5L693.8 328"/>
<path d="M660 296.2L662.5 298.8L663.1 301.2L660 303.8"/>
<path d="M660 308.8L662.5 312.5L664.4 315L663.1 318.8L660 321.9"/>
<path d="M739.9 87.5L735.5 91L731.8 99.8L727.4 108.5L723.6 115.4L723 118.5L725.5 118.8L724.9 123.5L721.8 125.4L716.8 126.2L711.8 129.8L708 132.9L704.2 134.1L700.5 133.2L696.1 131.6L692.4 129.1L690.8 128.5L689.9 132.2L684.2 147.2L680.5 153.5L679.9 158.5L677.4 161L677 164.1L679.9 167.9L682.4 170L686.8 166.6L691.8 166L696.1 167.2L700.5 170.8L704.2 166L708 163.5L711.8 163.5L718 166.6L721.8 169.1L723.6 173.5L728 176.6L731.1 178.5L732 184.8L733 187.2L727.4 193.5L724.9 189.1L720.5 187L715.5 186.6L710.5 187.9L705.5 191L703 192.5L701.5 191.2L700.8 194.8L694.2 195.4L690.5 196.6L686.8 201L685.5 206L680.5 209.8L674.2 212.2L668 212.9"/>
<path d="M768.6 87.5L769.9 92.2L771.8 97.2L775.5 99.5L779.9 98.5L783 97.9L786.8 99.1L791.8 97.9L796 97.2"/>
<path d="M796 146L793 156L791.8 158.5L791.1 162.2L789.9 159.8L788.6 154.8L785.5 156L780.5 161L774.2 167.2L768 172.2L764.9 176L766.8 179.1L770.5 182.2L769.9 184.8L772.4 188.5L776.1 184.8L778 183.5L779.6 186L778.6 189.1L775.5 189.8L772.8 191.6L773 194.8L774.9 197.2L778 197.2L783.6 196.6L784.9 201L786.1 206L789.2 209.1L793 211L796 214"/>
<path d="M774.9 197.2L771.8 201L770.5 206L766.8 204.8L764.2 202.9L761.8 204.1L758 201.6L756.1 204.1L756.8 206.6L754.2 207.9L758 208.5L760.5 214"/>
<path d="M691.8 328L693 330.5L698 331.8L701.8 329.9L704.2 333L708 336.1L713.6 338L718 336.5L720.5 340.5L721.8 346.1L720.5 349.2L723.6 352.4L728 353.6L731.1 352.4L734.2 348L739.2 344.2L744.2 343L748 344.9L753 348L758 348.6L761.1 347L764.2 349.2L768 349.9L766.8 354.9L764.2 358L762.4 356.1L759.9 355.5L755.5 358.6L750.5 360.5L745.5 362.4L743 365.5L739.2 369.9L736.1 371.1L735.5 374.9L733 376.1L729.2 380.5L726.1 384.9L723.6 386.8L723 389.2L726.8 393L731.8 395.5L734.9 397.4L737.4 400.5L739.9 406.8L743 413L745.5 418L746.1 423L749.2 426.8L753 430.5L755.5 434.2L757.4 438L758 441.8L755.5 443.6"/>
<path d="M701.8 335.5L698.6 341.1L693.6 342.4L689.2 348L684.2 351.1L680.5 356.1L675.5 359.2L673 364.2L676.1 368L675.5 370.5L671.1 368.6L669.2 371.1L673 373.6L678 371.8L684.2 370.5L685.5 371.8L680.5 373.6L676.1 376.8L673 379.9L670.5 383L669.2 386.8L671.8 389.2L675.5 393L680.5 393L685.5 392.4L686.8 395.5"/>
<path d="M687.4 390.5L691.1 388L694.9 389.2L698 393L701.8 396.1L705.5 400.5L708.6 404.9L709.2 407.4L704.2 408L696.8 407.8L691.1 406.1L689.2 401.8L688 396.1Z"/>
<path d="M703 395.5L705.5 393L709.2 392.4L711.1 396.1L714.2 393L717.4 389.9L719.9 387.4L723 386.1"/>
<path d="M709.2 406.8L710.5 409.2L708 413L711.1 416.8L713 421.8L716.8 421.1L721.8 419.2L723.6 423L721.8 425.5L717.4 424.9L716.1 428L713.6 431.8L713 435.5L715.5 439.2L716.8 443L721.8 445.5L728 446.1L730.5 448L729.2 451.8L726.8 454.2L725.5 456"/>
<path d="M730.5 448L735.5 449.2L740.5 449.9L745.5 448L748 444.2L750.5 441.1L754.2 440.5"/>
<path d="M735.5 434.2L739.2 432.4L744.2 433L749.2 435.5L753 436.8L755.5 438"/>
<path d="M668 415.5L671.8 419.2L675.5 423L681.1 424.2L681.8 430.5L680.5 435.5L676.8 438L675.5 441.8L679.2 446.8L683 449.2L680.5 454.2L679.9 456"/>
<path d="M668 441.1L672.4 439.9L675.5 441.8"/>
<path d="M668 408L673 409.2L677.4 408L678.6 403L680.5 401.8L683.6 404.2L686.8 406.1L690.5 405.5"/>
<path d="M764.2 456L763.6 461L761.1 464.8L763 466.6L759.9 468.5L758 472.2L758.6 476L755.5 477.2L754.9 481L756.1 484.8L753 486L750.5 489.1L748 491L745.5 492.9L743 491.6L744.2 494.8L742.4 498.5L739.9 502.2L737.4 505.4L734.9 508.5L732.4 509.8L729.2 510.4L731.8 512.9L734.2 514.8L731.1 517.2L729.2 520.4L731.8 523.5L730.5 527.9L728 529.8L725.5 527.9L723 531L721.1 534.1L718 536L716.1 539.1L713 541L709.9 542.2L706.8 542.2L709.2 544.8L705.5 547.2L703 550.4L699.9 552.2L698 554.8L694.9 555.4L692.4 557.9L690.5 559.8L691.8 562.2L688 563.5L684.2 564.8L680.5 566L677.4 567.2L674.2 566L670.5 566L668 567.9"/>
<path d="M734.9 562.2L735.5 556L738 551L741.1 545.4L744.2 539.8L748 534.8L751.1 531.6L754.2 530.6L758 532.2L759.9 534.8L758.6 539.1L757.4 544.8L755.5 551L753 557.2L750.5 563.5L748 568.5L746.1 572.9L745.5 577.2L743.6 577.9L741.8 574.1L738.6 570.4L736.1 566.6Z"/>
<path d="M668 469.1L673 467.9L679.2 466L684.2 465.4L683 461L681.8 456"/>
<path d="M684.2 465.4L689.2 463.5L693 462.2L698 461.6"/>
<path d="M691.1 467.9L694.9 468.5L698 464.8L699.9 466L702.4 468.5L706.8 469.8L710.5 471.6L714.2 468.5L718 465.4L719.9 461L723 458.5L725.5 456"/>
<path d="M710.5 471.6L708.6 474.8L709.9 479.1L713.6 481.6L714.9 485.4L713.6 488.5L717.4 489.1L719.2 492.9L719.9 497.9L723 500.4L726.8 499.1L729.2 497.9L730.5 501L733 502.2L736.1 501L738.6 502.9"/>
<path d="M713.6 488.5L709.2 490.4L704.9 492.9L701.1 493.5L697.4 496L696.8 499.8L694.9 503.5L691.1 506.6L689.2 509.8L690.5 514.1L688 518.5L684.9 523.5L683 528.5L681.1 534.1L680.5 536.6L677.4 539.1L673.6 538.5L669.9 541L668 542.2"/>
<path d="M680.5 536.6L685.5 537.2L690.5 539.1L693.6 542.2L694.9 546.6L696.1 551L697.4 554.8"/>
<path d="M735.5 458.5L739.2 457.2L743 457.9L743.6 461"/>
<path d="M767.5 460.4L768 459.9L768.5 460.4L768 460.9Z"/>
<path d="M761.9 471.6L762.4 471.1L762.9 471.6L762.4 472.1Z"/>
<path d="M757.5 481.6L758 481.1L758.5 481.6L758 482.1Z"/>
<path d="M757.5 485.4L758 484.9L758.5 485.4L758 485.9Z"/>
<path d="M748.8 494.8L749.2 494.2L749.8 494.8L749.2 495.2Z"/>
<path d="M747.5 499.1L748 498.6L748.5 499.1L748 499.6Z"/>
<path d="M733.1 520.4L733.6 519.9L734.1 520.4L733.6 520.9Z"/>
<path d="M729.4 527.2L729.9 526.8L730.4 527.2L729.9 527.8Z"/>
<path d="M726.2 532.2L726.8 531.8L727.2 532.2L726.8 532.8Z"/>
<path d="M711.2 542.2L711.8 541.8L712.2 542.2L711.8 542.8Z"/>
<path d="M728.1 553.5L728.6 553L729.1 553.5L728.6 554Z"/>
<path d="M727.5 557.2L728 556.8L728.5 557.2L728 557.8Z"/>
<path d="M726.2 559.8L726.8 559.2L727.2 559.8L726.8 560.2Z"/>
<path d="M760 526.6L760.5 526.1L761 526.6L760.5 527.1Z"/>
<path d="M771.9 542.2L772.4 541.8L772.9 542.2L772.4 542.8Z"/>
<path d="M779.4 524.1L779.9 523.6L780.4 524.1L779.9 524.6Z"/>
<path d="M780.6 521.6L781.1 521.1L781.6 521.6L781.1 522.1Z"/>
<path d="M782.5 545.4L783 544.9L783.5 545.4L783 545.9Z"/>
<path d="M785.6 543.5L786.1 543L786.6 543.5L786.1 544Z"/>
<path d="M788.1 541.6L788.6 541.1L789.1 541.6L788.6 542.1Z"/>
<path d="M781.9 548.5L782.4 548L782.9 548.5L782.4 549Z"/>
<path d="M793.8 539.1L794.2 538.6L794.8 539.1L794.2 539.6Z"/>
<path d="M752.5 567.2L753 566.8L753.5 567.2L753 567.8Z"/>
<path d="M753.8 576L754.2 575.5L754.8 576L754.2 576.5Z"/>
<path d="M758.8 537.2L759.2 536.8L759.8 537.2L759.2 537.8Z"/>
<path d="M741.8 624L744.9 622.5L749.2 622.1L753 624.6L756.1 627.1L759.9 626.5L761.5 623.4L764 625.9L763 629.6L761.8 634L762.8 638.4L765.5 640.9L766.5 644L764.9 649L763 653.4L759.9 655.9L756.8 657.1L754.2 659.6L753.6 664L751.8 667.1L753 670.2L754.9 673.4L754.9 677.8L757.4 682.1L761.1 684.6L764.2 681.5L768 679.6L771.8 680.9L773.6 684L774.2 687.8L778 687.8L780.5 690.2L783.6 694L785.5 697.8L786.8 702.1L789.9 702.8L796 702.1"/>
<path d="M741.8 624L740.5 629L739.2 634L738.6 637.8L739.9 641.5L739.2 645.2L738 649L737.4 652.8L739.2 655.2L736.8 656.5L734.2 655.2L733 652.5L731.5 654L731.1 657.8L733 661.5L733.6 665.9L734.9 670.2L736.1 674L739.2 677.1L741.1 673.4L744.2 673.4L746.5 676.5L744.9 680.2L742.4 682.8L743 686.5L746.1 687.8L749.2 690.2L753 686.5L756.8 685.2L761.1 684.6"/>
<path d="M736.1 686.5L739.2 690.2L743 691.5L748 692.1L751.8 694L753.6 697.1L753.6 702.1L751.8 705.9L749.2 707.8L747.4 704.6L745.5 700.2L743 695.2L739.2 692.1L737.4 689Z"/>
<path d="M757.2 692.1L759.5 689.9L761.8 692.1L759.5 694.4Z"/>
<path d="M765.5 685.2L768 687.8L768.6 692.8L767.4 695.2L765.5 691.5L764.9 687.8Z"/>
<path d="M771.8 695.9L774.2 697.8L777.4 700.9L775.5 700.2L773 698.4Z"/>
<path d="M776.1 683.4L779.2 684L783 685.2L784.9 689L781.8 688.4L778 686.5Z"/>
<path d="M786.1 684L788.6 682.8L790.5 685.9L789.2 689.6L786.8 689Z"/>
<path d="M779.9 690.2L784.2 692.8L787.4 695.2L786.1 700.2L783.6 702.1L782.4 697.8L780.5 694Z"/>
<path d="M760.5 702.1L759.9 706.5L759 710.2L759.9 712"/>
<path d="M775.5 704L777.4 707.8L775.5 712"/>
<path d="M780.5 701.5L784.2 705.9L788 710.2L789.9 712"/>
<path d="M796 704L791.8 704L788.6 705.9L791.8 709L796 710.2"/>
<path d="M732.4 707.8L734.2 706.5L737.4 708.4L738 710.9L736.1 712L733 710.9Z"/>
<path d="M765.5 704.6L766.8 703.4L768 704.6L766.8 705.9Z"/>
<path d="M758 671.5L760.5 670.9L761.1 673.4L763.6 674L764.9 675.2"/>
<path d="M758.1 589.6L758.6 589.1L759.1 589.6L758.6 590.1Z"/>
<path d="M757.2 593.4L757.8 592.9L758.2 593.4L757.8 593.9Z"/>
<path d="M758.1 599L758.6 598.5L759.1 599L758.6 599.5Z"/>
<path d="M761 604L761.5 603.5L762 604L761.5 604.5Z"/>
<path d="M758.5 610.5L759 610L759.5 610.5L759 611Z"/>
<path d="M751.9 613.4L752.4 612.9L752.9 613.4L752.4 613.9Z"/>
<path d="M749.4 616.5L749.9 616L750.4 616.5L749.9 617Z"/>
<path d="M751 619.6L751.5 619.1L752 619.6L751.5 620.1Z"/>
<path d="M757.8 618.4L758.2 617.9L758.8 618.4L758.2 618.9Z"/>
<path d="M771 678L771.5 677.5L772 678L771.5 678.5Z"/>
<path d="M755.6 698.4L756.1 697.9L756.6 698.4L756.1 698.9Z"/>
<path d="M762.5 702.8L763 702.2L763.5 702.8L763 703.2Z"/>
<path d="M739.8 692.5L743.5 700L748.5 706.2L752.2 702.5L754.8 697.5L751 691.2"/>
<path d="M704.8 748L711 743.8L717.2 737.5L722.2 731.2L726 725L728.5 718.8L729.8 722.5L732.2 728.8L727.2 731.2L722.2 737.5L716 743.8L711 748"/>
<path d="M733 708.8L735.5 706.2L737.2 710L734.8 713Z"/>
<path d="M759.8 712.5L766 713.8L772.2 716.2L776 717.5L773.5 723.8L769.8 727.5L766 731.2L761 730L759.8 722.5L758.5 716.2Z"/>
<path d="M767.2 735L772.2 727.5L776 723.8L778.5 727.5L777.2 733.8L774.8 740L772.2 746.2L767.2 743.8L764.8 738.8Z"/>
<path d="M776 742.5L779.8 733.8L783.5 725L786 721.2L785.5 727.5L782.2 736.2L778.5 743.8Z"/>
<path d="M782.2 738.8L787.2 735L792.2 736.2L793 740L788.5 742.5L783.5 742Z"/>
<path d="M789.8 716.2L793.5 713.8L796 717.5L797.2 723.8L799.8 730L801 736.2L798.5 735L794.8 727.5L791 721.2Z"/>
<path d="M788.5 705L796 702.5L801 701.2L803.5 707.5L804.8 715L807.2 722.5L804.8 721.2L799.8 716.2L796 712.5L791 708.8Z"/>
<path d="M774.8 703.8L778.5 701.2L783.5 705L787.2 711.2L783.5 710L778.5 707.5Z"/>
<path d="M758.5 698.8L761 695L762.2 702.5L759.8 707.5L758.5 712.5"/>
<path d="M793.5 748L796 743.8L801 741.2L804.8 733.8L806 740L809.8 743.8L812.2 736.2L813 748"/>
<path d="M771 691.2L776 696.2L781 701.2"/>
<path d="M782.2 693.8L784.8 698.8L787.2 701.2"/>
<path d="M746.5 722.5L747.2 721.8L748 722.5L747.2 723.2Z"/>
<path d="M747.8 725L748.5 724.2L749.2 725L748.5 725.8Z"/>
<path d="M762.8 705L763.5 704.2L764.2 705L763.5 705.8Z"/>
<path d="M766.5 705L767.2 704.2L768 705L767.2 705.8Z"/>
<path d="M782.8 720L783.5 719.2L784.2 720L783.5 720.8Z"/>
<path d="M780.2 695L781 694.2L781.8 695L781 695.8Z"/>
<path d="M785.2 700L786 699.2L786.8 700L786 700.8Z"/>
<path d="M757.8 692.5L758.5 691.8L759.2 692.5L758.5 693.2Z"/>
<path d="M766.5 692.5L767.2 691.8L768 692.5L767.2 693.2Z"/>
<path d="M805.2 727.5L806 726.8L806.8 727.5L806 728.2Z"/>
<path d="M779 747L779.8 746.2L780.5 747L779.8 747.8Z"/>
<path d="M794 747L794.8 746.2L795.5 747L794.8 747.8Z"/>
<path d="M727.8 716.2L728.5 715.5L729.2 716.2L728.5 717Z"/>
<path d="M751.5 711.2L752.2 710.5L753 711.2L752.2 712Z"/>
<path d="M796 703.5L798.7 701.5L802 704.2L804.6 708.8L803.3 714.2L805.3 720"/>
<path d="M788 210L791.8 211.9L795.5 210.6L800.5 211.9L806.1 211.2L808.6 215L811.8 216.9L816.8 215.6L821.1 217.5L824.2 221.2L823.6 225.6L826.8 226.9L829.9 230.6L831.1 234.4L834.9 236.2L837.4 231.9L839.2 230L841.8 230.6L843 235.6L845.5 241.9L848 245.6L851.1 244.4L852.4 241.2L858 239.4L861.1 237.5L863 239.4L865.5 237.5L866.8 241.2L869.9 244.4L873 246.9L877.4 247.2L878 251.2L875.5 256.2L871.8 258.8L868 259.8L870.5 261.2L874.2 261L876.8 262.5L873 265L870.5 268.1L866.8 268.8L863 272.5L859.2 277.5L857.4 281.9L858.6 286.2L858.2 291.9L853 293.8L848 297.5L843 302.5L838 306.2L833.6 308.8L830.5 310.6L829.9 316.2L828.6 318.8L831.8 321.2L836.1 325L839.2 328"/>
<path d="M877.4 247.2L877 237.5L876.1 228.8L874.2 223.1L878 220.6L881.8 219.4L884.9 215L888 214.4L891.8 213.8L896.1 215.6L898 218.8L895.5 223.8L893.6 227.5L891.1 228.1L888.6 225L887.4 220L887.4 215.6"/>
<path d="M898 218.8L901.1 216.2L902.4 211.9L906.1 207.5L908 203.8L909.9 200"/>
<path d="M875.5 256.2L880.5 255L883 251.9L886.8 250L891.1 250.6L891.8 255L892.4 258.1L896.8 257.5L901.1 261L906.8 258.8L911.8 256.9L916 254.4L920.5 250.6L925.5 248.1L929 243.8"/>
<path d="M868 259.8L864.2 258.8L860.5 257.5L858 261.2L857.4 264.4L853 266.2L849.2 270L843 271.9L838 273.1L837.4 277.5L839.2 280L838 283.1L834.2 282.5L830.5 281.9L826.8 280L824.2 277.5L821.8 276.2L818.6 278.8L815.5 283.8L811.8 287.5L808 291.2L805.5 292.5L800.5 295L795.5 298.8L790.5 303.8L788 306.2"/>
<path d="M788 251.9L790.5 255L793.6 253.8L796.1 255L796.8 258.8L799.2 263.8L802.4 270L801.8 275L804.2 280L806.8 286.2L807.4 290L805.5 292.5"/>
<path d="M788 307.5L790.5 310L793.6 311.2L794.2 315L797.4 313.1L800.5 313.8L804.2 313.1L803 317.5L801.1 323.8L799.9 328"/>
<path d="M817.9 87.5L821.6 94.8L822.9 103.5L827.2 111L828.5 117.2L831 122.2L829.5 126L832.2 130.4L838.5 134.5L846 133.5L849.8 136.6L854.8 136.6L858.5 140.4L864.1 146.6L869.1 147.5L868.5 151L871 156L871.6 162.2L873.5 166L874.8 170L883.5 170L894.8 167.9L896 165.4L903.5 161.6L914.8 157.2L921 157.9L921.6 162.2L921 166L922.9 169.8L919.8 173.5L915.4 176L914.1 181L912.2 188.5L911 196L907.2 203.5L904.8 209.1L902.2 212.2L901 214"/>
<path d="M796 95.4L801 92L804.8 96L808.5 101.6L810.8 104.8L810.4 107.9L807.9 111L807.9 114.1L804.8 118.5L802.2 123.5L800.4 128.5L801 133.5L799.8 138.5L800.4 141L796 142.2"/>
<path d="M796 210.4L801 211.6L805.4 211L806.6 214"/>
<path d="M840.4 328L843.5 334.2L847.2 340.5L851 346.8L853.8 353L854.8 360.5L854.5 368L856.6 371.8L855.8 378L853.5 381.8L849.8 385.5L846 386.1L843.5 385.5L844.1 389.2L841 390.5L838.5 388L836 389.2L833.5 391.8L831 390.5L829.8 393.6L827.2 392.4L826 395.5L822.9 394.2L822.2 398L819.8 397.4L818.5 400.5L816.6 398L814.8 394.2L812.2 397.4L811 393L813.5 389.2L811 386.8L813.5 383L816 380.5L814.8 376.8L817.9 374.2L816 370.5L818.5 366.8L816.6 364.2L814.8 361.8L817.2 359.2L821 358L819.1 354.9L814.8 353L817.2 350.5L819.8 346.8L816 344.2L812.2 342.4L808.5 340.5L804.8 341.8L801 343L798.5 339.2L801 335.5L797.2 333L799.8 329.2L796 329.9"/>
<path d="M812.9 413L814.8 410.5L819.1 409.2L822.6 410.5L821.6 413.6L817.2 414.9L813.5 414.5Z"/>
<path d="M851.6 401.1L852.9 394.2L854.8 392L855.8 393.6L854.1 398L852.9 401.8Z"/>
<path d="M929.2 375.2L924 376.5L918.5 377.4L912.2 378.6L906 379.2L902.9 378L898.5 379.2L894.8 381.8L891 385.5L886 389.9L882.2 393L878.5 396.1L874.1 396.8L872.9 400.5L874.1 404.2L871 403.6L867.9 404.9L866 408L861 409.9L857.2 411.1L854.8 413L854.1 415.5L857.2 414.2L858.5 418L859.8 421.8L862.2 420.5L864.1 415.5L866.6 414.2L868.5 419.2L869.8 424.2L866 426.8L862.9 429.2L863.5 433L866.6 434.2L869.8 438L868.5 441.8L864.1 442.4L866 444.9L869.8 444.2L871 447.4L873.5 445.5L876 442.4L879.1 440.5L881 435.5L882.2 428L885.4 423L887.9 418L886 414.2L882.2 413L883.5 409.2L881 407.4L876 405.5L874.1 404.2"/>
<path d="M874.1 403L881 401.8L886 403L889.8 401.8L891 398L896 399.2L901 398L904.8 396.1L908.5 394.2L913.5 393L919.1 391.1L924 390.5L926.6 391.8L929.2 392.5"/>
<path d="M892.2 411.8L896 408L897.2 403L901 401.8L904.8 403L907.9 401.8L909.1 398L913.5 396.1L918.5 397.4L921 399.9L921 403L922.2 406.1L917.9 409.9L914.8 413.6L911 410.5L906.6 410.5L903.5 413L901 418L899.8 421.8L896 420.5L894.8 416.8L892.9 414.2Z"/>
<path d="M924 395.5L921.6 397.4L922.2 399.2L924 398.6"/>
<path d="M902.2 367.8L903.5 366.5L905 367.8L903.5 369Z"/>
<path d="M900 370.5L901 369.8L901.6 370.8L900.5 371.4Z"/>
<path d="M872.2 347.6L873 346.9L873.8 347.8L872.9 348.4Z"/>
<path d="M857.5 406.1L858.5 405.2L859.2 406.4L858.2 407.1Z"/>
<path d="M844.8 423.6L846 421.1L849.1 418L851 414.2L850.4 418L848.5 421.1L846.6 424.2Z"/>
<path d="M874.8 451.1L875.5 453.6L874.2 456"/>
<path d="M858.2 438L859.8 435.8L860.5 436.2L858.9 438.5Z"/>
<path d="M799.9 341.1L800.4 340.6L800.9 341.1L800.4 341.6Z"/>
<path d="M803 343.6L803.5 343.1L804 343.6L803.5 344.1Z"/>
<path d="M806.1 343L806.6 342.5L807.1 343L806.6 343.5Z"/>
<path d="M809.2 344.9L809.8 344.4L810.2 344.9L809.8 345.4Z"/>
<path d="M811.8 346.8L812.2 346.2L812.8 346.8L812.2 347.2Z"/>
<path d="M814.2 348.6L814.8 348.1L815.2 348.6L814.8 349.1Z"/>
<path d="M813 352.4L813.5 351.9L814 352.4L813.5 352.9Z"/>
<path d="M811.1 354.9L811.6 354.4L812.1 354.9L811.6 355.4Z"/>
<path d="M815.5 356.1L816 355.6L816.5 356.1L816 356.6Z"/>
<path d="M812.4 359.9L812.9 359.4L813.4 359.9L812.9 360.4Z"/>
<path d="M810.5 368L811 367.5L811.5 368L811 368.5Z"/>
<path d="M809.2 388L809.8 387.5L810.2 388L809.8 388.5Z"/>
<path d="M807.4 391.1L807.9 390.6L808.4 391.1L807.9 391.6Z"/>
<path d="M810.5 390.5L811 390L811.5 390.5L811 391Z"/>
<path d="M808.6 393.6L809.1 393.1L809.6 393.6L809.1 394.1Z"/>
<path d="M803 392L803.5 391.5L804 392L803.5 392.5Z"/>
<path d="M801.1 396.1L801.6 395.6L802.1 396.1L801.6 396.6Z"/>
<path d="M818 399.9L818.5 399.4L819 399.9L818.5 400.4Z"/>
<path d="M826.1 399.9L826.6 399.4L827.1 399.9L826.6 400.4Z"/>
<path d="M826.8 402.4L827.2 401.9L827.8 402.4L827.2 402.9Z"/>
<path d="M823.6 398L824.1 397.5L824.6 398L824.1 398.5Z"/>
<path d="M833 393L833.5 392.5L834 393L833.5 393.5Z"/>
<path d="M838.6 393L839.1 392.5L839.6 393L839.1 393.5Z"/>
<path d="M840.5 432.8L841 432.2L841.5 432.8L841 433.2Z"/>
<path d="M875.5 390.5L876 390L876.5 390.5L876 391Z"/>
<path d="M854.2 445.5L854.8 445L855.2 445.5L854.8 446Z"/>
<path d="M854.2 450.5L854.8 450L855.2 450.5L854.8 451Z"/>
<path d="M859.9 450.5L860.4 450L860.9 450.5L860.4 451Z"/>
<path d="M864.9 451.8L865.4 451.2L865.9 451.8L865.4 452.2Z"/>
<path d="M863.6 455.5L864.1 455L864.6 455.5L864.1 456Z"/>
<path d="M831.9 519.5L833.9 515.8L835.8 513.4L838.5 510.5L840.9 508.9L839.8 511.8L837.2 514.4L835.2 517.4L833.2 519.8Z"/>
<path d="M851.1 490.8L853.1 487.9L855.8 485.5L858.2 484.4L856.4 487.2L853.8 489.9L851.8 491.9Z"/>
<path d="M867.1 457.3L869 456L870.6 457.6L868.8 459.3Z"/>
<path d="M847.5 495.8L848.9 493.9L849.5 495.6L848.3 497.2Z"/>
<path d="M873.2 457.1L873.7 456.5L874.2 457.1L873.7 457.6Z"/>
<path d="M864.5 456.7L865.1 456.1L865.6 456.7L865.1 457.2Z"/>
<path d="M859.9 464.6L860.4 464.1L860.9 464.6L860.4 465.2Z"/>
<path d="M857.9 468L858.4 467.4L859 468L858.4 468.5Z"/>
<path d="M855.9 470.6L856.4 470.1L857 470.6L856.4 471.1Z"/>
<path d="M851.2 475.3L851.8 474.7L852.3 475.3L851.8 475.8Z"/>
<path d="M848.3 480.3L848.9 479.8L849.4 480.3L848.9 480.8Z"/>
<path d="M861.2 487.5L861.7 486.9L862.3 487.5L861.7 488Z"/>
<path d="M838.6 494.5L839.2 494L839.7 494.5L839.2 495Z"/>
<path d="M843.5 501.2L844.1 500.6L844.6 501.2L844.1 501.7Z"/>
<path d="M835.3 506.2L835.8 505.7L836.4 506.2L835.8 506.7Z"/>
<path d="M841.3 505.8L841.8 505.3L842.4 505.8L841.8 506.3Z"/>
<path d="M834 510.5L834.5 509.9L835 510.5L834.5 511Z"/>
<path d="M820.3 515.8L820.8 515.2L821.4 515.8L820.8 516.3Z"/>
<path d="M825.8 512.8L826.3 512.3L826.8 512.8L826.3 513.4Z"/>
<path d="M827.1 517.8L827.6 517.2L828.1 517.8L827.6 518.3Z"/>
<path d="M877.5 522.1L878.1 521.6L878.6 522.1L878.1 522.7Z"/>
<path d="M876.8 542.3L877.3 541.8L877.8 542.3L877.3 542.9Z"/>
<path d="M800.8 537.3L801.3 536.8L801.8 537.3L801.3 537.8Z"/>
<path d="M801.8 538.6L802.4 538.1L802.9 538.6L802.4 539.1Z"/>
<path d="M799.5 325.2L797.6 326.4L797.6 326.5L799.1 328.4L796.3 330.5L796.9 331.2L795.9 331.6L794.5 333.8L793.2 334.3L792.4 337L793.6 338.5L795.2 337.7L796.5 339.9L798.8 339.2L799 338.7L800.4 338.5L800.9 341.6L801.9 341.1L805.7 340L807.4 340.7L809.6 340.4L809.2 340.4L810.2 341.5L812 343.2L812.6 341.5L815.1 341.5L818.9 342.7L818.8 344.8L820.7 345.1L820.8 347.3L819.6 348.8L820.7 349.6L819.3 352.8L820.1 352.3L819.7 356.6L816.7 357.5L815.8 360.5L815.5 360.1"/>
<path d="M797.5 324.1L798.4 323.2L799.3 324.1L798.4 325Z"/>
<path d="M797 332.2L797.5 331.7L798 332.2L797.5 332.7Z"/>
<path d="M792.9 333.9L793.5 333.3L794 333.9L793.5 334.5Z"/>
<path d="M794.6 333.4L795.6 332.5L796.6 333.4L795.6 334.4Z"/>
<path d="M806.5 343.9L807.3 343.1L808 343.9L807.3 344.7Z"/>
<path d="M809.1 342.6L809.6 342.1L810.1 342.6L809.6 343.1Z"/>
<path d="M814 342.3L814.8 341.4L815.6 342.3L814.8 343.1Z"/>
<path d="M820.8 349L821.7 348L822.7 349L821.7 350Z"/>
<path d="M817.1 350.1L817.8 349.4L818.4 350.1L817.8 350.8Z"/>
<path d="M817.3 354L817.9 353.4L818.6 354L817.9 354.7Z"/>
<path d="M814.2 356.1L814.8 355.4L815.5 356.1L814.8 356.8Z"/>
<path d="M815.9 358L816.5 357.4L817.1 358L816.5 358.6Z"/>
<path d="M815.4 360.8L815.1 362.3L817.2 364L818.2 363.9L816.8 365.5L816.2 367.6L817.9 369.7L818.7 373L819 370.1L817.9 372.7L816.7 376.6L816.9 373.9L817.1 377.2L814.7 377.5L815 380L814.8 381.3L817 381.6L813.3 383.4L815.4 384.2L815.1 385L811.6 387.9L811.3 388.5L812.9 391.7L812.1 391.9L813.6 394.1L811.2 396.6L811.8 395.7L815.2 395.9L815.1 396.8L816.5 396.1"/>
<path d="M814 362L814.9 363.4L816.4 363.1L817.1 365.3L816.9 364.6L817.3 369L818.3 370.6L820.1 371.2L819.9 370.5L817.4 370.9L818.5 375L819.3 375.8L814.6 378.8L814.6 377.2L815.6 380.8L814.7 381.5L813 384.2L814.3 383.8L814.6 385.4L813.7 385.3L812.8 388.5L813.9 389.2L812.4 391.1L812.7 392.4L811.5 393L813.1 395.4L813 398.1L815.6 397.1L816 395L818.7 396.8"/>
<path d="M814.5 360.4L815.2 359.7L815.9 360.4L815.2 361.1Z"/>
<path d="M817.5 359.7L818.3 358.9L819 359.7L818.3 360.4Z"/>
<path d="M815.3 364.4L815.9 363.8L816.5 364.4L815.9 365Z"/>
<path d="M816.1 364.6L816.7 364L817.2 364.6L816.7 365.1Z"/>
<path d="M819.4 369L820.3 368.1L821.2 369L820.3 369.9Z"/>
<path d="M817.5 373.9L818.4 373L819.3 373.9L818.4 374.9Z"/>
<path d="M814.1 374.7L814.9 373.9L815.7 374.7L814.9 375.5Z"/>
<path d="M817.4 381.9L817.9 381.4L818.4 381.9L817.9 382.4Z"/>
<path d="M811.9 389.1L812.9 388.1L813.9 389.1L812.9 390Z"/>
<path d="M812.6 394.5L813.3 393.7L814.1 394.5L813.3 395.3Z"/>
<path d="M816.3 395.5L816.8 395L817.3 395.5L816.8 396.1Z"/>
<path d="M816 393.4L817 392.4L817.9 393.4L817 394.3Z"/>
<path d="M816.1 395.9L819.2 394.6L820.2 393.9L822.9 395.2L824.5 394.1L825 393.8L825.4 393.7L826.3 392.8L829.5 392.2L830 392.9L831.8 389.8L833.3 388.9L834.2 388.9L837.6 388.9L837.5 389.3L840.4 388.3L839.7 389.9L840.2 387.6L843.5 389.4L843.7 385.9"/>
<path d="M817.9 396.6L818.4 396L819 396.6L818.4 397.2Z"/>
<path d="M819.3 397.3L819.8 396.8L820.3 397.3L819.8 397.8Z"/>
<path d="M821.7 396.7L822.4 396L823.2 396.7L822.4 397.5Z"/>
<path d="M822.1 394.3L822.7 393.8L823.2 394.3L822.7 394.8Z"/>
<path d="M827 390.7L827.5 390.2L828 390.7L827.5 391.2Z"/>
<path d="M829.8 391.2L830.3 390.7L830.8 391.2L830.3 391.8Z"/>
<path d="M831.4 390.2L832.3 389.3L833.1 390.2L832.3 391Z"/>
<path d="M834.1 390.1L835 389.2L835.9 390.1L835 391Z"/>
<path d="M836.4 386.4L837.3 385.4L838.3 386.4L837.3 387.3Z"/>
<path d="M838.3 388.3L839 387.7L839.7 388.3L839 389Z"/>
<path d="M843.7 387L844.4 386.4L845 387L844.4 387.7Z"/>
<path d="M843.9 387.7L844.5 387.1L845 387.7L844.5 388.3Z"/>
<path d="M756.1 440.3L757.1 441.2L757.5 442.7L759.9 444.5L760.8 445.8L761.3 446.7L761.1 448.1L763.6 448.8L763.3 448.4L764.7 450L766.6 451.2L767.9 451.7L766.9 453.7L765.6 455.9L765.7 457L764 456.9L763.6 458.7L763.7 460.6L762.5 461.3L762 464.6L761.3 465.5L761 465.4L759.7 468.5L757.2 468.5L757.3 469.2L756.6 470.9L755 473.1L756.3 474.9L756.6 476.1L755.4 476.6L755.5 478.7L754.5 479.9L753.9 482L755.1 482.9L752.4 485.3L753.5 486.7L750.7 486.2L750.9 487.9L748.9 490.2L749.6 490.7L748 492L748 493.3L746.3 494.4L744 495.9L744.8 496.6L742.1 497.1L743 497.6L741.6 500.7L740.1 502.2L740.5 502.4L739.6 504.2L738.5 505.7L737 505.6L737.3 507.1L735 508.8L735.7 508.9L732.8 510.2L733.1 511.5L733.6 512.2L732.9 513.4L730.9 516L731.7 517.5L730.8 518.5L730.3 520.3L729.7 521.5L729.8 522.9L729.6 524.8L729.4 525.8L726.9 526.6L726.2 528.8L725.1 529.6L725.2 529.5L722.6 532.1L722.5 533L720.8 534.2L720.1 534.3L720.1 535.8"/>
<path d="M756.4 441.4L757.1 440.6L757.9 441.4L757.1 442.2Z"/>
<path d="M759.9 446.8L760.8 446L761.7 446.8L760.8 447.7Z"/>
<path d="M763.6 451.2L764.6 450.2L765.6 451.2L764.6 452.2Z"/>
<path d="M764.7 454.7L765.2 454.2L765.7 454.7L765.2 455.2Z"/>
<path d="M764.3 456.7L765.1 455.8L766 456.7L765.1 457.5Z"/>
<path d="M760.2 466.9L760.8 466.3L761.4 466.9L760.8 467.5Z"/>
<path d="M753.6 474.1L754.5 473.2L755.4 474.1L754.5 475Z"/>
<path d="M754.1 480.1L755 479.2L755.9 480.1L755 481Z"/>
<path d="M749.9 488.7L750.9 487.7L751.8 488.7L750.9 489.6Z"/>
<path d="M748.9 488.7L749.8 487.8L750.6 488.7L749.8 489.5Z"/>
<path d="M747.3 494.2L748.1 493.4L748.9 494.2L748.1 495Z"/>
<path d="M740.3 501.9L740.9 501.3L741.6 501.9L740.9 502.5Z"/>
<path d="M738.2 503.9L739.1 502.9L740.1 503.9L739.1 504.8Z"/>
<path d="M730.6 515.7L731.1 515.2L731.6 515.7L731.1 516.2Z"/>
<path d="M728.2 518.6L729 517.9L729.7 518.6L729 519.4Z"/>
<path d="M728.1 519.7L729 518.8L729.8 519.7L729 520.6Z"/>
<path d="M728.7 521.2L729.3 520.5L729.9 521.2L729.3 521.8Z"/>
<path d="M388.7 690.2L389.4 691.1L387.9 692.7L388.5 694.6L387.4 694.9L387.9 697L387.9 698.6L386.8 699.5L387.4 700.8L385.8 701.7L385.9 703.7L385.4 705L385.6 706.7L385.9 708L384.5 709.6L384.6 710.6L384.5 712.1L384.7 713.7L385.9 715"/>
<path d="M387.3 694.2L388.2 693.3L389.1 694.2L388.2 695.1Z"/>
<path d="M385.8 703.5L386.5 702.8L387.2 703.5L386.5 704.3Z"/>
<path d="M384 705.6L384.7 705L385.3 705.6L384.7 706.2Z"/>
<path d="M383.8 709.1L384.7 708.2L385.5 709.1L384.7 709.9Z"/>
<path d="M384.8 709.4L385.3 708.9L385.8 709.4L385.3 710Z"/>
<path d="M383.9 711.9L384.5 711.3L385.1 711.9L384.5 712.5Z"/>
<path d="M384.2 714.9L384.9 714.2L385.6 714.9L384.9 715.6Z"/>
<path d="M454 690.2L455.9 691.1L457.8 693.2L457.1 696.4L457.5 694.9L457.2 697.3L459.9 700.3L460.9 702.5L462.1 703.1L462.2 704.8L460.6 706.5L461.5 707.1L463.5 709.5L461.7 710.3L464.3 711.7L463.5 714.1L463.6 715.7L462.5 716.1L462.7 717.8L463.4 721L461.6 721.6L461.4 721.8L462.1 724.1L461.8 723.6L463.5 726.8L461.3 729.3L461.2 728.6L462 732.1L460.3 734.1L461.2 733.6L462.1 736.7L458.9 738.5L459.9 740.6L458.1 742.2L460.1 743.5L459.4 745.7L459.1 746.1L457.2 748.7"/>
<path d="M454.2 690.2L454.9 689.5L455.5 690.2L454.9 690.8Z"/>
<path d="M456.6 691.2L457.6 690.2L458.6 691.2L457.6 692.1Z"/>
<path d="M457.2 692.6L457.8 692L458.4 692.6L457.8 693.2Z"/>
<path d="M457.7 700.3L458.3 699.6L459 700.3L458.3 700.9Z"/>
<path d="M458.6 699.4L459.4 698.6L460.2 699.4L459.4 700.2Z"/>
<path d="M459.1 707.9L460 707L460.9 707.9L460 708.8Z"/>
<path d="M459.4 708.5L460.2 707.7L461.1 708.5L460.2 709.3Z"/>
<path d="M464.2 709.4L464.8 708.8L465.3 709.4L464.8 710Z"/>
<path d="M462 711.2L463 710.3L464 711.2L463 712.2Z"/>
<path d="M461.7 718.8L462.6 718L463.4 718.8L462.6 719.6Z"/>
<path d="M462.9 720.1L463.5 719.5L464.1 720.1L463.5 720.7Z"/>
<path d="M463.3 722.3L464.2 721.5L465 722.3L464.2 723.1Z"/>
<path d="M458.5 727L459.4 726.1L460.3 727L459.4 727.9Z"/>
<path d="M459 733.3L459.8 732.5L460.6 733.3L459.8 734.1Z"/>
<path d="M459.5 730.4L460.4 729.5L461.3 730.4L460.4 731.3Z"/>
<path d="M459.6 741.8L460.3 741.1L460.9 741.8L460.3 742.4Z"/>
<path d="M450.1 666.3L449.9 665.7L450.9 668.9L451.2 670.5L451.2 671.3L451 673.2L451.5 675.6L452.5 675.7L453.1 678.2L453.8 680.7L454 680.2L454.7 681.9L455.8 684.2L455.2 687.4L454.6 687.8L455.9 688.9L457 691.3L458.3 692.5L459.8 692.7L461.2 695.2L459.4 696.6L461.6 699.5L460.9 700.6L461.9 703.1L462 704.8L461.2 705.1L462.1 707.8L461.3 709.3L461.2 711.1L461.7 712.5"/>
<path d="M449.5 664.8L450 664.3L450.5 664.8L450 665.3Z"/>
<path d="M450.5 666.7L451.3 665.9L452.1 666.7L451.3 667.5Z"/>
<path d="M448.3 671.1L449.3 670.1L450.2 671.1L449.3 672Z"/>
<path d="M451.1 672.6L452 671.8L452.8 672.6L452 673.5Z"/>
<path d="M452.2 674.7L453.1 673.8L453.9 674.7L453.1 675.5Z"/>
<path d="M450.2 675.6L451 674.8L451.8 675.6L451 676.4Z"/>
<path d="M451.8 677.4L452.4 676.7L453.1 677.4L452.4 678Z"/>
<path d="M452.4 679.5L453 678.9L453.6 679.5L453 680.1Z"/>
<path d="M452.1 680.3L452.8 679.6L453.6 680.3L452.8 681.1Z"/>
<path d="M452.9 683.2L453.4 682.7L454 683.2L453.4 683.8Z"/>
<path d="M454.3 684.5L455 683.9L455.6 684.5L455 685.2Z"/>
<path d="M454.3 686L455.1 685.3L455.8 686L455.1 686.8Z"/>
<path d="M455.1 687.7L455.8 687.1L456.4 687.7L455.8 688.4Z"/>
<path d="M460.6 697.2L461.6 696.3L462.6 697.2L461.6 698.2Z"/>
<path d="M459.9 698.8L460.5 698.1L461.1 698.8L460.5 699.4Z"/>
<path d="M461.4 704.6L462 704L462.6 704.6L462 705.2Z"/>
<path d="M462.1 705.8L462.6 705.3L463.2 705.8L462.6 706.4Z"/>
<path d="M460.3 710L461.1 709.2L461.8 710L461.1 710.7Z"/>
<path d="M412.6 660.1L412.9 659.2L414.9 660.8L416.4 660L417.7 661.8L418.8 662L421 660.6L422.4 658.9L423.2 658.9L424.3 656.7L425 655.5L427.4 655.3L428.6 654L429.8 652.9L431.3 651.7L432.6 650.8L432.2 649L433.6 648L434 646.5L435.5 645.7L436.7 643.8L437.4 643.4L438.2 642.4L438.7 640.2"/>
<path d="M412.6 660L413.5 659.2L414.4 660L413.5 660.9Z"/>
<path d="M414.1 660.4L414.9 659.6L415.6 660.4L414.9 661.1Z"/>
<path d="M423.2 657L424.1 656L425.1 657L424.1 657.9Z"/>
<path d="M426.9 655.5L427.7 654.7L428.5 655.5L427.7 656.3Z"/>
<path d="M427.1 652.2L427.8 651.5L428.5 652.2L427.8 652.9Z"/>
<path d="M433.4 646.3L434.1 645.7L434.7 646.3L434.1 647Z"/>
<path d="M434.9 645.7L435.7 644.9L436.5 645.7L435.7 646.5Z"/>
<path d="M379.1 589L379.9 589.9L381 591.5L382.7 592L383.8 592.9L383.9 595.9L384.7 595.9L385.8 598.2L387.6 598L387.9 599.8L390.1 600.8L391 602.9L392.2 603.2L393.4 603.7L394 604.7L396 605.9L398.7 606.7L397.7 609.1L400.3 610.6L401.5 613.3L401.4 612.7L402.6 616.1L402.1 616.3L401.1 617.9L398.9 619.2L398.6 620L398 621.5"/>
<path d="M379.1 590.9L380 590L380.9 590.9L380 591.9Z"/>
<path d="M380.8 591.1L381.6 590.4L382.3 591.1L381.6 591.8Z"/>
<path d="M382.7 591.8L383.4 591L384.1 591.8L383.4 592.5Z"/>
<path d="M381.1 594L382 593.1L383 594L382 595Z"/>
<path d="M386.8 598.3L387.7 597.3L388.7 598.3L387.7 599.2Z"/>
<path d="M384.7 599L385.7 598L386.7 599L385.7 600Z"/>
<path d="M388.7 601L389.5 600.2L390.3 601L389.5 601.7Z"/>
<path d="M394.6 605.3L395.3 604.6L395.9 605.3L395.3 605.9Z"/>
<path d="M396.1 608.9L397 608L397.8 608.9L397 609.7Z"/>
<path d="M399.8 608.9L400.7 608L401.7 608.9L400.7 609.9Z"/>
<path d="M400.7 613L401.4 612.3L402.1 613L401.4 613.7Z"/>
<path d="M401.2 618.7L401.9 618L402.5 618.7L401.9 619.4Z"/>
<path d="M397.8 621.5L398.7 620.6L399.5 621.5L398.7 622.3Z"/>
<path d="M397.8 621.6L398.7 620.7L399.7 621.6L398.7 622.6Z"/>
<path d="M385.5 712.5L385.3 711L385.1 709.7L385.6 708.7L386.1 706.7L385.4 705.6L385.5 703.6L386.1 701.6L386.3 701.9L387 698.8L387.7 698.1L387.2 696.2L388 695.7L388.4 694.8L388.5 693.2L388.7 690.7L389.7 690.4"/>
<path d="M385.2 707.1L385.9 706.3L386.6 707.1L385.9 707.8Z"/>
<path d="M384.7 704.2L385.2 703.7L385.7 704.2L385.2 704.7Z"/>
<path d="M388.4 693L389.1 692.3L389.8 693L389.1 693.7Z"/>
<path d="M619 583.4L622.1 582.9L623.2 581.6L624.6 581.9L626.9 581.7L627.8 580.7L628.8 580.7L631.6 579.3L631.5 580.4L635 579.8L635.9 578.9L637 578L639.1 578.4L639.2 577.9L641.5 577.5L644 577L642.9 575.3L645.8 574.5L646.7 571.2L647.7 571.1L648.9 570.1L648.2 569.4L649 568L650.9 565.7L650.9 566.2L652.9 567.2L654.7 568.9L656.5 569.3L657 568.1L659.9 568.9L661.2 567.9L661.7 569L663.3 567.6L666.1 567.1L666.2 566.8L667.9 566.2"/>
<path d="M622.3 583.9L623.3 582.9L624.2 583.9L623.3 584.8Z"/>
<path d="M621.2 582L621.9 581.3L622.6 582L621.9 582.7Z"/>
<path d="M629 581.1L629.5 580.6L630.1 581.1L629.5 581.7Z"/>
<path d="M630.5 581.8L631.3 581L632.1 581.8L631.3 582.6Z"/>
<path d="M636.5 578.7L637.3 577.8L638.2 578.7L637.3 579.6Z"/>
<path d="M643.4 577.1L644 576.5L644.6 577.1L644 577.7Z"/>
<path d="M644.6 574.1L645.4 573.3L646.3 574.1L645.4 575Z"/>
<path d="M645.3 571.1L646.1 570.3L646.8 571.1L646.1 571.8Z"/>
<path d="M649.8 566.3L650.5 565.6L651.2 566.3L650.5 567Z"/>
<path d="M651.3 565.5L652 564.8L652.7 565.5L652 566.2Z"/>
<path d="M652.5 567L653.3 566.3L654 567L653.3 567.8Z"/>
<path d="M658.5 568.4L659.2 567.7L659.9 568.4L659.2 569Z"/>
<path d="M657.7 567.7L658.4 566.9L659.2 567.7L658.4 568.5Z"/>
<path d="M658.7 567.5L659.5 566.6L660.4 567.5L659.5 568.4Z"/>
<path d="M563.6 593.8L564.7 592.9L565.9 592.2L567.3 591.7L569.6 591.7L570.7 589.9L571.8 588.9L574.8 588.5L575 589.4L575.9 586.9L577.6 588.3L579.3 585.3L579.6 586.1L582.2 584.7"/>
<path d="M563.4 594L563.9 592.2L565.5 591.9L567.7 591.2L570.3 591.8L571.4 590.4L571.9 589.1L574 590.1L574.5 588L575.2 588.5L578.2 587.9L577.5 585.7L578.7 586.6L581.1 583.7"/>
<path d="M562.8 593.1L563.4 592.5L563.9 593.1L563.4 593.6Z"/>
<path d="M568.7 590.8L569.6 589.9L570.5 590.8L569.6 591.7Z"/>
<path d="M573.3 586.7L574.1 586L574.8 586.7L574.1 587.4Z"/>
<path d="M575.9 587.5L576.6 586.8L577.3 587.5L576.6 588.2Z"/>
<path d="M577.7 587.3L578.3 586.6L579 587.3L578.3 587.9Z"/>
<path d="M581.5 584.6L582 584.1L582.5 584.6L582 585.1Z"/>
<path d="M667.6 567.1L668.9 567.6L670.3 568.2L672.6 567.7L674.2 567.7L675.6 567.5L677.7 567.3L678.6 567.1L680.5 566.1L682.1 566.1L682.8 565.5L685.1 564L687.1 564.5L688 563L688.9 561.7L690.9 560.2L691.5 558.3L692.4 558.5L693.5 556.1L694.7 556.2L696 554.9L697.4 554.1L698.1 553.4L700.3 552.7L700.4 551L702.6 549.2L703.1 548.3L704.3 547.3L705.4 546.5L705.7 545L706.6 544L708.3 542.2L709.6 542.8L711.8 541.4L712.7 539.8L714.7 539.9L715.4 539.1L717.7 538L718.1 537L719.3 536L719.8 534.5L720.4 532.7L722 532L722.6 530.4L725.2 530.6L725.8 529.4L728.6 529.5"/>
<path d="M670.1 567.6L671 566.7L671.9 567.6L671 568.5Z"/>
<path d="M673.6 568.1L674.5 567.2L675.4 568.1L674.5 569Z"/>
<path d="M674.8 567.9L675.4 567.2L676.1 567.9L675.4 568.5Z"/>
<path d="M683.5 564.5L684.3 563.7L685 564.5L684.3 565.2Z"/>
<path d="M685.9 563.8L686.6 563.1L687.4 563.8L686.6 564.5Z"/>
<path d="M690 559.4L690.7 558.7L691.3 559.4L690.7 560.1Z"/>
<path d="M696.3 553.4L697 552.7L697.7 553.4L697 554.1Z"/>
<path d="M697.6 553.6L698.3 552.9L699 553.6L698.3 554.3Z"/>
<path d="M700.9 551.3L701.6 550.6L702.3 551.3L701.6 552Z"/>
<path d="M702.5 546.5L703.3 545.6L704.2 546.5L703.3 547.3Z"/>
<path d="M707.3 541.9L707.9 541.3L708.5 541.9L707.9 542.5Z"/>
<path d="M712.5 541L713.3 540.2L714.1 541L713.3 541.7Z"/>
<path d="M714.5 539.4L715.3 538.6L716.1 539.4L715.3 540.2Z"/>
<path d="M718.6 535.7L719.2 535.1L719.8 535.7L719.2 536.3Z"/>
<path d="M725.8 530.3L726.4 529.7L726.9 530.3L726.4 530.8Z"/>
<path d="M326.5 575.1L326.9 574.8L328.1 578.7L331.1 576.9L330.6 578.2L330.9 580.2L334.7 580.3L336.5 579.1L337.1 580.1L339.1 578.4L338.4 579.3L341.6 577.3L343.8 578.8L344.4 578L346 579L346.5 578.7L348.5 577.2L351.3 576.7L351.6 575.6L352.6 575.8L353.5 574.7L356.2 575.8L355.6 573.2L358.6 574.4L358 572.1L361.2 573.4L362.5 569.8L364.3 570.5L364.2 570.5L364.9 569L365.5 570.1L369 568.5L370.3 568.5"/>
<path d="M333.1 579.4L333.8 578.7L334.5 579.4L333.8 580.2Z"/>
<path d="M336.2 578.9L336.9 578.3L337.5 578.9L336.9 579.5Z"/>
<path d="M337.3 578.1L337.8 577.6L338.3 578.1L337.8 578.6Z"/>
<path d="M339.5 580.3L340 579.8L340.5 580.3L340 580.8Z"/>
<path d="M339.7 576.9L340.3 576.4L340.9 576.9L340.3 577.5Z"/>
<path d="M343.2 579.1L343.8 578.5L344.4 579.1L343.8 579.7Z"/>
<path d="M344.8 578.5L345.6 577.7L346.3 578.5L345.6 579.2Z"/>
<path d="M351.2 578L351.9 577.3L352.6 578L351.9 578.7Z"/>
<path d="M353.8 575.4L354.6 574.5L355.5 575.4L354.6 576.2Z"/>
<path d="M355.4 576.7L356 576L356.7 576.7L356 577.4Z"/>
<path d="M361.4 570.3L362.4 569.3L363.3 570.3L362.4 571.2Z"/>
</g>
<g class="g">
<line x1="159.5" y1="87.2" x2="159.5" y2="748.9"/>
<line x1="351.5" y1="87.2" x2="351.5" y2="748.9"/>
<line x1="542.5" y1="87.2" x2="542.5" y2="748.9"/>
<line x1="734.5" y1="87.2" x2="734.5" y2="748.9"/>
<line x1="925.5" y1="87.2" x2="925.5" y2="748.9"/>
<line x1="156.4" y1="220.5" x2="929.3" y2="220.5"/>
<line x1="156.4" y1="462.9" x2="929.3" y2="462.9"/>
<line x1="156.4" y1="671.3" x2="929.3" y2="671.3"/>
</g>
</g>
<rect x="156.4" y="87.2" width="772.8" height="661.7" fill="none" stroke="#000" stroke-width="1.3" stroke-linejoin="round"/>
<g class="k">
<line x1="159.5" y1="748.9" x2="159.5" y2="767"/>
<line x1="351.5" y1="748.9" x2="351.5" y2="767"/>
<line x1="542.5" y1="748.9" x2="542.5" y2="767"/>
<line x1="734.5" y1="748.9" x2="734.5" y2="767"/>
<line x1="925.5" y1="748.9" x2="925.5" y2="767"/>
<line x1="137.8" y1="125" x2="156.4" y2="125"/>
<line x1="137.8" y1="306.5" x2="156.4" y2="306.5"/>
<line x1="137.8" y1="462.9" x2="156.4" y2="462.9"/>
<line x1="137.8" y1="604.2" x2="156.4" y2="604.2"/>
<line x1="137.8" y1="736.5" x2="156.4" y2="736.5"/>
</g>
<text class="a" text-anchor="middle" transform="translate(159.8,804.2) scale(1,1.035)">75°E</text>
<text class="a" text-anchor="middle" transform="translate(351.8,804.2) scale(1,1.035)">90°E</text>
<text class="a" text-anchor="middle" transform="translate(542.8,804.2) scale(1,1.035)">105°E</text>
<text class="a" text-anchor="middle" transform="translate(734.8,804.2) scale(1,1.035)">120°E</text>
<text class="a" text-anchor="middle" transform="translate(925.8,804.2) scale(1,1.035)">135°E</text>
<text class="a" text-anchor="end" transform="translate(121.8,134.2) scale(1,1.035)">50°N</text>
<text class="a" text-anchor="end" transform="translate(121.8,315.7) scale(1,1.035)">40°N</text>
<text class="a" text-anchor="end" transform="translate(121.8,472.1) scale(1,1.035)">30°N</text>
<text class="a" text-anchor="end" transform="translate(121.8,613.4) scale(1,1.035)">20°N</text>
<text class="a" text-anchor="end" transform="translate(121.8,745.7) scale(1,1.035)">10°N</text>
<text class="t" transform="translate(542.7,42.9) scale(1,1.035)">2026-04-15 12:00:00 UTC</text>
<text class="t" transform="translate(542.2,76.3) scale(1,1.035)">2026-04-15 20:00:00 CST</text>
<text class="p" transform="translate(154.1,70.2) scale(1,1.07)">PM<tspan class="s" dy="6.2" dx="0.3">2.5</tspan></text>
<text class="u" text-anchor="end" transform="translate(929.8,70.2) scale(1,1.0)">µg m<tspan class="v" dy="-14" dx="1.2">-3</tspan></text>
<rect x="166.2" y="857.3" width="57.9" height="59" fill="#b4fdae" stroke="#222" stroke-width=".6"/>
<rect x="224.1" y="857.3" width="57.9" height="59" fill="#12e408" stroke="#222" stroke-width=".6"/>
<rect x="282.1" y="857.3" width="57.9" height="59" fill="#fff064" stroke="#222" stroke-width=".6"/>
<rect x="340" y="857.3" width="57.9" height="59" fill="#f5e105" stroke="#222" stroke-width=".6"/>
<rect x="397.9" y="857.3" width="57.9" height="59" fill="#ffb45f" stroke="#222" stroke-width=".6"/>
<rect x="455.9" y="857.3" width="57.9" height="59" fill="#f58505" stroke="#222" stroke-width=".6"/>
<rect x="513.8" y="857.3" width="57.9" height="59" fill="#ff1e00" stroke="#222" stroke-width=".6"/>
<rect x="571.7" y="857.3" width="57.9" height="59" fill="#dc0000" stroke="#222" stroke-width=".6"/>
<rect x="629.6" y="857.3" width="57.9" height="59" fill="#be4b96" stroke="#222" stroke-width=".6"/>
<rect x="687.6" y="857.3" width="57.9" height="59" fill="#a0006e" stroke="#222" stroke-width=".6"/>
<rect x="745.5" y="857.3" width="57.9" height="59" fill="#9b5046" stroke="#222" stroke-width=".6"/>
<rect x="803.4" y="857.3" width="57.9" height="59" fill="#8c2305" stroke="#222" stroke-width=".6"/>
<rect x="861.4" y="857.3" width="57.9" height="59" fill="#000000" stroke="#222" stroke-width=".6"/>
<text class="c" transform="translate(224.1,950.7) scale(1,1.07)">15</text>
<text class="c" transform="translate(282.1,950.7) scale(1,1.07)">35</text>
<text class="c" transform="translate(340,950.7) scale(1,1.07)">55</text>
<text class="c" transform="translate(397.9,950.7) scale(1,1.07)">75</text>
<text class="c" transform="translate(455.9,950.7) scale(1,1.07)">95</text>
<text class="c" transform="translate(513.8,950.7) scale(1,1.07)">115</text>
<text class="c" transform="translate(571.7,950.7) scale(1,1.07)">130</text>
<text class="c" transform="translate(629.6,950.7) scale(1,1.07)">150</text>
<text class="c" transform="translate(687.6,950.7) scale(1,1.07)">200</text>
<text class="c" transform="translate(745.5,950.7) scale(1,1.07)">250</text>
<text class="c" transform="translate(803.4,950.7) scale(1,1.07)">300</text>
<text class="c" transform="translate(861.4,950.7) scale(1,1.07)">350</text>
</svg>
</body></html>
